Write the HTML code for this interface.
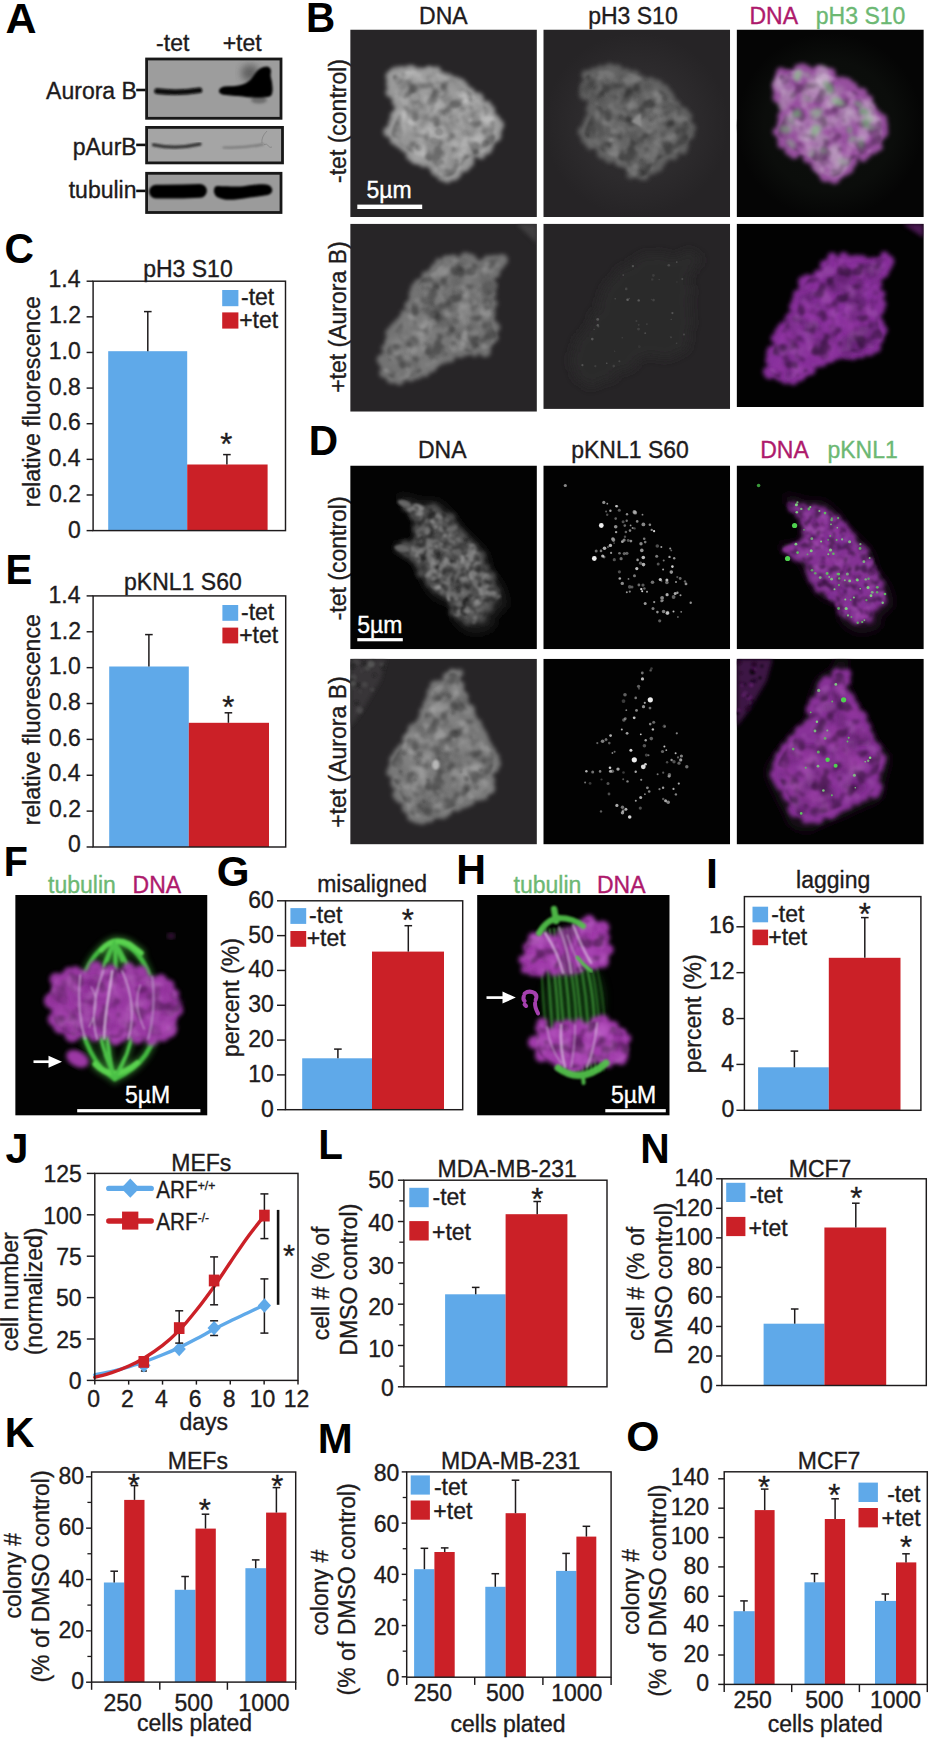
<!DOCTYPE html>
<html><head><meta charset="utf-8"><title>Figure</title>
<style>
html,body{margin:0;padding:0;background:#fff}
svg{display:block}
text{font-family:"Liberation Sans",Arial,Helvetica,sans-serif;stroke-width:0.35px}
</style></head><body>
<svg width="931" height="1739" viewBox="0 0 931 1739">
<defs>
<filter id="b1" x="-20%" y="-50%" width="140%" height="200%"><feGaussianBlur stdDeviation="0.9"/></filter>
<filter id="b2" x="-20%" y="-50%" width="140%" height="200%"><feGaussianBlur stdDeviation="1.8"/></filter>
<filter id="b3" x="-30%" y="-30%" width="160%" height="160%"><feGaussianBlur stdDeviation="3.5"/></filter>
<filter id="g1" x="-10%" y="-10%" width="120%" height="120%"><feGaussianBlur stdDeviation="1"/></filter>
<filter id="g2" x="-10%" y="-10%" width="120%" height="120%"><feGaussianBlur stdDeviation="2"/></filter>
<filter id="g3" x="-10%" y="-10%" width="120%" height="120%"><feGaussianBlur stdDeviation="3"/></filter>
<filter id="g5" x="-20%" y="-20%" width="140%" height="140%"><feGaussianBlur stdDeviation="5"/></filter>
<filter id="g12" x="-30%" y="-30%" width="160%" height="160%"><feGaussianBlur stdDeviation="12"/></filter>
<filter id="g06" x="-10%" y="-10%" width="120%" height="120%"><feGaussianBlur stdDeviation="0.6"/></filter>
<radialGradient id="glowA"><stop offset="0" stop-color="#2f2d2f"/><stop offset="0.6" stop-color="#2d2b2d"/><stop offset="1" stop-color="#262426"/></radialGradient>
<radialGradient id="glowB"><stop offset="0" stop-color="#0d100d"/><stop offset="0.7" stop-color="#0b0d0b"/><stop offset="1" stop-color="#050505"/></radialGradient>
<filter id="mW1" x="-5%" y="-5%" width="110%" height="110%" color-interpolation-filters="sRGB"><feTurbulence type="fractalNoise" baseFrequency="0.075" numOctaves="2" seed="3" result="t"/><feColorMatrix in="t" type="matrix" values="0 0 0 0 1  0 0 0 0 1  0 0 0 0 1  4.2 0 0 0 -2.0" result="w"/><feComposite in="w" in2="SourceGraphic" operator="in"/><feGaussianBlur stdDeviation="1.1"/></filter>
<filter id="mK1" x="-5%" y="-5%" width="110%" height="110%" color-interpolation-filters="sRGB"><feTurbulence type="fractalNoise" baseFrequency="0.075" numOctaves="2" seed="11" result="t"/><feColorMatrix in="t" type="matrix" values="0 0 0 0 0  0 0 0 0 0  0 0 0 0 0  4.2 0 0 0 -2.0" result="w"/><feComposite in="w" in2="SourceGraphic" operator="in"/><feGaussianBlur stdDeviation="1.1"/></filter>
<filter id="mW2" x="-5%" y="-5%" width="110%" height="110%" color-interpolation-filters="sRGB"><feTurbulence type="fractalNoise" baseFrequency="0.13" numOctaves="2" seed="5" result="t"/><feColorMatrix in="t" type="matrix" values="0 0 0 0 1  0 0 0 0 1  0 0 0 0 1  4.2 0 0 0 -2.0" result="w"/><feComposite in="w" in2="SourceGraphic" operator="in"/><feGaussianBlur stdDeviation="1.1"/></filter>
<filter id="mK2" x="-5%" y="-5%" width="110%" height="110%" color-interpolation-filters="sRGB"><feTurbulence type="fractalNoise" baseFrequency="0.13" numOctaves="2" seed="17" result="t"/><feColorMatrix in="t" type="matrix" values="0 0 0 0 0  0 0 0 0 0  0 0 0 0 0  4.2 0 0 0 -2.0" result="w"/><feComposite in="w" in2="SourceGraphic" operator="in"/><feGaussianBlur stdDeviation="1.1"/></filter>
<clipPath id="c1"><rect x="350.20" y="29.50" width="186.70" height="187.60"/></clipPath>
<clipPath id="c2"><rect x="543.30" y="29.50" width="186.80" height="187.60"/></clipPath>
<clipPath id="c3"><rect x="736.60" y="29.50" width="187.20" height="187.60"/></clipPath>
<clipPath id="c4"><rect x="350.20" y="223.70" width="186.70" height="188.00"/></clipPath>
<clipPath id="c5"><rect x="543.30" y="223.70" width="186.80" height="185.20"/></clipPath>
<clipPath id="c6"><rect x="736.60" y="223.70" width="187.20" height="183.40"/></clipPath>
<clipPath id="c7"><rect x="350.20" y="465.50" width="186.70" height="183.70"/></clipPath>
<clipPath id="c8"><rect x="543.30" y="465.50" width="186.80" height="183.70"/></clipPath>
<clipPath id="c9"><rect x="736.60" y="465.50" width="187.20" height="183.70"/></clipPath>
<clipPath id="c10"><rect x="350.20" y="658.80" width="186.70" height="185.60"/></clipPath>
<clipPath id="c11"><rect x="543.30" y="658.80" width="186.80" height="185.60"/></clipPath>
<clipPath id="c12"><rect x="736.60" y="658.80" width="187.20" height="185.60"/></clipPath>
<clipPath id="c13"><rect x="15.20" y="895.00" width="192.30" height="220.60"/></clipPath>
<clipPath id="c14"><rect x="477.10" y="895.00" width="192.60" height="220.60"/></clipPath>
</defs>
<rect width="931" height="1739" fill="#fff"/>
<g fill="#1e1b1c">
<text transform="translate(5.42 32.60) scale(1.0 1)" font-size="43" font-weight="bold" fill="#000">A</text>
<text x="156.08" y="51.40" font-size="23" stroke="#1e1b1c">-tet</text>
<text x="222.66" y="51.40" font-size="23" stroke="#1e1b1c">+tet</text>
<rect x="146.60" y="59.00" width="134.40" height="59.30" fill="#9d9d9d" stroke="#181818" stroke-width="2.8"/>
<rect x="146.60" y="127.40" width="135.90" height="35.50" fill="#a5a5a5" stroke="#181818" stroke-width="2.8"/>
<rect x="146.60" y="173.30" width="134.40" height="39.20" fill="#9b9b9b" stroke="#181818" stroke-width="2.8"/>
<text x="46.11" y="99.30" font-size="23" stroke="#1e1b1c">Aurora B</text>
<text x="72.72" y="154.50" font-size="23" stroke="#1e1b1c">pAurB</text>
<text x="68.74" y="197.70" font-size="23" stroke="#1e1b1c">tubulin</text>
<line x1="136.20" y1="90.00" x2="145.60" y2="90.00" stroke="#111" stroke-width="2.6"/>
<line x1="136.20" y1="144.90" x2="145.60" y2="144.90" stroke="#111" stroke-width="2.6"/>
<line x1="136.20" y1="190.90" x2="145.60" y2="190.90" stroke="#111" stroke-width="2.6"/>
<ellipse cx="250" cy="73" rx="9" ry="8.5" fill="#3a3a3a" opacity="0.6" filter="url(#b3)"/>
<ellipse cx="259" cy="100" rx="8" ry="3.5" fill="#3a3a3a" opacity="0.5" filter="url(#b2)"/>
<g filter="url(#b1)">
<path d="M157 91.1 Q178 93.6 199.500 90.3" fill="none" stroke="#080808" stroke-width="5.6" stroke-linecap="round"/>
<path d="M219.6 90.7C219.9 89.6 221.4 87.9 224.0 87.2C226.6 86.5 231.7 87.0 235.0 86.6C238.3 86.2 241.5 85.5 244.0 84.6C246.5 83.7 248.3 82.4 250.0 81.0C251.7 79.6 252.7 77.7 254.0 76.0C255.3 74.3 256.5 72.4 258.0 71.0C259.5 69.6 261.3 68.4 263.0 67.8C264.7 67.2 266.8 66.8 268.0 67.2C269.2 67.6 270.0 68.5 270.3 70.0C270.6 71.5 269.8 74.0 270.0 76.0C270.2 78.0 271.0 79.7 271.3 82.0C271.6 84.3 272.1 87.8 272.0 90.0C271.9 92.2 271.8 93.9 270.8 95.0C269.8 96.1 268.1 96.2 266.0 96.6C263.9 96.9 261.0 97.1 258.0 97.1C255.0 97.1 251.3 96.9 248.0 96.6C244.7 96.3 241.3 95.7 238.0 95.4C234.7 95.1 230.7 95.0 228.0 94.7C225.3 94.4 223.4 94.5 222.0 93.8C220.6 93.1 219.3 91.8 219.6 90.7Z" fill="#040404" stroke="#040404" stroke-width="1.2" stroke-linejoin="round"/>
</g>
<g filter="url(#b1)">
<path d="M153.500 144.8 Q176 149.6 200 144.2" fill="none" stroke="#333" stroke-width="3.3" stroke-linecap="round"/>
<path d="M223.500 147.5 Q245 148.2 263 144.4" fill="none" stroke="#7a7a7a" stroke-width="2.2" stroke-linecap="round"/>
</g>
<path d="M264 144.500 q3 -1 4 1 q2 3 4 1.500 M262 143 q-1 -6 5 -12" fill="none" stroke="#777" stroke-width="0.6"/>
<g filter="url(#b1)">
<path d="M156 191.600 Q180 191.800 200 190.800" fill="none" stroke="#040404" stroke-width="13.8" stroke-linecap="round"/>
<path d="M214.0 190.0C214.3 188.9 214.2 186.9 216.0 186.3C217.8 185.7 221.0 186.3 225.0 186.3C229.0 186.3 235.5 186.7 240.0 186.5C244.5 186.3 248.3 185.4 252.0 185.0C255.7 184.6 259.2 184.1 262.0 184.2C264.8 184.2 267.3 184.4 269.0 185.3C270.7 186.2 272.0 188.1 272.2 189.5C272.4 190.9 271.7 192.9 270.0 194.0C268.3 195.1 265.3 195.4 262.0 196.0C258.7 196.6 254.0 196.9 250.0 197.5C246.0 198.1 242.0 198.9 238.0 199.3C234.0 199.7 229.5 200.1 226.0 199.7C222.5 199.3 218.9 198.1 217.0 197.0C215.1 195.9 214.8 194.2 214.3 193.0C213.8 191.8 213.7 191.1 214.0 190.0Z" fill="#040404"/>
</g>
<text transform="translate(4.57 263.00) scale(0.947 1)" font-size="43" font-weight="bold" fill="#000">C</text>
<rect x="108.20" y="351.20" width="79.00" height="179.40" fill="#5fa9e9"/>
<rect x="187.20" y="464.50" width="80.40" height="66.10" fill="#cb2027"/>
<line x1="147.80" y1="311.60" x2="147.80" y2="351.20" stroke="#1e1b1c" stroke-width="1.5"/>
<line x1="144.00" y1="311.60" x2="151.60" y2="311.60" stroke="#1e1b1c" stroke-width="1.5"/>
<line x1="226.90" y1="454.60" x2="226.90" y2="464.50" stroke="#1e1b1c" stroke-width="1.5"/>
<line x1="223.10" y1="454.60" x2="230.70" y2="454.60" stroke="#1e1b1c" stroke-width="1.5"/>
<rect x="93.10" y="281.20" width="192.40" height="249.40" fill="none" stroke="#1e1b1c" stroke-width="1.45"/>
<line x1="86.60" y1="281.20" x2="93.10" y2="281.20" stroke="#1e1b1c" stroke-width="1.45"/>
<text x="48.51" y="286.90" font-size="23" stroke="#1e1b1c">1.4</text>
<line x1="86.60" y1="316.83" x2="93.10" y2="316.83" stroke="#1e1b1c" stroke-width="1.45"/>
<text x="48.97" y="322.79" font-size="23" stroke="#1e1b1c">1.2</text>
<line x1="86.60" y1="352.46" x2="93.10" y2="352.46" stroke="#1e1b1c" stroke-width="1.45"/>
<text x="48.74" y="358.67" font-size="23" stroke="#1e1b1c">1.0</text>
<line x1="86.60" y1="388.09" x2="93.10" y2="388.09" stroke="#1e1b1c" stroke-width="1.45"/>
<text x="48.85" y="394.56" font-size="23" stroke="#1e1b1c">0.8</text>
<line x1="86.60" y1="423.72" x2="93.10" y2="423.72" stroke="#1e1b1c" stroke-width="1.45"/>
<text x="48.85" y="430.45" font-size="23" stroke="#1e1b1c">0.6</text>
<line x1="86.60" y1="459.35" x2="93.10" y2="459.35" stroke="#1e1b1c" stroke-width="1.45"/>
<text x="48.51" y="466.34" font-size="23" stroke="#1e1b1c">0.4</text>
<line x1="86.60" y1="494.98" x2="93.10" y2="494.98" stroke="#1e1b1c" stroke-width="1.45"/>
<text x="48.97" y="502.22" font-size="23" stroke="#1e1b1c">0.2</text>
<line x1="86.60" y1="530.61" x2="93.10" y2="530.61" stroke="#1e1b1c" stroke-width="1.45"/>
<text x="67.94" y="538.11" font-size="23" stroke="#1e1b1c">0</text>
<text x="143.18" y="277.20" font-size="23" stroke="#1e1b1c">pH3 S10</text>
<rect x="222.20" y="290.00" width="16.20" height="16.20" fill="#5fa9e9"/>
<rect x="222.20" y="312.40" width="16.20" height="16.20" fill="#cb2027"/>
<text x="240.98" y="305.00" font-size="23" stroke="#1e1b1c">-tet</text>
<text x="239.16" y="327.90" font-size="23" stroke="#1e1b1c">+tet</text>
<text x="220.26" y="454.76" font-size="31" stroke="#1e1b1c">*</text>
<text x="40.30" y="507.24" font-size="23" stroke="#1e1b1c" transform="rotate(-90 40.30 507.24)">relative fluorescence</text>
<text transform="translate(5.39 583.60) scale(0.935 1)" font-size="43" font-weight="bold" fill="#000">E</text>
<rect x="109.20" y="666.50" width="79.60" height="180.50" fill="#5fa9e9"/>
<rect x="188.80" y="722.80" width="80.20" height="124.20" fill="#cb2027"/>
<line x1="148.90" y1="634.60" x2="148.90" y2="666.50" stroke="#1e1b1c" stroke-width="1.5"/>
<line x1="145.10" y1="634.60" x2="152.70" y2="634.60" stroke="#1e1b1c" stroke-width="1.5"/>
<line x1="228.40" y1="712.80" x2="228.40" y2="722.80" stroke="#1e1b1c" stroke-width="1.5"/>
<line x1="224.60" y1="712.80" x2="232.20" y2="712.80" stroke="#1e1b1c" stroke-width="1.5"/>
<rect x="93.10" y="595.90" width="192.60" height="251.10" fill="none" stroke="#1e1b1c" stroke-width="1.45"/>
<line x1="86.60" y1="595.90" x2="93.10" y2="595.90" stroke="#1e1b1c" stroke-width="1.45"/>
<text x="48.51" y="603.20" font-size="23" stroke="#1e1b1c">1.4</text>
<line x1="86.60" y1="631.77" x2="93.10" y2="631.77" stroke="#1e1b1c" stroke-width="1.45"/>
<text x="48.97" y="638.81" font-size="23" stroke="#1e1b1c">1.2</text>
<line x1="86.60" y1="667.64" x2="93.10" y2="667.64" stroke="#1e1b1c" stroke-width="1.45"/>
<text x="48.74" y="674.43" font-size="23" stroke="#1e1b1c">1.0</text>
<line x1="86.60" y1="703.51" x2="93.10" y2="703.51" stroke="#1e1b1c" stroke-width="1.45"/>
<text x="48.85" y="710.04" font-size="23" stroke="#1e1b1c">0.8</text>
<line x1="86.60" y1="739.38" x2="93.10" y2="739.38" stroke="#1e1b1c" stroke-width="1.45"/>
<text x="48.85" y="745.65" font-size="23" stroke="#1e1b1c">0.6</text>
<line x1="86.60" y1="775.25" x2="93.10" y2="775.25" stroke="#1e1b1c" stroke-width="1.45"/>
<text x="48.51" y="781.26" font-size="23" stroke="#1e1b1c">0.4</text>
<line x1="86.60" y1="811.12" x2="93.10" y2="811.12" stroke="#1e1b1c" stroke-width="1.45"/>
<text x="48.97" y="816.88" font-size="23" stroke="#1e1b1c">0.2</text>
<line x1="86.60" y1="846.99" x2="93.10" y2="846.99" stroke="#1e1b1c" stroke-width="1.45"/>
<text x="67.94" y="852.49" font-size="23" stroke="#1e1b1c">0</text>
<text x="124.09" y="590.00" font-size="23" stroke="#1e1b1c">pKNL1 S60</text>
<rect x="222.40" y="605.00" width="15.80" height="15.80" fill="#5fa9e9"/>
<rect x="222.40" y="627.60" width="15.80" height="15.80" fill="#cb2027"/>
<text x="240.98" y="620.00" font-size="23" stroke="#1e1b1c">-tet</text>
<text x="239.16" y="642.60" font-size="23" stroke="#1e1b1c">+tet</text>
<text x="222.36" y="717.76" font-size="31" stroke="#1e1b1c">*</text>
<text x="40.30" y="825.24" font-size="23" stroke="#1e1b1c" transform="rotate(-90 40.30 825.24)">relative fluorescence</text>
<text transform="translate(216.71 885.70) scale(0.98 1)" font-size="43" font-weight="bold" fill="#000">G</text>
<rect x="302.20" y="1058.30" width="69.80" height="51.40" fill="#5fa9e9"/>
<rect x="372.00" y="951.60" width="72.00" height="158.10" fill="#cb2027"/>
<line x1="337.90" y1="1049.10" x2="337.90" y2="1058.30" stroke="#1e1b1c" stroke-width="1.5"/>
<line x1="334.10" y1="1049.10" x2="341.70" y2="1049.10" stroke="#1e1b1c" stroke-width="1.5"/>
<line x1="408.30" y1="925.70" x2="408.30" y2="951.60" stroke="#1e1b1c" stroke-width="1.5"/>
<line x1="404.50" y1="925.70" x2="412.10" y2="925.70" stroke="#1e1b1c" stroke-width="1.5"/>
<rect x="285.50" y="900.80" width="177.20" height="208.90" fill="none" stroke="#1e1b1c" stroke-width="1.45"/>
<line x1="277.00" y1="900.80" x2="285.50" y2="900.80" stroke="#1e1b1c" stroke-width="1.45"/>
<text x="248.28" y="907.80" font-size="23" stroke="#1e1b1c">60</text>
<line x1="277.00" y1="935.62" x2="285.50" y2="935.62" stroke="#1e1b1c" stroke-width="1.45"/>
<text x="248.28" y="942.62" font-size="23" stroke="#1e1b1c">50</text>
<line x1="277.00" y1="970.44" x2="285.50" y2="970.44" stroke="#1e1b1c" stroke-width="1.45"/>
<text x="248.28" y="977.44" font-size="23" stroke="#1e1b1c">40</text>
<line x1="277.00" y1="1005.26" x2="285.50" y2="1005.26" stroke="#1e1b1c" stroke-width="1.45"/>
<text x="248.28" y="1012.26" font-size="23" stroke="#1e1b1c">30</text>
<line x1="277.00" y1="1040.08" x2="285.50" y2="1040.08" stroke="#1e1b1c" stroke-width="1.45"/>
<text x="248.28" y="1047.08" font-size="23" stroke="#1e1b1c">20</text>
<line x1="277.00" y1="1074.90" x2="285.50" y2="1074.90" stroke="#1e1b1c" stroke-width="1.45"/>
<text x="248.28" y="1081.90" font-size="23" stroke="#1e1b1c">10</text>
<line x1="277.00" y1="1109.72" x2="285.50" y2="1109.72" stroke="#1e1b1c" stroke-width="1.45"/>
<text x="261.04" y="1116.72" font-size="23" stroke="#1e1b1c">0</text>
<text x="317.17" y="892.40" font-size="23" stroke="#1e1b1c">misaligned</text>
<rect x="290.40" y="908.10" width="15.80" height="15.80" fill="#5fa9e9"/>
<rect x="290.40" y="931.00" width="15.80" height="15.80" fill="#cb2027"/>
<text x="309.08" y="923.20" font-size="23" stroke="#1e1b1c">-tet</text>
<text x="306.66" y="946.30" font-size="23" stroke="#1e1b1c">+tet</text>
<text x="401.85" y="930.76" font-size="31" stroke="#1e1b1c">*</text>
<text x="239.30" y="1057.06" font-size="23" stroke="#1e1b1c" transform="rotate(-90 239.30 1057.06)">percent (%)</text>
<text transform="translate(705.91 887.70) scale(1.0 1)" font-size="43" font-weight="bold" fill="#000">I</text>
<rect x="758.10" y="1067.30" width="70.70" height="43.00" fill="#5fa9e9"/>
<rect x="828.80" y="957.80" width="71.70" height="152.50" fill="#cb2027"/>
<line x1="794.40" y1="1051.10" x2="794.40" y2="1067.30" stroke="#1e1b1c" stroke-width="1.5"/>
<line x1="790.60" y1="1051.10" x2="798.20" y2="1051.10" stroke="#1e1b1c" stroke-width="1.5"/>
<line x1="864.80" y1="917.60" x2="864.80" y2="957.80" stroke="#1e1b1c" stroke-width="1.5"/>
<line x1="861.00" y1="917.60" x2="868.60" y2="917.60" stroke="#1e1b1c" stroke-width="1.5"/>
<rect x="744.40" y="896.60" width="176.50" height="213.70" fill="none" stroke="#1e1b1c" stroke-width="1.45"/>
<line x1="736.40" y1="926.80" x2="744.40" y2="926.80" stroke="#1e1b1c" stroke-width="1.45"/>
<text x="708.89" y="933.40" font-size="23" stroke="#1e1b1c">16</text>
<line x1="736.40" y1="972.67" x2="744.40" y2="972.67" stroke="#1e1b1c" stroke-width="1.45"/>
<text x="709.00" y="979.27" font-size="23" stroke="#1e1b1c">12</text>
<line x1="736.40" y1="1018.54" x2="744.40" y2="1018.54" stroke="#1e1b1c" stroke-width="1.45"/>
<text x="721.65" y="1025.14" font-size="23" stroke="#1e1b1c">8</text>
<line x1="736.40" y1="1064.41" x2="744.40" y2="1064.41" stroke="#1e1b1c" stroke-width="1.45"/>
<text x="721.31" y="1071.01" font-size="23" stroke="#1e1b1c">4</text>
<line x1="736.40" y1="1110.28" x2="744.40" y2="1110.28" stroke="#1e1b1c" stroke-width="1.45"/>
<text x="721.54" y="1116.88" font-size="23" stroke="#1e1b1c">0</text>
<text x="796.06" y="888.30" font-size="23" stroke="#1e1b1c">lagging</text>
<rect x="752.50" y="906.70" width="15.60" height="15.60" fill="#5fa9e9"/>
<rect x="752.50" y="929.60" width="15.60" height="15.60" fill="#cb2027"/>
<text x="771.18" y="921.80" font-size="23" stroke="#1e1b1c">-tet</text>
<text x="768.26" y="944.90" font-size="23" stroke="#1e1b1c">+tet</text>
<text x="858.75" y="925.17" font-size="31" stroke="#1e1b1c">*</text>
<text x="701.10" y="1073.25" font-size="23" stroke="#1e1b1c" transform="rotate(-90 701.10 1073.25)">percent (%)</text>
<text transform="translate(318.37 1158.70) scale(0.94 1)" font-size="43" font-weight="bold" fill="#000">L</text>
<rect x="445.10" y="1294.30" width="60.50" height="92.50" fill="#5fa9e9"/>
<rect x="505.60" y="1214.20" width="61.80" height="172.60" fill="#cb2027"/>
<line x1="475.70" y1="1287.40" x2="475.70" y2="1294.30" stroke="#1e1b1c" stroke-width="1.5"/>
<line x1="471.90" y1="1287.40" x2="479.50" y2="1287.40" stroke="#1e1b1c" stroke-width="1.5"/>
<line x1="537.20" y1="1201.50" x2="537.20" y2="1214.20" stroke="#1e1b1c" stroke-width="1.5"/>
<line x1="533.40" y1="1201.50" x2="541.00" y2="1201.50" stroke="#1e1b1c" stroke-width="1.5"/>
<rect x="403.90" y="1180.20" width="203.10" height="206.60" fill="none" stroke="#1e1b1c" stroke-width="1.45"/>
<line x1="397.90" y1="1180.20" x2="403.90" y2="1180.20" stroke="#1e1b1c" stroke-width="1.45"/>
<text x="368.27" y="1188.20" font-size="23" stroke="#1e1b1c">50</text>
<line x1="397.90" y1="1221.52" x2="403.90" y2="1221.52" stroke="#1e1b1c" stroke-width="1.45"/>
<text x="368.27" y="1230.60" font-size="23" stroke="#1e1b1c">40</text>
<line x1="397.90" y1="1262.84" x2="403.90" y2="1262.84" stroke="#1e1b1c" stroke-width="1.45"/>
<text x="368.27" y="1273.60" font-size="23" stroke="#1e1b1c">30</text>
<line x1="397.90" y1="1304.16" x2="403.90" y2="1304.16" stroke="#1e1b1c" stroke-width="1.45"/>
<text x="368.27" y="1315.00" font-size="23" stroke="#1e1b1c">20</text>
<line x1="397.90" y1="1345.48" x2="403.90" y2="1345.48" stroke="#1e1b1c" stroke-width="1.45"/>
<text x="368.27" y="1356.80" font-size="23" stroke="#1e1b1c">10</text>
<line x1="397.90" y1="1386.80" x2="403.90" y2="1386.80" stroke="#1e1b1c" stroke-width="1.45"/>
<text x="381.04" y="1396.20" font-size="23" stroke="#1e1b1c">0</text>
<line x1="399.30" y1="1200.86" x2="403.90" y2="1200.86" stroke="#1e1b1c" stroke-width="1.3"/>
<line x1="399.30" y1="1242.18" x2="403.90" y2="1242.18" stroke="#1e1b1c" stroke-width="1.3"/>
<line x1="399.30" y1="1283.50" x2="403.90" y2="1283.50" stroke="#1e1b1c" stroke-width="1.3"/>
<line x1="399.30" y1="1324.82" x2="403.90" y2="1324.82" stroke="#1e1b1c" stroke-width="1.3"/>
<line x1="399.30" y1="1366.14" x2="403.90" y2="1366.14" stroke="#1e1b1c" stroke-width="1.3"/>
<text x="437.57" y="1177.10" font-size="23" stroke="#1e1b1c">MDA-MB-231</text>
<rect x="409.30" y="1187.80" width="19.40" height="19.40" fill="#5fa9e9"/>
<rect x="409.30" y="1221.10" width="19.40" height="19.40" fill="#cb2027"/>
<text x="432.48" y="1204.60" font-size="23" stroke="#1e1b1c">-tet</text>
<text x="431.96" y="1240.00" font-size="23" stroke="#1e1b1c">+tet</text>
<text x="531.16" y="1209.56" font-size="31" stroke="#1e1b1c">*</text>
<text x="328.60" y="1340.29" font-size="23" stroke="#1e1b1c" transform="rotate(-90 328.60 1340.29)">cell # (% of</text>
<text x="356.80" y="1355.70" font-size="23" stroke="#1e1b1c" transform="rotate(-90 356.80 1355.70)">DMSO control)</text>
<text transform="translate(640.24 1163.40) scale(0.95 1)" font-size="43" font-weight="bold" fill="#000">N</text>
<rect x="763.60" y="1323.70" width="60.80" height="61.80" fill="#5fa9e9"/>
<rect x="824.40" y="1227.50" width="61.80" height="158.00" fill="#cb2027"/>
<line x1="794.70" y1="1309.00" x2="794.70" y2="1323.70" stroke="#1e1b1c" stroke-width="1.5"/>
<line x1="790.90" y1="1309.00" x2="798.50" y2="1309.00" stroke="#1e1b1c" stroke-width="1.5"/>
<line x1="855.80" y1="1203.20" x2="855.80" y2="1227.50" stroke="#1e1b1c" stroke-width="1.5"/>
<line x1="852.00" y1="1203.20" x2="859.60" y2="1203.20" stroke="#1e1b1c" stroke-width="1.5"/>
<rect x="721.90" y="1178.80" width="204.40" height="206.70" fill="none" stroke="#1e1b1c" stroke-width="1.45"/>
<line x1="716.10" y1="1178.80" x2="721.90" y2="1178.80" stroke="#1e1b1c" stroke-width="1.45"/>
<text x="674.41" y="1186.30" font-size="23" stroke="#1e1b1c">140</text>
<line x1="716.10" y1="1208.33" x2="721.90" y2="1208.33" stroke="#1e1b1c" stroke-width="1.45"/>
<text x="674.41" y="1215.83" font-size="23" stroke="#1e1b1c">120</text>
<line x1="716.10" y1="1237.86" x2="721.90" y2="1237.86" stroke="#1e1b1c" stroke-width="1.45"/>
<text x="674.41" y="1245.36" font-size="23" stroke="#1e1b1c">100</text>
<line x1="716.10" y1="1267.39" x2="721.90" y2="1267.39" stroke="#1e1b1c" stroke-width="1.45"/>
<text x="687.17" y="1274.89" font-size="23" stroke="#1e1b1c">80</text>
<line x1="716.10" y1="1296.92" x2="721.90" y2="1296.92" stroke="#1e1b1c" stroke-width="1.45"/>
<text x="687.17" y="1304.42" font-size="23" stroke="#1e1b1c">60</text>
<line x1="716.10" y1="1326.45" x2="721.90" y2="1326.45" stroke="#1e1b1c" stroke-width="1.45"/>
<text x="687.17" y="1333.95" font-size="23" stroke="#1e1b1c">40</text>
<line x1="716.10" y1="1355.98" x2="721.90" y2="1355.98" stroke="#1e1b1c" stroke-width="1.45"/>
<text x="687.17" y="1363.48" font-size="23" stroke="#1e1b1c">20</text>
<line x1="716.10" y1="1385.51" x2="721.90" y2="1385.51" stroke="#1e1b1c" stroke-width="1.45"/>
<text x="699.94" y="1393.01" font-size="23" stroke="#1e1b1c">0</text>
<text x="788.72" y="1176.80" font-size="23" stroke="#1e1b1c">MCF7</text>
<rect x="726.20" y="1182.80" width="19.20" height="19.20" fill="#5fa9e9"/>
<rect x="726.20" y="1216.90" width="19.20" height="19.20" fill="#cb2027"/>
<text x="749.38" y="1202.80" font-size="23" stroke="#1e1b1c">-tet</text>
<text x="748.57" y="1235.60" font-size="23" stroke="#1e1b1c">+tet</text>
<text x="850.25" y="1208.76" font-size="31" stroke="#1e1b1c">*</text>
<text x="644.10" y="1340.68" font-size="23" stroke="#1e1b1c" transform="rotate(-90 644.10 1340.68)">cell # (% of</text>
<text x="671.80" y="1354.60" font-size="23" stroke="#1e1b1c" transform="rotate(-90 671.80 1354.60)">DMSO control)</text>
<text transform="translate(4.83 1446.50) scale(0.955 1)" font-size="43" font-weight="bold" fill="#000">K</text>
<rect x="103.90" y="1582.50" width="20.30" height="99.60" fill="#5fa9e9"/>
<rect x="124.20" y="1499.90" width="20.30" height="182.20" fill="#cb2027"/>
<rect x="174.80" y="1589.80" width="20.70" height="92.30" fill="#5fa9e9"/>
<rect x="195.50" y="1528.60" width="20.30" height="153.50" fill="#cb2027"/>
<rect x="245.40" y="1568.20" width="20.70" height="113.90" fill="#5fa9e9"/>
<rect x="266.10" y="1512.60" width="20.30" height="169.50" fill="#cb2027"/>
<line x1="114.20" y1="1571.20" x2="114.20" y2="1582.50" stroke="#1e1b1c" stroke-width="1.5"/>
<line x1="110.40" y1="1571.20" x2="118.00" y2="1571.20" stroke="#1e1b1c" stroke-width="1.5"/>
<line x1="134.50" y1="1485.60" x2="134.50" y2="1499.90" stroke="#1e1b1c" stroke-width="1.5"/>
<line x1="130.70" y1="1485.60" x2="138.30" y2="1485.60" stroke="#1e1b1c" stroke-width="1.5"/>
<line x1="185.10" y1="1576.50" x2="185.10" y2="1589.80" stroke="#1e1b1c" stroke-width="1.5"/>
<line x1="181.30" y1="1576.50" x2="188.90" y2="1576.50" stroke="#1e1b1c" stroke-width="1.5"/>
<line x1="205.50" y1="1514.20" x2="205.50" y2="1528.60" stroke="#1e1b1c" stroke-width="1.5"/>
<line x1="201.70" y1="1514.20" x2="209.30" y2="1514.20" stroke="#1e1b1c" stroke-width="1.5"/>
<line x1="255.70" y1="1559.90" x2="255.70" y2="1568.20" stroke="#1e1b1c" stroke-width="1.5"/>
<line x1="251.90" y1="1559.90" x2="259.50" y2="1559.90" stroke="#1e1b1c" stroke-width="1.5"/>
<line x1="276.40" y1="1487.60" x2="276.40" y2="1512.60" stroke="#1e1b1c" stroke-width="1.5"/>
<line x1="272.60" y1="1487.60" x2="280.20" y2="1487.60" stroke="#1e1b1c" stroke-width="1.5"/>
<rect x="91.60" y="1472.00" width="204.10" height="210.10" fill="none" stroke="#1e1b1c" stroke-width="1.45"/>
<line x1="86.10" y1="1476.80" x2="91.60" y2="1476.80" stroke="#1e1b1c" stroke-width="1.45"/>
<text x="58.48" y="1483.80" font-size="23" stroke="#1e1b1c">80</text>
<line x1="86.10" y1="1528.15" x2="91.60" y2="1528.15" stroke="#1e1b1c" stroke-width="1.45"/>
<text x="58.48" y="1535.15" font-size="23" stroke="#1e1b1c">60</text>
<line x1="86.10" y1="1579.50" x2="91.60" y2="1579.50" stroke="#1e1b1c" stroke-width="1.45"/>
<text x="58.48" y="1586.50" font-size="23" stroke="#1e1b1c">40</text>
<line x1="86.10" y1="1630.85" x2="91.60" y2="1630.85" stroke="#1e1b1c" stroke-width="1.45"/>
<text x="58.48" y="1637.85" font-size="23" stroke="#1e1b1c">20</text>
<line x1="86.10" y1="1682.20" x2="91.60" y2="1682.20" stroke="#1e1b1c" stroke-width="1.45"/>
<text x="71.24" y="1689.20" font-size="23" stroke="#1e1b1c">0</text>
<line x1="87.40" y1="1502.40" x2="91.60" y2="1502.40" stroke="#1e1b1c" stroke-width="1.3"/>
<line x1="87.40" y1="1553.75" x2="91.60" y2="1553.75" stroke="#1e1b1c" stroke-width="1.3"/>
<line x1="87.40" y1="1605.10" x2="91.60" y2="1605.10" stroke="#1e1b1c" stroke-width="1.3"/>
<line x1="87.40" y1="1656.45" x2="91.60" y2="1656.45" stroke="#1e1b1c" stroke-width="1.3"/>
<line x1="91.60" y1="1682.10" x2="91.60" y2="1689.80" stroke="#1e1b1c" stroke-width="1.45"/>
<line x1="159.80" y1="1682.10" x2="159.80" y2="1689.80" stroke="#1e1b1c" stroke-width="1.45"/>
<line x1="227.40" y1="1682.10" x2="227.40" y2="1689.80" stroke="#1e1b1c" stroke-width="1.45"/>
<line x1="295.70" y1="1682.10" x2="295.70" y2="1689.80" stroke="#1e1b1c" stroke-width="1.45"/>
<text x="167.87" y="1469.30" font-size="23" stroke="#1e1b1c">MEFs</text>
<text x="127.86" y="1495.96" font-size="31" stroke="#1e1b1c">*</text>
<text x="198.76" y="1520.96" font-size="31" stroke="#1e1b1c">*</text>
<text x="271.35" y="1496.56" font-size="31" stroke="#1e1b1c">*</text>
<text x="103.38" y="1711.40" font-size="23" stroke="#1e1b1c">250</text>
<text x="174.59" y="1711.40" font-size="23" stroke="#1e1b1c">500</text>
<text x="238.35" y="1711.40" font-size="23" stroke="#1e1b1c">1000</text>
<text x="137.03" y="1731.40" font-size="23" stroke="#1e1b1c">cells plated</text>
<text x="21.30" y="1618.50" font-size="23" stroke="#1e1b1c" transform="rotate(-90 21.30 1618.50)">colony #</text>
<text x="49.30" y="1682.59" font-size="23" stroke="#1e1b1c" transform="rotate(-90 49.30 1682.59)">(% of DMSO control)</text>
<text transform="translate(317.87 1452.50) scale(0.977 1)" font-size="43" font-weight="bold" fill="#000">M</text>
<rect x="414.10" y="1569.20" width="20.30" height="108.00" fill="#5fa9e9"/>
<rect x="434.40" y="1552.00" width="20.30" height="125.20" fill="#cb2027"/>
<rect x="485.30" y="1586.80" width="20.30" height="90.40" fill="#5fa9e9"/>
<rect x="505.60" y="1513.20" width="20.30" height="164.00" fill="#cb2027"/>
<rect x="556.10" y="1570.90" width="20.30" height="106.30" fill="#5fa9e9"/>
<rect x="576.40" y="1536.60" width="19.90" height="140.60" fill="#cb2027"/>
<line x1="424.40" y1="1548.30" x2="424.40" y2="1569.20" stroke="#1e1b1c" stroke-width="1.5"/>
<line x1="420.60" y1="1548.30" x2="428.20" y2="1548.30" stroke="#1e1b1c" stroke-width="1.5"/>
<line x1="444.70" y1="1547.90" x2="444.70" y2="1552.00" stroke="#1e1b1c" stroke-width="1.5"/>
<line x1="440.90" y1="1547.90" x2="448.50" y2="1547.90" stroke="#1e1b1c" stroke-width="1.5"/>
<line x1="495.30" y1="1573.70" x2="495.30" y2="1586.80" stroke="#1e1b1c" stroke-width="1.5"/>
<line x1="491.50" y1="1573.70" x2="499.10" y2="1573.70" stroke="#1e1b1c" stroke-width="1.5"/>
<line x1="515.50" y1="1480.20" x2="515.50" y2="1513.20" stroke="#1e1b1c" stroke-width="1.5"/>
<line x1="511.70" y1="1480.20" x2="519.30" y2="1480.20" stroke="#1e1b1c" stroke-width="1.5"/>
<line x1="566.10" y1="1553.40" x2="566.10" y2="1570.90" stroke="#1e1b1c" stroke-width="1.5"/>
<line x1="562.30" y1="1553.40" x2="569.90" y2="1553.40" stroke="#1e1b1c" stroke-width="1.5"/>
<line x1="586.40" y1="1526.30" x2="586.40" y2="1536.60" stroke="#1e1b1c" stroke-width="1.5"/>
<line x1="582.60" y1="1526.30" x2="590.20" y2="1526.30" stroke="#1e1b1c" stroke-width="1.5"/>
<rect x="406.70" y="1471.90" width="204.40" height="205.30" fill="none" stroke="#1e1b1c" stroke-width="1.45"/>
<line x1="401.70" y1="1471.90" x2="406.70" y2="1471.90" stroke="#1e1b1c" stroke-width="1.45"/>
<text x="373.67" y="1480.90" font-size="23" stroke="#1e1b1c">80</text>
<line x1="401.70" y1="1523.12" x2="406.70" y2="1523.12" stroke="#1e1b1c" stroke-width="1.45"/>
<text x="373.67" y="1532.12" font-size="23" stroke="#1e1b1c">60</text>
<line x1="401.70" y1="1574.34" x2="406.70" y2="1574.34" stroke="#1e1b1c" stroke-width="1.45"/>
<text x="373.67" y="1583.34" font-size="23" stroke="#1e1b1c">40</text>
<line x1="401.70" y1="1625.56" x2="406.70" y2="1625.56" stroke="#1e1b1c" stroke-width="1.45"/>
<text x="373.67" y="1634.56" font-size="23" stroke="#1e1b1c">20</text>
<line x1="401.70" y1="1676.78" x2="406.70" y2="1676.78" stroke="#1e1b1c" stroke-width="1.45"/>
<text x="386.44" y="1685.78" font-size="23" stroke="#1e1b1c">0</text>
<line x1="402.70" y1="1497.50" x2="406.70" y2="1497.50" stroke="#1e1b1c" stroke-width="1.3"/>
<line x1="402.70" y1="1548.72" x2="406.70" y2="1548.72" stroke="#1e1b1c" stroke-width="1.3"/>
<line x1="402.70" y1="1599.94" x2="406.70" y2="1599.94" stroke="#1e1b1c" stroke-width="1.3"/>
<line x1="402.70" y1="1651.16" x2="406.70" y2="1651.16" stroke="#1e1b1c" stroke-width="1.3"/>
<line x1="406.70" y1="1677.20" x2="406.70" y2="1684.90" stroke="#1e1b1c" stroke-width="1.45"/>
<line x1="474.70" y1="1677.20" x2="474.70" y2="1684.90" stroke="#1e1b1c" stroke-width="1.45"/>
<line x1="542.90" y1="1677.20" x2="542.90" y2="1684.90" stroke="#1e1b1c" stroke-width="1.45"/>
<line x1="611.10" y1="1677.20" x2="611.10" y2="1684.90" stroke="#1e1b1c" stroke-width="1.45"/>
<text x="441.07" y="1468.80" font-size="23" stroke="#1e1b1c">MDA-MB-231</text>
<rect x="410.70" y="1475.40" width="19.20" height="19.20" fill="#5fa9e9"/>
<rect x="410.70" y="1500.50" width="19.20" height="19.20" fill="#cb2027"/>
<text x="433.88" y="1495.30" font-size="23" stroke="#1e1b1c">-tet</text>
<text x="433.36" y="1518.70" font-size="23" stroke="#1e1b1c">+tet</text>
<text x="413.68" y="1700.80" font-size="23" stroke="#1e1b1c">250</text>
<text x="485.90" y="1700.80" font-size="23" stroke="#1e1b1c">500</text>
<text x="551.15" y="1700.80" font-size="23" stroke="#1e1b1c">1000</text>
<text x="450.53" y="1731.50" font-size="23" stroke="#1e1b1c">cells plated</text>
<text x="327.90" y="1635.40" font-size="23" stroke="#1e1b1c" transform="rotate(-90 327.90 1635.40)">colony #</text>
<text x="355.50" y="1695.39" font-size="23" stroke="#1e1b1c" transform="rotate(-90 355.50 1695.39)">(% of DMSO control)</text>
<text transform="translate(626.19 1450.50) scale(0.993 1)" font-size="43" font-weight="bold" fill="#000">O</text>
<rect x="733.70" y="1611.20" width="21.00" height="73.20" fill="#5fa9e9"/>
<rect x="754.70" y="1510.10" width="19.90" height="174.30" fill="#cb2027"/>
<rect x="804.50" y="1582.30" width="20.30" height="102.10" fill="#5fa9e9"/>
<rect x="824.80" y="1519.00" width="20.30" height="165.40" fill="#cb2027"/>
<rect x="875.00" y="1600.90" width="21.00" height="83.50" fill="#5fa9e9"/>
<rect x="896.00" y="1562.40" width="20.30" height="122.00" fill="#cb2027"/>
<line x1="744.00" y1="1600.90" x2="744.00" y2="1611.20" stroke="#1e1b1c" stroke-width="1.5"/>
<line x1="740.20" y1="1600.90" x2="747.80" y2="1600.90" stroke="#1e1b1c" stroke-width="1.5"/>
<line x1="764.70" y1="1489.10" x2="764.70" y2="1510.10" stroke="#1e1b1c" stroke-width="1.5"/>
<line x1="760.90" y1="1489.10" x2="768.50" y2="1489.10" stroke="#1e1b1c" stroke-width="1.5"/>
<line x1="814.50" y1="1573.70" x2="814.50" y2="1582.30" stroke="#1e1b1c" stroke-width="1.5"/>
<line x1="810.70" y1="1573.70" x2="818.30" y2="1573.70" stroke="#1e1b1c" stroke-width="1.5"/>
<line x1="835.10" y1="1498.80" x2="835.10" y2="1519.00" stroke="#1e1b1c" stroke-width="1.5"/>
<line x1="831.30" y1="1498.80" x2="838.90" y2="1498.80" stroke="#1e1b1c" stroke-width="1.5"/>
<line x1="885.30" y1="1594.00" x2="885.30" y2="1600.90" stroke="#1e1b1c" stroke-width="1.5"/>
<line x1="881.50" y1="1594.00" x2="889.10" y2="1594.00" stroke="#1e1b1c" stroke-width="1.5"/>
<line x1="906.00" y1="1553.80" x2="906.00" y2="1562.40" stroke="#1e1b1c" stroke-width="1.5"/>
<line x1="902.20" y1="1553.80" x2="909.80" y2="1553.80" stroke="#1e1b1c" stroke-width="1.5"/>
<rect x="724.20" y="1471.80" width="203.10" height="212.60" fill="none" stroke="#1e1b1c" stroke-width="1.45"/>
<line x1="718.20" y1="1478.80" x2="724.20" y2="1478.80" stroke="#1e1b1c" stroke-width="1.45"/>
<text x="670.71" y="1485.40" font-size="23" stroke="#1e1b1c">140</text>
<line x1="718.20" y1="1508.17" x2="724.20" y2="1508.17" stroke="#1e1b1c" stroke-width="1.45"/>
<text x="670.71" y="1514.77" font-size="23" stroke="#1e1b1c">120</text>
<line x1="718.20" y1="1537.54" x2="724.20" y2="1537.54" stroke="#1e1b1c" stroke-width="1.45"/>
<text x="670.71" y="1544.14" font-size="23" stroke="#1e1b1c">100</text>
<line x1="718.20" y1="1566.91" x2="724.20" y2="1566.91" stroke="#1e1b1c" stroke-width="1.45"/>
<text x="683.48" y="1573.51" font-size="23" stroke="#1e1b1c">80</text>
<line x1="718.20" y1="1596.28" x2="724.20" y2="1596.28" stroke="#1e1b1c" stroke-width="1.45"/>
<text x="683.48" y="1602.88" font-size="23" stroke="#1e1b1c">60</text>
<line x1="718.20" y1="1625.65" x2="724.20" y2="1625.65" stroke="#1e1b1c" stroke-width="1.45"/>
<text x="683.48" y="1632.25" font-size="23" stroke="#1e1b1c">40</text>
<line x1="718.20" y1="1655.02" x2="724.20" y2="1655.02" stroke="#1e1b1c" stroke-width="1.45"/>
<text x="683.48" y="1661.62" font-size="23" stroke="#1e1b1c">20</text>
<line x1="718.20" y1="1684.39" x2="724.20" y2="1684.39" stroke="#1e1b1c" stroke-width="1.45"/>
<text x="696.24" y="1690.99" font-size="23" stroke="#1e1b1c">0</text>
<line x1="724.20" y1="1684.40" x2="724.20" y2="1692.10" stroke="#1e1b1c" stroke-width="1.45"/>
<line x1="791.70" y1="1684.40" x2="791.70" y2="1692.10" stroke="#1e1b1c" stroke-width="1.45"/>
<line x1="859.40" y1="1684.40" x2="859.40" y2="1692.10" stroke="#1e1b1c" stroke-width="1.45"/>
<line x1="927.30" y1="1684.40" x2="927.30" y2="1692.10" stroke="#1e1b1c" stroke-width="1.45"/>
<text x="797.72" y="1468.80" font-size="23" stroke="#1e1b1c">MCF7</text>
<rect x="858.50" y="1482.60" width="19.40" height="19.40" fill="#5fa9e9"/>
<rect x="858.50" y="1508.00" width="19.40" height="19.40" fill="#cb2027"/>
<text x="887.18" y="1502.20" font-size="23" stroke="#1e1b1c">-tet</text>
<text x="881.57" y="1526.30" font-size="23" stroke="#1e1b1c">+tet</text>
<text x="757.96" y="1497.56" font-size="31" stroke="#1e1b1c">*</text>
<text x="828.36" y="1506.16" font-size="31" stroke="#1e1b1c">*</text>
<text x="899.96" y="1558.37" font-size="31" stroke="#1e1b1c">*</text>
<text x="733.48" y="1707.80" font-size="23" stroke="#1e1b1c">250</text>
<text x="805.29" y="1707.80" font-size="23" stroke="#1e1b1c">500</text>
<text x="869.95" y="1707.80" font-size="23" stroke="#1e1b1c">1000</text>
<text x="767.73" y="1731.50" font-size="23" stroke="#1e1b1c">cells plated</text>
<text x="638.70" y="1634.70" font-size="23" stroke="#1e1b1c" transform="rotate(-90 638.70 1634.70)">colony #</text>
<text x="666.00" y="1696.69" font-size="23" stroke="#1e1b1c" transform="rotate(-90 666.00 1696.69)">(% of DMSO control)</text>
<text transform="translate(305.97 32.10) scale(0.94 1)" font-size="43" font-weight="bold" fill="#000">B</text>
<text x="419.12" y="23.90" font-size="23" stroke="#1e1b1c">DNA</text>
<text x="588.18" y="23.90" font-size="23" stroke="#1e1b1c">pH3 S10</text>
<text x="749.46" y="23.90" font-size="23" fill="#ae1a6c" stroke="#ae1a6c">DNA</text>
<text x="815.82" y="23.90" font-size="23" fill="#6cb873" stroke="#6cb873">pH3 S10</text>
<text x="345.80" y="182.96" font-size="23" stroke="#1e1b1c" transform="rotate(-90 345.80 182.96)">-tet (control)</text>
<text x="345.80" y="392.81" font-size="23" stroke="#1e1b1c" transform="rotate(-90 345.80 392.81)">+tet (Aurora B)</text>
<g clip-path="url(#c1)">
<rect x="350.20" y="29.50" width="186.70" height="187.60" fill="#272527"/>
<g transform="translate(350.20 29.50)">
<g filter="url(#g2)" fill="#969696" opacity="1.0"><path d="M43.8 44.3C47.2 42.6 55.2 40.0 62.2 39.7C69.3 39.4 79.4 40.7 86.2 42.4C92.9 44.1 97.2 46.7 102.7 49.8C108.2 52.8 114.2 56.8 119.3 60.8C124.3 64.8 128.9 69.4 133.1 73.7C137.2 78.0 141.8 82.3 144.1 86.6C146.4 90.9 146.9 94.9 146.9 99.5C146.9 104.1 146.4 110.0 144.1 114.2C141.8 118.3 137.5 121.7 133.1 124.3C128.6 126.9 121.3 127.1 117.4 129.8C113.6 132.6 113.1 137.8 110.1 140.9C107.0 143.9 103.0 147.6 99.0 148.2C95.1 148.8 89.8 147.3 86.2 144.5C82.5 141.8 80.9 135.0 77.0 131.7C73.0 128.3 66.8 126.9 62.2 124.3C57.6 121.7 53.0 119.2 49.4 116.0C45.7 112.8 40.8 109.6 40.2 105.0C39.5 100.4 44.1 93.3 45.7 88.4C47.2 83.5 50.0 79.8 49.4 75.5C48.7 71.2 43.2 67.0 42.0 62.7C40.8 58.4 41.7 52.8 42.0 49.8C42.3 46.7 40.5 45.9 43.8 44.3Z"/><circle cx="45.0" cy="44.8" r="6.4"/><circle cx="51.5" cy="41.9" r="5.2"/><circle cx="61.2" cy="42.1" r="6.3"/><circle cx="61.4" cy="41.5" r="5.2"/><circle cx="69.2" cy="42.2" r="4.2"/><circle cx="74.2" cy="43.1" r="4.1"/><circle cx="79.4" cy="40.2" r="3.5"/><circle cx="86.3" cy="41.6" r="4.6"/><circle cx="92.9" cy="46.7" r="4.2"/><circle cx="98.3" cy="49.0" r="4.9"/><circle cx="105.4" cy="51.5" r="4.5"/><circle cx="110.5" cy="53.1" r="4.1"/><circle cx="114.0" cy="56.7" r="4.3"/><circle cx="118.6" cy="64.0" r="6.5"/><circle cx="127.4" cy="68.8" r="6.0"/><circle cx="128.3" cy="70.2" r="5.4"/><circle cx="136.9" cy="75.2" r="4.0"/><circle cx="139.0" cy="81.0" r="5.9"/><circle cx="145.2" cy="90.6" r="4.9"/><circle cx="147.9" cy="95.5" r="5.9"/><circle cx="146.0" cy="102.0" r="5.2"/><circle cx="144.8" cy="106.2" r="6.4"/><circle cx="139.2" cy="115.9" r="4.3"/><circle cx="136.7" cy="119.6" r="5.3"/><circle cx="130.8" cy="125.4" r="4.1"/><circle cx="120.2" cy="130.3" r="3.8"/><circle cx="117.8" cy="132.7" r="5.9"/><circle cx="113.9" cy="136.4" r="6.1"/><circle cx="105.4" cy="143.3" r="6.1"/><circle cx="103.6" cy="145.6" r="5.6"/><circle cx="97.1" cy="149.4" r="4.2"/><circle cx="92.7" cy="146.6" r="5.1"/><circle cx="86.0" cy="141.1" r="5.3"/><circle cx="82.1" cy="136.1" r="4.5"/><circle cx="73.8" cy="131.3" r="6.4"/><circle cx="66.0" cy="128.2" r="6.4"/><circle cx="61.9" cy="125.4" r="6.3"/><circle cx="54.4" cy="118.5" r="4.2"/><circle cx="49.9" cy="113.5" r="5.2"/><circle cx="45.3" cy="109.9" r="5.7"/><circle cx="38.8" cy="102.2" r="5.6"/><circle cx="42.3" cy="93.5" r="4.3"/><circle cx="45.7" cy="86.7" r="5.9"/><circle cx="48.3" cy="79.4" r="3.9"/><circle cx="47.4" cy="72.4" r="5.6"/><circle cx="46.6" cy="67.5" r="5.7"/><circle cx="40.2" cy="63.0" r="4.8"/><circle cx="40.4" cy="54.7" r="4.6"/><circle cx="41.7" cy="47.0" r="6.3"/></g>
<g filter="url(#g2)"><ellipse cx="88.4" cy="100.0" rx="13.1" ry="7.7" fill="#b6b6b6" opacity="0.46" transform="rotate(153 88.4 100.0)"/><ellipse cx="90.7" cy="105.5" rx="8.1" ry="4.7" fill="#b6b6b6" opacity="0.41" transform="rotate(16 90.7 105.5)"/><ellipse cx="124.1" cy="113.5" rx="7.1" ry="4.2" fill="#b6b6b6" opacity="0.64" transform="rotate(117 124.1 113.5)"/><ellipse cx="104.7" cy="59.1" rx="6.9" ry="4.1" fill="#767676" opacity="0.32" transform="rotate(6 104.7 59.1)"/><ellipse cx="131.0" cy="104.0" rx="12.1" ry="7.1" fill="#6a6a6a" opacity="0.45" transform="rotate(151 131.0 104.0)"/><ellipse cx="95.1" cy="108.1" rx="10.2" ry="6.0" fill="#acacac" opacity="0.46" transform="rotate(50 95.1 108.1)"/><ellipse cx="127.1" cy="115.0" rx="8.9" ry="5.3" fill="#a2a2a2" opacity="0.48" transform="rotate(5 127.1 115.0)"/><ellipse cx="99.5" cy="54.1" rx="7.5" ry="4.4" fill="#6a6a6a" opacity="0.44" transform="rotate(172 99.5 54.1)"/><ellipse cx="82.9" cy="50.6" rx="11.1" ry="6.5" fill="#6a6a6a" opacity="0.42" transform="rotate(56 82.9 50.6)"/><ellipse cx="89.7" cy="92.6" rx="11.4" ry="6.7" fill="#a2a2a2" opacity="0.46" transform="rotate(34 89.7 92.6)"/><ellipse cx="85.3" cy="64.8" rx="8.6" ry="5.1" fill="#767676" opacity="0.41" transform="rotate(159 85.3 64.8)"/><ellipse cx="64.3" cy="83.2" rx="12.6" ry="7.4" fill="#767676" opacity="0.34" transform="rotate(178 64.3 83.2)"/><ellipse cx="64.6" cy="69.4" rx="12.1" ry="7.1" fill="#6a6a6a" opacity="0.59" transform="rotate(69 64.6 69.4)"/><ellipse cx="50.7" cy="64.3" rx="11.1" ry="6.5" fill="#acacac" opacity="0.51" transform="rotate(66 50.7 64.3)"/><ellipse cx="88.5" cy="140.5" rx="10.1" ry="5.9" fill="#767676" opacity="0.35" transform="rotate(69 88.5 140.5)"/><ellipse cx="105.9" cy="74.7" rx="8.4" ry="4.9" fill="#767676" opacity="0.39" transform="rotate(34 105.9 74.7)"/><ellipse cx="131.3" cy="104.4" rx="9.7" ry="5.7" fill="#acacac" opacity="0.34" transform="rotate(92 131.3 104.4)"/><ellipse cx="68.7" cy="118.2" rx="9.5" ry="5.6" fill="#b6b6b6" opacity="0.59" transform="rotate(107 68.7 118.2)"/><ellipse cx="72.6" cy="61.0" rx="11.7" ry="6.9" fill="#acacac" opacity="0.34" transform="rotate(86 72.6 61.0)"/><ellipse cx="108.5" cy="105.7" rx="7.3" ry="4.3" fill="#a2a2a2" opacity="0.62" transform="rotate(36 108.5 105.7)"/><ellipse cx="87.7" cy="49.3" rx="8.0" ry="4.7" fill="#6a6a6a" opacity="0.49" transform="rotate(175 87.7 49.3)"/><ellipse cx="52.5" cy="57.2" rx="9.9" ry="5.8" fill="#6a6a6a" opacity="0.53" transform="rotate(124 52.5 57.2)"/><ellipse cx="101.6" cy="57.4" rx="7.0" ry="4.1" fill="#acacac" opacity="0.47" transform="rotate(64 101.6 57.4)"/><ellipse cx="74.4" cy="46.6" rx="10.9" ry="6.4" fill="#acacac" opacity="0.47" transform="rotate(131 74.4 46.6)"/><ellipse cx="50.8" cy="98.6" rx="11.8" ry="6.9" fill="#a2a2a2" opacity="0.58" transform="rotate(164 50.8 98.6)"/><ellipse cx="78.4" cy="112.7" rx="12.9" ry="7.6" fill="#b6b6b6" opacity="0.63" transform="rotate(5 78.4 112.7)"/><ellipse cx="109.3" cy="81.6" rx="6.9" ry="4.0" fill="#acacac" opacity="0.33" transform="rotate(115 109.3 81.6)"/><ellipse cx="115.9" cy="82.6" rx="11.8" ry="6.9" fill="#767676" opacity="0.46" transform="rotate(83 115.9 82.6)"/><ellipse cx="97.3" cy="95.8" rx="10.3" ry="6.1" fill="#6a6a6a" opacity="0.51" transform="rotate(86 97.3 95.8)"/><ellipse cx="66.2" cy="114.0" rx="10.2" ry="6.0" fill="#767676" opacity="0.53" transform="rotate(87 66.2 114.0)"/><ellipse cx="132.7" cy="80.5" rx="7.8" ry="4.6" fill="#767676" opacity="0.37" transform="rotate(30 132.7 80.5)"/><ellipse cx="133.6" cy="110.1" rx="9.8" ry="5.8" fill="#a2a2a2" opacity="0.41" transform="rotate(119 133.6 110.1)"/><ellipse cx="63.1" cy="86.9" rx="12.3" ry="7.2" fill="#a2a2a2" opacity="0.61" transform="rotate(69 63.1 86.9)"/><ellipse cx="101.5" cy="75.3" rx="7.7" ry="4.5" fill="#b6b6b6" opacity="0.42" transform="rotate(161 101.5 75.3)"/><ellipse cx="47.3" cy="49.7" rx="13.5" ry="7.9" fill="#a2a2a2" opacity="0.34" transform="rotate(84 47.3 49.7)"/><ellipse cx="81.4" cy="95.9" rx="11.4" ry="6.7" fill="#767676" opacity="0.46" transform="rotate(13 81.4 95.9)"/><ellipse cx="100.2" cy="74.5" rx="12.2" ry="7.2" fill="#acacac" opacity="0.52" transform="rotate(72 100.2 74.5)"/><ellipse cx="69.9" cy="122.2" rx="12.2" ry="7.2" fill="#acacac" opacity="0.46" transform="rotate(113 69.9 122.2)"/><ellipse cx="108.6" cy="125.1" rx="13.3" ry="7.8" fill="#a2a2a2" opacity="0.37" transform="rotate(85 108.6 125.1)"/><ellipse cx="61.1" cy="44.3" rx="10.0" ry="5.9" fill="#acacac" opacity="0.36" transform="rotate(49 61.1 44.3)"/><ellipse cx="77.8" cy="113.9" rx="10.3" ry="6.1" fill="#767676" opacity="0.65" transform="rotate(28 77.8 113.9)"/><ellipse cx="128.0" cy="114.2" rx="8.3" ry="4.9" fill="#b6b6b6" opacity="0.63" transform="rotate(130 128.0 114.2)"/><ellipse cx="56.2" cy="89.2" rx="11.1" ry="6.5" fill="#acacac" opacity="0.43" transform="rotate(102 56.2 89.2)"/><ellipse cx="137.5" cy="90.2" rx="11.2" ry="6.6" fill="#a2a2a2" opacity="0.33" transform="rotate(155 137.5 90.2)"/><ellipse cx="55.6" cy="67.7" rx="9.5" ry="5.6" fill="#acacac" opacity="0.64" transform="rotate(96 55.6 67.7)"/><ellipse cx="122.2" cy="75.7" rx="13.0" ry="7.6" fill="#acacac" opacity="0.42" transform="rotate(14 122.2 75.7)"/><ellipse cx="87.3" cy="99.0" rx="12.0" ry="7.1" fill="#b6b6b6" opacity="0.62" transform="rotate(39 87.3 99.0)"/><ellipse cx="129.8" cy="86.7" rx="7.0" ry="4.1" fill="#767676" opacity="0.42" transform="rotate(141 129.8 86.7)"/><ellipse cx="57.3" cy="58.2" rx="10.3" ry="6.1" fill="#767676" opacity="0.59" transform="rotate(124 57.3 58.2)"/><ellipse cx="137.6" cy="93.1" rx="13.3" ry="7.8" fill="#acacac" opacity="0.57" transform="rotate(79 137.6 93.1)"/><ellipse cx="99.0" cy="127.5" rx="10.6" ry="6.2" fill="#a2a2a2" opacity="0.48" transform="rotate(151 99.0 127.5)"/><ellipse cx="99.1" cy="74.8" rx="9.4" ry="5.5" fill="#767676" opacity="0.37" transform="rotate(153 99.1 74.8)"/><ellipse cx="139.9" cy="96.4" rx="10.7" ry="6.3" fill="#a2a2a2" opacity="0.44" transform="rotate(20 139.9 96.4)"/><ellipse cx="134.8" cy="98.4" rx="13.5" ry="8.0" fill="#acacac" opacity="0.47" transform="rotate(124 134.8 98.4)"/><ellipse cx="49.9" cy="97.8" rx="9.6" ry="5.7" fill="#b6b6b6" opacity="0.39" transform="rotate(85 49.9 97.8)"/><ellipse cx="55.9" cy="87.2" rx="12.3" ry="7.3" fill="#b6b6b6" opacity="0.48" transform="rotate(19 55.9 87.2)"/><ellipse cx="85.1" cy="46.1" rx="8.6" ry="5.0" fill="#acacac" opacity="0.31" transform="rotate(27 85.1 46.1)"/><ellipse cx="115.5" cy="68.0" rx="10.2" ry="6.0" fill="#b6b6b6" opacity="0.56" transform="rotate(22 115.5 68.0)"/><ellipse cx="94.2" cy="68.6" rx="8.1" ry="4.8" fill="#767676" opacity="0.61" transform="rotate(4 94.2 68.6)"/><ellipse cx="106.4" cy="126.9" rx="11.0" ry="6.5" fill="#767676" opacity="0.37" transform="rotate(113 106.4 126.9)"/></g>
<g filter="url(#g1)"><circle cx="137.3" cy="93.3" r="2.8" fill="#a8a8a8" opacity="0.45"/><circle cx="106.1" cy="114.0" r="3.1" fill="#b4b4b4" opacity="0.42"/><circle cx="84.8" cy="82.1" r="2.6" fill="#b4b4b4" opacity="0.45"/><circle cx="115.6" cy="121.6" r="3.0" fill="#b4b4b4" opacity="0.33"/><circle cx="119.1" cy="67.4" r="3.1" fill="#5c5c5c" opacity="0.27"/><circle cx="85.7" cy="94.7" r="2.6" fill="#5c5c5c" opacity="0.37"/><circle cx="64.8" cy="67.3" r="3.9" fill="#b4b4b4" opacity="0.43"/><circle cx="85.2" cy="94.2" r="3.3" fill="#a8a8a8" opacity="0.33"/><circle cx="92.7" cy="130.5" r="3.9" fill="#a8a8a8" opacity="0.28"/><circle cx="111.4" cy="116.2" r="2.3" fill="#b4b4b4" opacity="0.29"/><circle cx="88.8" cy="102.4" r="3.9" fill="#5c5c5c" opacity="0.42"/><circle cx="87.5" cy="58.1" r="3.9" fill="#a8a8a8" opacity="0.44"/><circle cx="82.1" cy="112.9" r="3.0" fill="#a8a8a8" opacity="0.40"/><circle cx="112.2" cy="64.9" r="3.5" fill="#b4b4b4" opacity="0.38"/><circle cx="112.3" cy="80.5" r="2.9" fill="#5c5c5c" opacity="0.44"/><circle cx="106.4" cy="130.9" r="2.2" fill="#5c5c5c" opacity="0.34"/><circle cx="115.0" cy="103.4" r="3.5" fill="#5c5c5c" opacity="0.28"/><circle cx="95.2" cy="83.4" r="3.3" fill="#5c5c5c" opacity="0.31"/><circle cx="120.1" cy="90.8" r="2.1" fill="#b4b4b4" opacity="0.47"/><circle cx="66.4" cy="119.2" r="3.2" fill="#b4b4b4" opacity="0.26"/><circle cx="79.2" cy="78.7" r="2.4" fill="#a8a8a8" opacity="0.46"/><circle cx="120.3" cy="70.5" r="2.4" fill="#5c5c5c" opacity="0.32"/><circle cx="98.4" cy="82.6" r="3.3" fill="#a8a8a8" opacity="0.33"/><circle cx="126.0" cy="97.1" r="3.2" fill="#a8a8a8" opacity="0.33"/><circle cx="109.2" cy="125.3" r="3.4" fill="#a8a8a8" opacity="0.37"/><circle cx="135.4" cy="114.1" r="3.8" fill="#5c5c5c" opacity="0.32"/><circle cx="127.6" cy="119.3" r="3.8" fill="#b4b4b4" opacity="0.33"/><circle cx="110.5" cy="71.0" r="3.0" fill="#b4b4b4" opacity="0.39"/><circle cx="91.4" cy="133.3" r="2.7" fill="#5c5c5c" opacity="0.33"/><circle cx="98.7" cy="111.5" r="4.0" fill="#a8a8a8" opacity="0.41"/><circle cx="62.8" cy="91.5" r="2.6" fill="#a8a8a8" opacity="0.31"/><circle cx="88.3" cy="119.0" r="3.4" fill="#a8a8a8" opacity="0.25"/><circle cx="89.9" cy="62.6" r="3.8" fill="#b4b4b4" opacity="0.36"/><circle cx="95.7" cy="109.3" r="3.9" fill="#a8a8a8" opacity="0.47"/><circle cx="83.6" cy="111.6" r="3.8" fill="#5c5c5c" opacity="0.36"/><circle cx="125.9" cy="122.5" r="2.9" fill="#5c5c5c" opacity="0.45"/><circle cx="111.8" cy="62.5" r="3.5" fill="#5c5c5c" opacity="0.28"/><circle cx="68.7" cy="118.1" r="3.4" fill="#5c5c5c" opacity="0.46"/><circle cx="72.5" cy="69.4" r="3.4" fill="#a8a8a8" opacity="0.37"/><circle cx="86.2" cy="127.4" r="3.8" fill="#a8a8a8" opacity="0.30"/></g>
<path d="M44.8 45.3C48.1 43.7 55.9 41.1 62.8 40.8C69.7 40.5 79.6 41.9 86.2 43.5C92.8 45.2 97.0 47.7 102.4 50.7C107.8 53.7 113.6 57.6 118.6 61.5C123.5 65.4 128.0 69.9 132.1 74.1C136.2 78.3 140.7 82.5 142.9 86.7C145.2 90.9 145.6 94.8 145.6 99.3C145.6 103.8 145.2 109.7 142.9 113.7C140.7 117.8 136.4 121.1 132.1 123.6C127.8 126.2 120.5 126.3 116.8 129.0C113.0 131.7 112.6 136.8 109.6 139.8C106.6 142.8 102.7 146.4 98.8 147.0C94.9 147.6 89.8 146.1 86.2 143.4C82.6 140.7 81.1 134.1 77.2 130.8C73.3 127.5 67.3 126.2 62.8 123.6C58.3 121.1 53.8 118.7 50.2 115.5C46.6 112.4 41.8 109.2 41.2 104.7C40.6 100.2 45.1 93.3 46.6 88.5C48.1 83.7 50.8 80.1 50.2 75.9C49.6 71.7 44.2 67.5 43.0 63.3C41.8 59.1 42.7 53.7 43.0 50.7C43.3 47.7 41.5 47.0 44.8 45.3Z" fill="#fff" filter="url(#mW1)" opacity="0.22"/><path d="M44.8 45.3C48.1 43.7 55.9 41.1 62.8 40.8C69.7 40.5 79.6 41.9 86.2 43.5C92.8 45.2 97.0 47.7 102.4 50.7C107.8 53.7 113.6 57.6 118.6 61.5C123.5 65.4 128.0 69.9 132.1 74.1C136.2 78.3 140.7 82.5 142.9 86.7C145.2 90.9 145.6 94.8 145.6 99.3C145.6 103.8 145.2 109.7 142.9 113.7C140.7 117.8 136.4 121.1 132.1 123.6C127.8 126.2 120.5 126.3 116.8 129.0C113.0 131.7 112.6 136.8 109.6 139.8C106.6 142.8 102.7 146.4 98.8 147.0C94.9 147.6 89.8 146.1 86.2 143.4C82.6 140.7 81.1 134.1 77.2 130.8C73.3 127.5 67.3 126.2 62.8 123.6C58.3 121.1 53.8 118.7 50.2 115.5C46.6 112.4 41.8 109.2 41.2 104.7C40.6 100.2 45.1 93.3 46.6 88.5C48.1 83.7 50.8 80.1 50.2 75.9C49.6 71.7 44.2 67.5 43.0 63.3C41.8 59.1 42.7 53.7 43.0 50.7C43.3 47.7 41.5 47.0 44.8 45.3Z" fill="#fff" filter="url(#mK1)" opacity="0.3"/>
</g></g>
<rect x="357.30" y="204.60" width="64.90" height="4.40" fill="#fff"/>
<text x="366.48" y="198.20" font-size="23" fill="#fff" stroke="#fff">5µm</text>
<g clip-path="url(#c2)">
<rect x="543.30" y="29.50" width="186.80" height="187.60" fill="#262426"/>
<g transform="translate(543.30 29.50)">
<circle cx="93" cy="95" r="92" fill="url(#glowA)"/>
<g filter="url(#g2)" fill="#606060" opacity="1.0"><path d="M43.8 44.3C47.2 42.6 55.2 40.0 62.2 39.7C69.3 39.4 79.4 40.7 86.2 42.4C92.9 44.1 97.2 46.7 102.7 49.8C108.2 52.8 114.2 56.8 119.3 60.8C124.3 64.8 128.9 69.4 133.1 73.7C137.2 78.0 141.8 82.3 144.1 86.6C146.4 90.9 146.9 94.9 146.9 99.5C146.9 104.1 146.4 110.0 144.1 114.2C141.8 118.3 137.5 121.7 133.1 124.3C128.6 126.9 121.3 127.1 117.4 129.8C113.6 132.6 113.1 137.8 110.1 140.9C107.0 143.9 103.0 147.6 99.0 148.2C95.1 148.8 89.8 147.3 86.2 144.5C82.5 141.8 80.9 135.0 77.0 131.7C73.0 128.3 66.8 126.9 62.2 124.3C57.6 121.7 53.0 119.2 49.4 116.0C45.7 112.8 40.8 109.6 40.2 105.0C39.5 100.4 44.1 93.3 45.7 88.4C47.2 83.5 50.0 79.8 49.4 75.5C48.7 71.2 43.2 67.0 42.0 62.7C40.8 58.4 41.7 52.8 42.0 49.8C42.3 46.7 40.5 45.9 43.8 44.3Z"/><circle cx="43.1" cy="45.5" r="5.1"/><circle cx="50.3" cy="42.6" r="4.5"/><circle cx="57.2" cy="40.0" r="4.3"/><circle cx="66.3" cy="40.0" r="6.2"/><circle cx="69.2" cy="39.4" r="4.1"/><circle cx="74.5" cy="39.4" r="4.3"/><circle cx="82.9" cy="43.2" r="4.5"/><circle cx="90.2" cy="45.2" r="4.1"/><circle cx="91.6" cy="45.8" r="4.9"/><circle cx="98.3" cy="49.9" r="3.8"/><circle cx="107.3" cy="53.0" r="5.4"/><circle cx="111.3" cy="57.4" r="6.3"/><circle cx="114.1" cy="55.7" r="5.6"/><circle cx="121.2" cy="59.8" r="4.8"/><circle cx="124.1" cy="66.2" r="6.2"/><circle cx="128.0" cy="69.3" r="4.2"/><circle cx="133.2" cy="75.2" r="4.1"/><circle cx="140.0" cy="83.1" r="5.5"/><circle cx="144.5" cy="87.1" r="4.4"/><circle cx="144.8" cy="95.1" r="4.5"/><circle cx="147.9" cy="98.5" r="4.6"/><circle cx="145.9" cy="105.0" r="5.1"/><circle cx="139.3" cy="115.7" r="5.9"/><circle cx="139.5" cy="120.2" r="4.6"/><circle cx="130.3" cy="126.1" r="4.5"/><circle cx="123.3" cy="127.0" r="4.4"/><circle cx="117.7" cy="130.9" r="5.7"/><circle cx="114.6" cy="137.0" r="5.3"/><circle cx="109.4" cy="140.7" r="4.3"/><circle cx="101.0" cy="146.1" r="4.8"/><circle cx="97.8" cy="146.4" r="3.8"/><circle cx="89.0" cy="143.6" r="3.9"/><circle cx="87.2" cy="145.4" r="3.8"/><circle cx="81.4" cy="133.5" r="4.4"/><circle cx="76.6" cy="131.8" r="4.8"/><circle cx="66.5" cy="128.2" r="5.6"/><circle cx="59.3" cy="123.7" r="5.8"/><circle cx="55.7" cy="116.9" r="4.3"/><circle cx="47.0" cy="116.1" r="4.2"/><circle cx="43.2" cy="109.8" r="5.4"/><circle cx="40.3" cy="102.1" r="5.8"/><circle cx="43.7" cy="94.0" r="4.3"/><circle cx="45.6" cy="89.3" r="4.1"/><circle cx="49.0" cy="79.7" r="6.3"/><circle cx="49.8" cy="72.8" r="4.9"/><circle cx="42.2" cy="64.6" r="6.2"/><circle cx="41.6" cy="60.0" r="5.1"/><circle cx="43.1" cy="57.2" r="6.5"/><circle cx="44.6" cy="45.7" r="4.3"/></g>
<g filter="url(#g2)"><ellipse cx="90.6" cy="109.9" rx="8.5" ry="5.0" fill="#6a6a6a" opacity="0.41" transform="rotate(179 90.6 109.9)"/><ellipse cx="91.4" cy="108.5" rx="7.4" ry="4.4" fill="#6a6a6a" opacity="0.47" transform="rotate(119 91.4 108.5)"/><ellipse cx="57.8" cy="87.8" rx="5.9" ry="3.5" fill="#6a6a6a" opacity="0.32" transform="rotate(147 57.8 87.8)"/><ellipse cx="50.7" cy="112.9" rx="6.8" ry="4.0" fill="#7c7c7c" opacity="0.54" transform="rotate(15 50.7 112.9)"/><ellipse cx="109.3" cy="65.8" rx="10.1" ry="6.0" fill="#7c7c7c" opacity="0.58" transform="rotate(20 109.3 65.8)"/><ellipse cx="85.5" cy="56.9" rx="6.7" ry="3.9" fill="#6a6a6a" opacity="0.59" transform="rotate(159 85.5 56.9)"/><ellipse cx="98.7" cy="94.6" rx="5.5" ry="3.3" fill="#7c7c7c" opacity="0.50" transform="rotate(84 98.7 94.6)"/><ellipse cx="104.1" cy="98.1" rx="8.4" ry="4.9" fill="#747474" opacity="0.59" transform="rotate(175 104.1 98.1)"/><ellipse cx="109.5" cy="79.3" rx="7.0" ry="4.1" fill="#7c7c7c" opacity="0.50" transform="rotate(20 109.5 79.3)"/><ellipse cx="66.7" cy="80.0" rx="7.7" ry="4.5" fill="#6a6a6a" opacity="0.31" transform="rotate(148 66.7 80.0)"/><ellipse cx="86.2" cy="95.8" rx="6.2" ry="3.7" fill="#7c7c7c" opacity="0.31" transform="rotate(36 86.2 95.8)"/><ellipse cx="103.9" cy="119.6" rx="6.2" ry="3.7" fill="#747474" opacity="0.51" transform="rotate(6 103.9 119.6)"/><ellipse cx="70.9" cy="78.1" rx="8.3" ry="4.9" fill="#747474" opacity="0.45" transform="rotate(66 70.9 78.1)"/><ellipse cx="77.2" cy="89.4" rx="8.7" ry="5.1" fill="#7c7c7c" opacity="0.37" transform="rotate(177 77.2 89.4)"/><ellipse cx="89.6" cy="98.9" rx="6.0" ry="3.5" fill="#6a6a6a" opacity="0.57" transform="rotate(1 89.6 98.9)"/><ellipse cx="70.0" cy="121.4" rx="6.8" ry="4.0" fill="#6a6a6a" opacity="0.54" transform="rotate(90 70.0 121.4)"/><ellipse cx="68.0" cy="54.9" rx="6.9" ry="4.1" fill="#6a6a6a" opacity="0.31" transform="rotate(58 68.0 54.9)"/><ellipse cx="107.1" cy="66.4" rx="7.8" ry="4.6" fill="#7c7c7c" opacity="0.45" transform="rotate(63 107.1 66.4)"/><ellipse cx="111.6" cy="88.3" rx="8.9" ry="5.2" fill="#7c7c7c" opacity="0.39" transform="rotate(157 111.6 88.3)"/><ellipse cx="94.7" cy="113.8" rx="8.7" ry="5.1" fill="#6a6a6a" opacity="0.52" transform="rotate(93 94.7 113.8)"/><ellipse cx="46.0" cy="99.8" rx="6.5" ry="3.8" fill="#6a6a6a" opacity="0.37" transform="rotate(78 46.0 99.8)"/><ellipse cx="141.0" cy="100.0" rx="8.3" ry="4.9" fill="#444" opacity="0.53" transform="rotate(75 141.0 100.0)"/><ellipse cx="102.0" cy="134.6" rx="9.1" ry="5.4" fill="#444" opacity="0.59" transform="rotate(114 102.0 134.6)"/><ellipse cx="81.7" cy="59.5" rx="8.6" ry="5.1" fill="#6a6a6a" opacity="0.57" transform="rotate(143 81.7 59.5)"/><ellipse cx="96.6" cy="123.2" rx="7.0" ry="4.1" fill="#747474" opacity="0.51" transform="rotate(34 96.6 123.2)"/><ellipse cx="70.3" cy="123.6" rx="8.6" ry="5.1" fill="#7c7c7c" opacity="0.49" transform="rotate(22 70.3 123.6)"/><ellipse cx="96.6" cy="114.3" rx="7.1" ry="4.2" fill="#6a6a6a" opacity="0.32" transform="rotate(64 96.6 114.3)"/><ellipse cx="111.8" cy="116.3" rx="6.7" ry="3.9" fill="#6a6a6a" opacity="0.53" transform="rotate(118 111.8 116.3)"/><ellipse cx="87.5" cy="61.4" rx="8.5" ry="5.0" fill="#444" opacity="0.44" transform="rotate(159 87.5 61.4)"/><ellipse cx="52.9" cy="65.9" rx="10.0" ry="5.9" fill="#444" opacity="0.38" transform="rotate(36 52.9 65.9)"/><ellipse cx="86.4" cy="65.5" rx="9.8" ry="5.8" fill="#444" opacity="0.35" transform="rotate(83 86.4 65.5)"/><ellipse cx="103.8" cy="128.7" rx="6.4" ry="3.7" fill="#7c7c7c" opacity="0.54" transform="rotate(8 103.8 128.7)"/><ellipse cx="120.3" cy="84.5" rx="8.7" ry="5.1" fill="#7c7c7c" opacity="0.46" transform="rotate(79 120.3 84.5)"/><ellipse cx="48.5" cy="53.9" rx="8.0" ry="4.7" fill="#444" opacity="0.41" transform="rotate(131 48.5 53.9)"/><ellipse cx="75.4" cy="93.9" rx="6.9" ry="4.1" fill="#444" opacity="0.35" transform="rotate(85 75.4 93.9)"/><ellipse cx="92.6" cy="86.7" rx="7.0" ry="4.1" fill="#7c7c7c" opacity="0.58" transform="rotate(107 92.6 86.7)"/><ellipse cx="82.1" cy="131.8" rx="9.7" ry="5.7" fill="#444" opacity="0.34" transform="rotate(46 82.1 131.8)"/><ellipse cx="122.7" cy="81.6" rx="7.3" ry="4.3" fill="#444" opacity="0.40" transform="rotate(138 122.7 81.6)"/><ellipse cx="92.4" cy="138.5" rx="9.3" ry="5.4" fill="#6a6a6a" opacity="0.35" transform="rotate(36 92.4 138.5)"/><ellipse cx="125.2" cy="79.6" rx="8.8" ry="5.2" fill="#444" opacity="0.53" transform="rotate(154 125.2 79.6)"/><ellipse cx="120.4" cy="98.6" rx="5.2" ry="3.1" fill="#747474" opacity="0.41" transform="rotate(89 120.4 98.6)"/><ellipse cx="63.3" cy="53.1" rx="5.1" ry="3.0" fill="#6a6a6a" opacity="0.54" transform="rotate(90 63.3 53.1)"/><ellipse cx="106.7" cy="90.6" rx="8.3" ry="4.9" fill="#7c7c7c" opacity="0.56" transform="rotate(160 106.7 90.6)"/><ellipse cx="45.3" cy="58.9" rx="9.0" ry="5.3" fill="#444" opacity="0.51" transform="rotate(172 45.3 58.9)"/><ellipse cx="111.4" cy="86.5" rx="7.2" ry="4.2" fill="#444" opacity="0.53" transform="rotate(151 111.4 86.5)"/><ellipse cx="56.2" cy="49.5" rx="5.7" ry="3.3" fill="#747474" opacity="0.54" transform="rotate(150 56.2 49.5)"/><ellipse cx="111.8" cy="100.5" rx="9.8" ry="5.8" fill="#747474" opacity="0.48" transform="rotate(105 111.8 100.5)"/><ellipse cx="123.4" cy="107.0" rx="7.5" ry="4.4" fill="#444" opacity="0.43" transform="rotate(97 123.4 107.0)"/><ellipse cx="74.8" cy="67.7" rx="5.5" ry="3.3" fill="#444" opacity="0.59" transform="rotate(177 74.8 67.7)"/><ellipse cx="79.4" cy="73.4" rx="9.8" ry="5.8" fill="#6a6a6a" opacity="0.50" transform="rotate(2 79.4 73.4)"/><ellipse cx="66.1" cy="92.1" rx="8.8" ry="5.2" fill="#7c7c7c" opacity="0.53" transform="rotate(61 66.1 92.1)"/><ellipse cx="81.4" cy="130.7" rx="10.1" ry="6.0" fill="#7c7c7c" opacity="0.40" transform="rotate(160 81.4 130.7)"/><ellipse cx="106.7" cy="106.0" rx="5.4" ry="3.2" fill="#444" opacity="0.42" transform="rotate(110 106.7 106.0)"/><ellipse cx="55.9" cy="98.1" rx="10.0" ry="5.9" fill="#444" opacity="0.38" transform="rotate(75 55.9 98.1)"/><ellipse cx="106.3" cy="60.7" rx="7.9" ry="4.6" fill="#444" opacity="0.41" transform="rotate(55 106.3 60.7)"/><ellipse cx="76.2" cy="94.1" rx="7.4" ry="4.4" fill="#6a6a6a" opacity="0.49" transform="rotate(160 76.2 94.1)"/><ellipse cx="137.1" cy="106.1" rx="8.2" ry="4.8" fill="#6a6a6a" opacity="0.39" transform="rotate(59 137.1 106.1)"/><ellipse cx="108.9" cy="83.5" rx="7.7" ry="4.5" fill="#747474" opacity="0.55" transform="rotate(94 108.9 83.5)"/><ellipse cx="91.7" cy="52.4" rx="6.7" ry="3.9" fill="#7c7c7c" opacity="0.37" transform="rotate(12 91.7 52.4)"/><ellipse cx="111.9" cy="62.2" rx="6.5" ry="3.8" fill="#747474" opacity="0.49" transform="rotate(106 111.9 62.2)"/><ellipse cx="91.0" cy="140.5" rx="7.4" ry="4.4" fill="#7c7c7c" opacity="0.42" transform="rotate(83 91.0 140.5)"/><ellipse cx="79.1" cy="115.7" rx="8.9" ry="5.3" fill="#6a6a6a" opacity="0.48" transform="rotate(141 79.1 115.7)"/><ellipse cx="91.7" cy="110.1" rx="8.7" ry="5.1" fill="#444" opacity="0.41" transform="rotate(55 91.7 110.1)"/><ellipse cx="122.1" cy="82.8" rx="10.0" ry="5.9" fill="#7c7c7c" opacity="0.35" transform="rotate(150 122.1 82.8)"/><ellipse cx="85.3" cy="75.0" rx="6.4" ry="3.8" fill="#7c7c7c" opacity="0.55" transform="rotate(25 85.3 75.0)"/><ellipse cx="88.5" cy="97.1" rx="6.4" ry="3.7" fill="#6a6a6a" opacity="0.34" transform="rotate(149 88.5 97.1)"/><ellipse cx="81.2" cy="92.9" rx="8.2" ry="4.8" fill="#6a6a6a" opacity="0.34" transform="rotate(41 81.2 92.9)"/><ellipse cx="136.2" cy="96.8" rx="7.0" ry="4.1" fill="#6a6a6a" opacity="0.34" transform="rotate(37 136.2 96.8)"/><ellipse cx="67.1" cy="46.6" rx="7.9" ry="4.6" fill="#7c7c7c" opacity="0.33" transform="rotate(111 67.1 46.6)"/><ellipse cx="127.0" cy="108.5" rx="7.3" ry="4.3" fill="#747474" opacity="0.60" transform="rotate(69 127.0 108.5)"/></g>
<g filter="url(#g1)"><circle cx="91.3" cy="110.8" r="2.4" fill="#767676" opacity="0.37"/><circle cx="85.3" cy="110.5" r="2.0" fill="#767676" opacity="0.36"/><circle cx="116.0" cy="90.7" r="2.0" fill="#808080" opacity="0.43"/><circle cx="110.5" cy="112.9" r="2.6" fill="#767676" opacity="0.34"/><circle cx="104.1" cy="69.0" r="1.6" fill="#767676" opacity="0.31"/><circle cx="83.0" cy="122.6" r="1.6" fill="#808080" opacity="0.27"/><circle cx="67.8" cy="110.4" r="2.2" fill="#808080" opacity="0.47"/><circle cx="69.0" cy="124.4" r="2.7" fill="#808080" opacity="0.32"/><circle cx="86.8" cy="96.5" r="2.4" fill="#808080" opacity="0.30"/><circle cx="69.7" cy="101.6" r="2.8" fill="#808080" opacity="0.36"/><circle cx="66.5" cy="114.1" r="2.6" fill="#3e3e3e" opacity="0.44"/><circle cx="105.4" cy="102.0" r="2.3" fill="#808080" opacity="0.45"/><circle cx="93.7" cy="69.9" r="1.5" fill="#767676" opacity="0.42"/><circle cx="80.3" cy="82.8" r="2.0" fill="#767676" opacity="0.30"/><circle cx="74.3" cy="51.6" r="2.7" fill="#808080" opacity="0.44"/><circle cx="118.1" cy="86.9" r="1.6" fill="#3e3e3e" opacity="0.35"/><circle cx="98.4" cy="130.7" r="2.1" fill="#3e3e3e" opacity="0.34"/><circle cx="78.4" cy="87.9" r="3.0" fill="#3e3e3e" opacity="0.33"/><circle cx="127.1" cy="92.9" r="2.9" fill="#3e3e3e" opacity="0.42"/><circle cx="124.7" cy="113.4" r="2.8" fill="#3e3e3e" opacity="0.36"/><circle cx="84.7" cy="89.6" r="2.8" fill="#3e3e3e" opacity="0.46"/><circle cx="96.8" cy="89.4" r="2.3" fill="#3e3e3e" opacity="0.44"/><circle cx="125.0" cy="113.9" r="1.8" fill="#808080" opacity="0.37"/><circle cx="74.6" cy="51.5" r="2.2" fill="#3e3e3e" opacity="0.33"/><circle cx="121.8" cy="68.2" r="2.8" fill="#3e3e3e" opacity="0.48"/><circle cx="58.5" cy="64.2" r="2.6" fill="#3e3e3e" opacity="0.41"/><circle cx="111.1" cy="85.6" r="2.7" fill="#3e3e3e" opacity="0.30"/><circle cx="101.8" cy="109.7" r="2.3" fill="#767676" opacity="0.27"/><circle cx="53.4" cy="103.5" r="1.8" fill="#767676" opacity="0.50"/><circle cx="48.5" cy="56.3" r="2.3" fill="#3e3e3e" opacity="0.27"/><circle cx="74.7" cy="64.8" r="2.0" fill="#808080" opacity="0.31"/><circle cx="65.5" cy="50.5" r="1.8" fill="#808080" opacity="0.49"/><circle cx="100.0" cy="142.9" r="1.8" fill="#3e3e3e" opacity="0.39"/><circle cx="53.3" cy="74.1" r="1.9" fill="#767676" opacity="0.39"/><circle cx="122.0" cy="80.3" r="1.6" fill="#808080" opacity="0.33"/><circle cx="109.3" cy="99.9" r="2.9" fill="#767676" opacity="0.50"/><circle cx="61.0" cy="80.2" r="2.0" fill="#808080" opacity="0.40"/><circle cx="64.4" cy="51.2" r="2.5" fill="#3e3e3e" opacity="0.40"/><circle cx="73.3" cy="51.6" r="1.7" fill="#767676" opacity="0.31"/><circle cx="106.3" cy="71.1" r="2.2" fill="#3e3e3e" opacity="0.34"/><circle cx="66.8" cy="111.0" r="2.1" fill="#808080" opacity="0.49"/><circle cx="87.1" cy="99.0" r="2.7" fill="#767676" opacity="0.28"/><circle cx="44.6" cy="105.8" r="2.1" fill="#3e3e3e" opacity="0.36"/><circle cx="105.5" cy="133.0" r="2.1" fill="#767676" opacity="0.39"/><circle cx="98.3" cy="141.0" r="2.2" fill="#3e3e3e" opacity="0.29"/><circle cx="108.1" cy="80.8" r="2.7" fill="#3e3e3e" opacity="0.26"/><circle cx="112.2" cy="101.9" r="2.3" fill="#3e3e3e" opacity="0.27"/><circle cx="109.5" cy="76.6" r="3.0" fill="#3e3e3e" opacity="0.27"/><circle cx="108.7" cy="89.6" r="2.5" fill="#3e3e3e" opacity="0.27"/><circle cx="130.8" cy="106.3" r="2.6" fill="#808080" opacity="0.29"/></g>
<path d="M44.8 45.3C48.1 43.7 55.9 41.1 62.8 40.8C69.7 40.5 79.6 41.9 86.2 43.5C92.8 45.2 97.0 47.7 102.4 50.7C107.8 53.7 113.6 57.6 118.6 61.5C123.5 65.4 128.0 69.9 132.1 74.1C136.2 78.3 140.7 82.5 142.9 86.7C145.2 90.9 145.6 94.8 145.6 99.3C145.6 103.8 145.2 109.7 142.9 113.7C140.7 117.8 136.4 121.1 132.1 123.6C127.8 126.2 120.5 126.3 116.8 129.0C113.0 131.7 112.6 136.8 109.6 139.8C106.6 142.8 102.7 146.4 98.8 147.0C94.9 147.6 89.8 146.1 86.2 143.4C82.6 140.7 81.1 134.1 77.2 130.8C73.3 127.5 67.3 126.2 62.8 123.6C58.3 121.1 53.8 118.7 50.2 115.5C46.6 112.4 41.8 109.2 41.2 104.7C40.6 100.2 45.1 93.3 46.6 88.5C48.1 83.7 50.8 80.1 50.2 75.9C49.6 71.7 44.2 67.5 43.0 63.3C41.8 59.1 42.7 53.7 43.0 50.7C43.3 47.7 41.5 47.0 44.8 45.3Z" fill="#fff" filter="url(#mW1)" opacity="0.12"/><path d="M44.8 45.3C48.1 43.7 55.9 41.1 62.8 40.8C69.7 40.5 79.6 41.9 86.2 43.5C92.8 45.2 97.0 47.7 102.4 50.7C107.8 53.7 113.6 57.6 118.6 61.5C123.5 65.4 128.0 69.9 132.1 74.1C136.2 78.3 140.7 82.5 142.9 86.7C145.2 90.9 145.6 94.8 145.6 99.3C145.6 103.8 145.2 109.7 142.9 113.7C140.7 117.8 136.4 121.1 132.1 123.6C127.8 126.2 120.5 126.3 116.8 129.0C113.0 131.7 112.6 136.8 109.6 139.8C106.6 142.8 102.7 146.4 98.8 147.0C94.9 147.6 89.8 146.1 86.2 143.4C82.6 140.7 81.1 134.1 77.2 130.8C73.3 127.5 67.3 126.2 62.8 123.6C58.3 121.1 53.8 118.7 50.2 115.5C46.6 112.4 41.8 109.2 41.2 104.7C40.6 100.2 45.1 93.3 46.6 88.5C48.1 83.7 50.8 80.1 50.2 75.9C49.6 71.7 44.2 67.5 43.0 63.3C41.8 59.1 42.7 53.7 43.0 50.7C43.3 47.7 41.5 47.0 44.8 45.3Z" fill="#fff" filter="url(#mK1)" opacity="0.3"/>
<path d="M88 92 L97 84 L99 98 Z" fill="#8e8e8e" filter="url(#g1)"/>
</g></g>
<g clip-path="url(#c3)">
<rect x="736.60" y="29.50" width="187.20" height="187.60" fill="#050505"/>
<g transform="translate(736.60 29.50)">
<circle cx="93" cy="96" r="93" fill="url(#glowB)"/>
<g filter="url(#g2)" fill="#96509e" opacity="1.0"><path d="M43.8 44.3C47.2 42.6 55.2 40.0 62.2 39.7C69.3 39.4 79.4 40.7 86.2 42.4C92.9 44.1 97.2 46.7 102.7 49.8C108.2 52.8 114.2 56.8 119.3 60.8C124.3 64.8 128.9 69.4 133.1 73.7C137.2 78.0 141.8 82.3 144.1 86.6C146.4 90.9 146.9 94.9 146.9 99.5C146.9 104.1 146.4 110.0 144.1 114.2C141.8 118.3 137.5 121.7 133.1 124.3C128.6 126.9 121.3 127.1 117.4 129.8C113.6 132.6 113.1 137.8 110.1 140.9C107.0 143.9 103.0 147.6 99.0 148.2C95.1 148.8 89.8 147.3 86.2 144.5C82.5 141.8 80.9 135.0 77.0 131.7C73.0 128.3 66.8 126.9 62.2 124.3C57.6 121.7 53.0 119.2 49.4 116.0C45.7 112.8 40.8 109.6 40.2 105.0C39.5 100.4 44.1 93.3 45.7 88.4C47.2 83.5 50.0 79.8 49.4 75.5C48.7 71.2 43.2 67.0 42.0 62.7C40.8 58.4 41.7 52.8 42.0 49.8C42.3 46.7 40.5 45.9 43.8 44.3Z"/><circle cx="44.3" cy="42.9" r="4.8"/><circle cx="50.0" cy="44.5" r="4.8"/><circle cx="61.0" cy="38.5" r="3.5"/><circle cx="65.6" cy="39.7" r="5.9"/><circle cx="68.8" cy="40.5" r="5.4"/><circle cx="73.3" cy="41.8" r="4.4"/><circle cx="81.8" cy="40.3" r="4.6"/><circle cx="88.2" cy="43.8" r="5.8"/><circle cx="94.1" cy="43.4" r="4.9"/><circle cx="96.7" cy="49.3" r="4.0"/><circle cx="105.2" cy="53.3" r="6.2"/><circle cx="110.1" cy="53.7" r="5.7"/><circle cx="115.0" cy="58.3" r="6.4"/><circle cx="119.1" cy="63.0" r="5.5"/><circle cx="125.5" cy="63.6" r="5.3"/><circle cx="132.0" cy="69.7" r="4.2"/><circle cx="135.3" cy="78.0" r="4.0"/><circle cx="139.6" cy="84.4" r="4.6"/><circle cx="144.5" cy="89.9" r="6.0"/><circle cx="145.3" cy="95.9" r="6.1"/><circle cx="145.1" cy="102.7" r="6.5"/><circle cx="143.5" cy="107.4" r="4.1"/><circle cx="142.0" cy="117.5" r="4.1"/><circle cx="136.8" cy="119.7" r="5.0"/><circle cx="130.2" cy="124.2" r="4.6"/><circle cx="126.5" cy="128.4" r="3.9"/><circle cx="115.2" cy="132.1" r="5.7"/><circle cx="111.8" cy="139.1" r="5.3"/><circle cx="108.4" cy="141.7" r="4.8"/><circle cx="102.2" cy="144.0" r="5.5"/><circle cx="97.8" cy="148.6" r="5.8"/><circle cx="89.1" cy="146.2" r="6.3"/><circle cx="85.7" cy="141.7" r="5.1"/><circle cx="82.1" cy="136.9" r="6.4"/><circle cx="74.5" cy="129.8" r="4.4"/><circle cx="70.5" cy="128.9" r="4.3"/><circle cx="57.7" cy="124.0" r="5.2"/><circle cx="53.1" cy="120.9" r="5.2"/><circle cx="45.4" cy="114.6" r="4.6"/><circle cx="46.0" cy="108.9" r="5.5"/><circle cx="40.7" cy="102.3" r="4.6"/><circle cx="45.5" cy="94.8" r="5.3"/><circle cx="47.2" cy="87.0" r="6.3"/><circle cx="49.3" cy="83.2" r="5.8"/><circle cx="48.9" cy="75.3" r="5.8"/><circle cx="42.1" cy="67.8" r="6.2"/><circle cx="42.0" cy="59.8" r="5.9"/><circle cx="40.4" cy="55.9" r="4.9"/><circle cx="43.7" cy="48.8" r="5.8"/></g>
<g filter="url(#g2)"><ellipse cx="69.1" cy="112.7" rx="11.5" ry="6.7" fill="#a052aa" opacity="0.53" transform="rotate(119 69.1 112.7)"/><ellipse cx="130.0" cy="108.2" rx="8.1" ry="4.7" fill="#b79cba" opacity="0.49" transform="rotate(38 130.0 108.2)"/><ellipse cx="72.7" cy="87.0" rx="12.5" ry="7.4" fill="#98409f" opacity="0.65" transform="rotate(178 72.7 87.0)"/><ellipse cx="69.5" cy="88.9" rx="9.8" ry="5.7" fill="#a052aa" opacity="0.58" transform="rotate(46 69.5 88.9)"/><ellipse cx="128.1" cy="92.6" rx="11.9" ry="7.0" fill="#98409f" opacity="0.64" transform="rotate(120 128.1 92.6)"/><ellipse cx="131.9" cy="108.0" rx="11.3" ry="6.6" fill="#7c2c88" opacity="0.59" transform="rotate(143 131.9 108.0)"/><ellipse cx="98.6" cy="119.1" rx="7.7" ry="4.5" fill="#a98aae" opacity="0.56" transform="rotate(96 98.6 119.1)"/><ellipse cx="72.5" cy="61.4" rx="9.2" ry="5.4" fill="#7c2c88" opacity="0.46" transform="rotate(108 72.5 61.4)"/><ellipse cx="82.8" cy="56.4" rx="10.1" ry="6.0" fill="#a052aa" opacity="0.50" transform="rotate(159 82.8 56.4)"/><ellipse cx="86.2" cy="107.0" rx="10.0" ry="5.9" fill="#b79cba" opacity="0.55" transform="rotate(167 86.2 107.0)"/><ellipse cx="47.6" cy="57.5" rx="12.3" ry="7.2" fill="#c6b2ca" opacity="0.52" transform="rotate(28 47.6 57.5)"/><ellipse cx="84.5" cy="131.3" rx="12.8" ry="7.5" fill="#7c2c88" opacity="0.37" transform="rotate(153 84.5 131.3)"/><ellipse cx="80.7" cy="115.9" rx="7.7" ry="4.5" fill="#a98aae" opacity="0.51" transform="rotate(130 80.7 115.9)"/><ellipse cx="64.4" cy="105.8" rx="10.7" ry="6.3" fill="#98409f" opacity="0.31" transform="rotate(104 64.4 105.8)"/><ellipse cx="100.1" cy="61.6" rx="8.1" ry="4.8" fill="#a98aae" opacity="0.49" transform="rotate(162 100.1 61.6)"/><ellipse cx="60.0" cy="86.7" rx="10.8" ry="6.4" fill="#98409f" opacity="0.54" transform="rotate(174 60.0 86.7)"/><ellipse cx="125.6" cy="108.6" rx="10.4" ry="6.1" fill="#a052aa" opacity="0.65" transform="rotate(21 125.6 108.6)"/><ellipse cx="73.4" cy="70.5" rx="10.9" ry="6.4" fill="#b79cba" opacity="0.63" transform="rotate(93 73.4 70.5)"/><ellipse cx="75.2" cy="58.9" rx="10.6" ry="6.2" fill="#98409f" opacity="0.48" transform="rotate(85 75.2 58.9)"/><ellipse cx="110.1" cy="73.3" rx="7.0" ry="4.1" fill="#98409f" opacity="0.55" transform="rotate(28 110.1 73.3)"/><ellipse cx="57.9" cy="86.3" rx="12.4" ry="7.3" fill="#a052aa" opacity="0.39" transform="rotate(105 57.9 86.3)"/><ellipse cx="78.8" cy="67.9" rx="8.8" ry="5.1" fill="#a052aa" opacity="0.52" transform="rotate(76 78.8 67.9)"/><ellipse cx="74.9" cy="89.9" rx="7.3" ry="4.3" fill="#b79cba" opacity="0.51" transform="rotate(0 74.9 89.9)"/><ellipse cx="91.2" cy="99.4" rx="9.1" ry="5.3" fill="#7c2c88" opacity="0.48" transform="rotate(171 91.2 99.4)"/><ellipse cx="58.1" cy="48.5" rx="9.3" ry="5.5" fill="#a052aa" opacity="0.38" transform="rotate(54 58.1 48.5)"/><ellipse cx="82.0" cy="46.5" rx="7.7" ry="4.5" fill="#7c2c88" opacity="0.47" transform="rotate(105 82.0 46.5)"/><ellipse cx="101.5" cy="87.2" rx="9.2" ry="5.4" fill="#7c2c88" opacity="0.35" transform="rotate(144 101.5 87.2)"/><ellipse cx="97.7" cy="55.9" rx="6.8" ry="4.0" fill="#a052aa" opacity="0.62" transform="rotate(122 97.7 55.9)"/><ellipse cx="50.3" cy="70.0" rx="12.4" ry="7.3" fill="#b79cba" opacity="0.55" transform="rotate(119 50.3 70.0)"/><ellipse cx="136.6" cy="95.9" rx="13.1" ry="7.7" fill="#c6b2ca" opacity="0.37" transform="rotate(70 136.6 95.9)"/><ellipse cx="48.7" cy="98.7" rx="7.2" ry="4.2" fill="#98409f" opacity="0.35" transform="rotate(96 48.7 98.7)"/><ellipse cx="124.3" cy="97.3" rx="8.8" ry="5.2" fill="#98409f" opacity="0.40" transform="rotate(15 124.3 97.3)"/><ellipse cx="85.6" cy="106.3" rx="12.5" ry="7.3" fill="#a98aae" opacity="0.55" transform="rotate(165 85.6 106.3)"/><ellipse cx="47.3" cy="52.8" rx="9.6" ry="5.6" fill="#c6b2ca" opacity="0.46" transform="rotate(48 47.3 52.8)"/><ellipse cx="121.6" cy="88.8" rx="6.8" ry="4.0" fill="#b79cba" opacity="0.49" transform="rotate(49 121.6 88.8)"/><ellipse cx="80.7" cy="59.0" rx="12.5" ry="7.3" fill="#c6b2ca" opacity="0.44" transform="rotate(27 80.7 59.0)"/><ellipse cx="101.0" cy="140.4" rx="9.9" ry="5.9" fill="#c6b2ca" opacity="0.55" transform="rotate(149 101.0 140.4)"/><ellipse cx="91.4" cy="94.0" rx="7.7" ry="4.5" fill="#b79cba" opacity="0.51" transform="rotate(55 91.4 94.0)"/><ellipse cx="131.6" cy="93.6" rx="10.3" ry="6.1" fill="#b79cba" opacity="0.38" transform="rotate(134 131.6 93.6)"/><ellipse cx="108.0" cy="86.6" rx="13.3" ry="7.8" fill="#b79cba" opacity="0.57" transform="rotate(122 108.0 86.6)"/><ellipse cx="73.0" cy="106.0" rx="11.2" ry="6.6" fill="#a98aae" opacity="0.48" transform="rotate(166 73.0 106.0)"/><ellipse cx="69.0" cy="92.5" rx="10.9" ry="6.4" fill="#a052aa" opacity="0.41" transform="rotate(90 69.0 92.5)"/><ellipse cx="100.3" cy="133.7" rx="13.0" ry="7.6" fill="#a98aae" opacity="0.38" transform="rotate(9 100.3 133.7)"/><ellipse cx="113.2" cy="86.5" rx="13.0" ry="7.7" fill="#a98aae" opacity="0.30" transform="rotate(66 113.2 86.5)"/><ellipse cx="58.1" cy="90.5" rx="9.2" ry="5.4" fill="#a052aa" opacity="0.54" transform="rotate(129 58.1 90.5)"/><ellipse cx="109.8" cy="103.1" rx="8.5" ry="5.0" fill="#a052aa" opacity="0.34" transform="rotate(32 109.8 103.1)"/><ellipse cx="53.7" cy="98.6" rx="7.8" ry="4.6" fill="#a98aae" opacity="0.48" transform="rotate(139 53.7 98.6)"/><ellipse cx="130.7" cy="81.8" rx="12.3" ry="7.3" fill="#c6b2ca" opacity="0.58" transform="rotate(92 130.7 81.8)"/><ellipse cx="95.9" cy="71.6" rx="9.4" ry="5.5" fill="#b79cba" opacity="0.62" transform="rotate(123 95.9 71.6)"/><ellipse cx="80.7" cy="51.0" rx="10.1" ry="5.9" fill="#c6b2ca" opacity="0.41" transform="rotate(167 80.7 51.0)"/><ellipse cx="82.1" cy="92.0" rx="12.9" ry="7.6" fill="#b79cba" opacity="0.33" transform="rotate(38 82.1 92.0)"/><ellipse cx="57.8" cy="76.1" rx="8.8" ry="5.2" fill="#98409f" opacity="0.37" transform="rotate(168 57.8 76.1)"/><ellipse cx="72.7" cy="63.8" rx="13.4" ry="7.9" fill="#b79cba" opacity="0.56" transform="rotate(118 72.7 63.8)"/><ellipse cx="138.6" cy="99.4" rx="11.1" ry="6.5" fill="#7c2c88" opacity="0.36" transform="rotate(2 138.6 99.4)"/><ellipse cx="66.4" cy="100.5" rx="12.8" ry="7.5" fill="#a98aae" opacity="0.57" transform="rotate(73 66.4 100.5)"/><ellipse cx="51.3" cy="92.6" rx="10.3" ry="6.1" fill="#b79cba" opacity="0.32" transform="rotate(111 51.3 92.6)"/><ellipse cx="95.0" cy="96.0" rx="12.1" ry="7.1" fill="#a052aa" opacity="0.33" transform="rotate(139 95.0 96.0)"/><ellipse cx="73.7" cy="73.3" rx="8.6" ry="5.0" fill="#98409f" opacity="0.55" transform="rotate(75 73.7 73.3)"/><ellipse cx="71.5" cy="118.6" rx="8.2" ry="4.8" fill="#a98aae" opacity="0.33" transform="rotate(8 71.5 118.6)"/><ellipse cx="92.5" cy="103.9" rx="7.1" ry="4.2" fill="#98409f" opacity="0.49" transform="rotate(24 92.5 103.9)"/><ellipse cx="90.9" cy="91.7" rx="12.5" ry="7.4" fill="#b79cba" opacity="0.30" transform="rotate(159 90.9 91.7)"/><ellipse cx="52.1" cy="53.4" rx="12.2" ry="7.2" fill="#7c2c88" opacity="0.46" transform="rotate(75 52.1 53.4)"/><ellipse cx="95.2" cy="67.9" rx="7.8" ry="4.6" fill="#c6b2ca" opacity="0.31" transform="rotate(65 95.2 67.9)"/><ellipse cx="118.3" cy="118.9" rx="7.5" ry="4.4" fill="#a98aae" opacity="0.36" transform="rotate(30 118.3 118.9)"/><ellipse cx="85.9" cy="48.9" rx="13.3" ry="7.8" fill="#c6b2ca" opacity="0.57" transform="rotate(88 85.9 48.9)"/><ellipse cx="98.3" cy="126.1" rx="11.0" ry="6.5" fill="#c6b2ca" opacity="0.58" transform="rotate(71 98.3 126.1)"/><ellipse cx="82.6" cy="135.7" rx="9.5" ry="5.6" fill="#b79cba" opacity="0.49" transform="rotate(72 82.6 135.7)"/><ellipse cx="126.5" cy="103.4" rx="10.6" ry="6.2" fill="#c6b2ca" opacity="0.45" transform="rotate(96 126.5 103.4)"/><ellipse cx="118.1" cy="116.5" rx="11.9" ry="7.0" fill="#98409f" opacity="0.32" transform="rotate(130 118.1 116.5)"/><ellipse cx="85.6" cy="121.8" rx="8.1" ry="4.8" fill="#c6b2ca" opacity="0.44" transform="rotate(110 85.6 121.8)"/></g>
<path d="M44.8 45.3C48.1 43.7 55.9 41.1 62.8 40.8C69.7 40.5 79.6 41.9 86.2 43.5C92.8 45.2 97.0 47.7 102.4 50.7C107.8 53.7 113.6 57.6 118.6 61.5C123.5 65.4 128.0 69.9 132.1 74.1C136.2 78.3 140.7 82.5 142.9 86.7C145.2 90.9 145.6 94.8 145.6 99.3C145.6 103.8 145.2 109.7 142.9 113.7C140.7 117.8 136.4 121.1 132.1 123.6C127.8 126.2 120.5 126.3 116.8 129.0C113.0 131.7 112.6 136.8 109.6 139.8C106.6 142.8 102.7 146.4 98.8 147.0C94.9 147.6 89.8 146.1 86.2 143.4C82.6 140.7 81.1 134.1 77.2 130.8C73.3 127.5 67.3 126.2 62.8 123.6C58.3 121.1 53.8 118.7 50.2 115.5C46.6 112.4 41.8 109.2 41.2 104.7C40.6 100.2 45.1 93.3 46.6 88.5C48.1 83.7 50.8 80.1 50.2 75.9C49.6 71.7 44.2 67.5 43.0 63.3C41.8 59.1 42.7 53.7 43.0 50.7C43.3 47.7 41.5 47.0 44.8 45.3Z" fill="#fff" filter="url(#mW1)" opacity="0.2"/><path d="M44.8 45.3C48.1 43.7 55.9 41.1 62.8 40.8C69.7 40.5 79.6 41.9 86.2 43.5C92.8 45.2 97.0 47.7 102.4 50.7C107.8 53.7 113.6 57.6 118.6 61.5C123.5 65.4 128.0 69.9 132.1 74.1C136.2 78.3 140.7 82.5 142.9 86.7C145.2 90.9 145.6 94.8 145.6 99.3C145.6 103.8 145.2 109.7 142.9 113.7C140.7 117.8 136.4 121.1 132.1 123.6C127.8 126.2 120.5 126.3 116.8 129.0C113.0 131.7 112.6 136.8 109.6 139.8C106.6 142.8 102.7 146.4 98.8 147.0C94.9 147.6 89.8 146.1 86.2 143.4C82.6 140.7 81.1 134.1 77.2 130.8C73.3 127.5 67.3 126.2 62.8 123.6C58.3 121.1 53.8 118.7 50.2 115.5C46.6 112.4 41.8 109.2 41.2 104.7C40.6 100.2 45.1 93.3 46.6 88.5C48.1 83.7 50.8 80.1 50.2 75.9C49.6 71.7 44.2 67.5 43.0 63.3C41.8 59.1 42.7 53.7 43.0 50.7C43.3 47.7 41.5 47.0 44.8 45.3Z" fill="#fff" filter="url(#mK1)" opacity="0.28"/>
<g filter="url(#g2)"><ellipse cx="54.7" cy="114.0" rx="6.0" ry="3.5" fill="#86b888" opacity="0.49" transform="rotate(46 54.7 114.0)"/><ellipse cx="115.8" cy="109.6" rx="4.8" ry="2.8" fill="#6aa86e" opacity="0.54" transform="rotate(163 115.8 109.6)"/><ellipse cx="75.1" cy="124.4" rx="5.0" ry="2.9" fill="#86b888" opacity="0.46" transform="rotate(119 75.1 124.4)"/><ellipse cx="71.1" cy="45.4" rx="4.0" ry="2.3" fill="#8fc08f" opacity="0.41" transform="rotate(49 71.1 45.4)"/><ellipse cx="127.5" cy="82.2" rx="5.7" ry="3.4" fill="#6aa86e" opacity="0.71" transform="rotate(16 127.5 82.2)"/><ellipse cx="106.8" cy="132.2" rx="5.7" ry="3.4" fill="#8fc08f" opacity="0.46" transform="rotate(17 106.8 132.2)"/><ellipse cx="129.6" cy="95.2" rx="4.4" ry="2.6" fill="#6aa86e" opacity="0.62" transform="rotate(87 129.6 95.2)"/><ellipse cx="71.7" cy="69.6" rx="4.2" ry="2.4" fill="#78ac7a" opacity="0.50" transform="rotate(21 71.7 69.6)"/><ellipse cx="60.1" cy="85.1" rx="6.1" ry="3.6" fill="#78ac7a" opacity="0.55" transform="rotate(175 60.1 85.1)"/><ellipse cx="60.7" cy="82.7" rx="4.8" ry="2.8" fill="#6aa86e" opacity="0.55" transform="rotate(107 60.7 82.7)"/><ellipse cx="53.6" cy="91.4" rx="4.5" ry="2.7" fill="#6aa86e" opacity="0.42" transform="rotate(25 53.6 91.4)"/><ellipse cx="112.9" cy="101.0" rx="3.8" ry="2.2" fill="#6aa86e" opacity="0.73" transform="rotate(76 112.9 101.0)"/><ellipse cx="78.2" cy="100.8" rx="6.9" ry="4.1" fill="#8fc08f" opacity="0.52" transform="rotate(95 78.2 100.8)"/><ellipse cx="48.5" cy="99.8" rx="6.5" ry="3.8" fill="#78ac7a" opacity="0.54" transform="rotate(6 48.5 99.8)"/><ellipse cx="101.4" cy="72.3" rx="6.9" ry="4.1" fill="#8fc08f" opacity="0.75" transform="rotate(20 101.4 72.3)"/><ellipse cx="93.1" cy="62.4" rx="4.4" ry="2.6" fill="#8fc08f" opacity="0.50" transform="rotate(137 93.1 62.4)"/><ellipse cx="80.2" cy="99.9" rx="5.8" ry="3.4" fill="#86b888" opacity="0.58" transform="rotate(151 80.2 99.9)"/><ellipse cx="80.0" cy="82.4" rx="7.0" ry="4.1" fill="#8fc08f" opacity="0.57" transform="rotate(171 80.0 82.4)"/><ellipse cx="86.2" cy="121.0" rx="4.0" ry="2.4" fill="#78ac7a" opacity="0.45" transform="rotate(9 86.2 121.0)"/><ellipse cx="91.8" cy="56.8" rx="6.8" ry="4.0" fill="#78ac7a" opacity="0.67" transform="rotate(46 91.8 56.8)"/><ellipse cx="80.2" cy="86.5" rx="4.2" ry="2.5" fill="#86b888" opacity="0.43" transform="rotate(145 80.2 86.5)"/><ellipse cx="61.1" cy="46.0" rx="6.8" ry="4.0" fill="#8fc08f" opacity="0.75" transform="rotate(107 61.1 46.0)"/><ellipse cx="124.5" cy="114.0" rx="5.7" ry="3.4" fill="#6aa86e" opacity="0.49" transform="rotate(84 124.5 114.0)"/><ellipse cx="135.3" cy="98.1" rx="4.1" ry="2.4" fill="#78ac7a" opacity="0.55" transform="rotate(176 135.3 98.1)"/><ellipse cx="121.7" cy="74.6" rx="4.2" ry="2.5" fill="#6aa86e" opacity="0.71" transform="rotate(26 121.7 74.6)"/><ellipse cx="130.4" cy="90.8" rx="6.7" ry="3.9" fill="#78ac7a" opacity="0.50" transform="rotate(174 130.4 90.8)"/></g>
</g></g>
<g clip-path="url(#c4)">
<rect x="350.20" y="223.70" width="186.70" height="188.00" fill="#272527"/>
<g transform="translate(350.20 223.70)">
<g filter="url(#g2)" fill="#737373" opacity="1.0"><path d="M31.9 146.3C31.6 141.7 33.5 132.6 35.6 126.0C37.8 119.4 40.8 113.3 44.8 106.7C48.8 100.1 56.8 92.3 59.5 86.5C62.3 80.7 59.5 77.0 61.4 71.8C63.2 66.5 66.6 59.5 70.6 55.2C74.6 50.9 81.3 49.4 85.3 46.0C89.3 42.6 90.2 36.8 94.5 35.0C98.8 33.1 105.1 34.3 111.0 35.0C117.0 35.6 124.7 38.9 130.4 38.6C136.0 38.3 141.4 33.7 145.1 33.1C148.8 32.5 151.5 33.4 152.4 35.0C153.4 36.5 152.4 39.6 150.6 42.3C148.8 45.1 142.6 47.2 141.4 51.5C140.2 55.8 143.2 62.6 143.2 68.1C143.2 73.6 141.4 78.8 141.4 84.6C141.4 90.5 142.3 98.4 143.2 103.0C144.2 107.6 147.2 109.0 146.9 112.2C146.6 115.5 144.8 119.4 141.4 122.4C138.0 125.3 131.7 128.8 126.7 129.7C121.6 130.6 116.1 127.3 111.0 127.9C106.0 128.5 101.2 131.3 96.3 133.4C91.4 135.5 86.2 138.0 81.6 140.8C77.0 143.5 73.9 147.2 68.7 150.0C63.5 152.7 55.5 156.7 50.3 157.3C45.1 157.9 40.5 155.5 37.4 153.6C34.4 151.8 32.2 150.9 31.9 146.3Z"/><circle cx="34.1" cy="141.7" r="4.4"/><circle cx="32.2" cy="136.0" r="5.7"/><circle cx="35.6" cy="133.2" r="4.8"/><circle cx="35.2" cy="124.4" r="3.9"/><circle cx="40.2" cy="118.2" r="5.5"/><circle cx="41.1" cy="109.5" r="5.9"/><circle cx="44.9" cy="104.1" r="5.4"/><circle cx="49.7" cy="100.4" r="6.1"/><circle cx="53.7" cy="97.1" r="6.4"/><circle cx="54.4" cy="90.2" r="4.1"/><circle cx="59.0" cy="82.1" r="4.3"/><circle cx="62.8" cy="75.6" r="4.4"/><circle cx="62.9" cy="69.8" r="4.3"/><circle cx="64.2" cy="64.1" r="3.7"/><circle cx="69.3" cy="61.0" r="6.0"/><circle cx="75.4" cy="51.8" r="4.0"/><circle cx="80.4" cy="51.1" r="5.2"/><circle cx="85.8" cy="46.4" r="5.3"/><circle cx="88.5" cy="38.1" r="3.6"/><circle cx="95.6" cy="35.6" r="3.6"/><circle cx="103.2" cy="36.6" r="5.9"/><circle cx="115.3" cy="34.6" r="6.0"/><circle cx="120.3" cy="36.3" r="6.2"/><circle cx="124.9" cy="39.0" r="4.3"/><circle cx="132.8" cy="39.6" r="4.1"/><circle cx="137.9" cy="37.1" r="5.5"/><circle cx="144.2" cy="34.7" r="3.6"/><circle cx="151.7" cy="36.3" r="6.1"/><circle cx="148.6" cy="41.5" r="5.4"/><circle cx="144.4" cy="49.2" r="5.6"/><circle cx="140.5" cy="54.0" r="3.7"/><circle cx="141.9" cy="62.0" r="4.9"/><circle cx="142.4" cy="70.5" r="3.7"/><circle cx="143.5" cy="79.7" r="3.8"/><circle cx="141.3" cy="86.7" r="3.8"/><circle cx="141.0" cy="91.7" r="4.1"/><circle cx="143.3" cy="100.5" r="3.9"/><circle cx="144.9" cy="103.7" r="5.1"/><circle cx="143.9" cy="114.1" r="4.3"/><circle cx="136.3" cy="123.2" r="4.1"/><circle cx="134.9" cy="127.7" r="5.7"/><circle cx="124.5" cy="129.2" r="3.6"/><circle cx="116.5" cy="127.7" r="4.4"/><circle cx="109.9" cy="128.4" r="6.0"/><circle cx="99.6" cy="133.3" r="5.5"/><circle cx="92.3" cy="134.1" r="6.3"/><circle cx="86.3" cy="137.7" r="5.5"/><circle cx="81.4" cy="142.6" r="5.3"/><circle cx="74.8" cy="148.9" r="4.4"/><circle cx="67.6" cy="151.7" r="3.8"/><circle cx="60.9" cy="153.5" r="4.4"/><circle cx="57.2" cy="153.2" r="3.7"/><circle cx="49.1" cy="156.4" r="5.1"/><circle cx="41.3" cy="154.6" r="5.4"/><circle cx="33.9" cy="149.5" r="4.8"/></g>
<g filter="url(#g2)"><ellipse cx="55.0" cy="117.0" rx="9.7" ry="5.7" fill="#8a8a8a" opacity="0.55" transform="rotate(178 55.0 117.0)"/><ellipse cx="57.1" cy="98.2" rx="10.6" ry="6.3" fill="#868686" opacity="0.41" transform="rotate(105 57.1 98.2)"/><ellipse cx="44.2" cy="129.1" rx="7.3" ry="4.3" fill="#7c7c7c" opacity="0.51" transform="rotate(78 44.2 129.1)"/><ellipse cx="82.2" cy="88.3" rx="11.6" ry="6.8" fill="#585858" opacity="0.45" transform="rotate(20 82.2 88.3)"/><ellipse cx="53.8" cy="131.9" rx="6.7" ry="3.9" fill="#868686" opacity="0.44" transform="rotate(99 53.8 131.9)"/><ellipse cx="75.0" cy="93.2" rx="7.1" ry="4.2" fill="#868686" opacity="0.44" transform="rotate(147 75.0 93.2)"/><ellipse cx="99.3" cy="82.0" rx="8.0" ry="4.7" fill="#7c7c7c" opacity="0.57" transform="rotate(73 99.3 82.0)"/><ellipse cx="77.5" cy="89.4" rx="8.2" ry="4.9" fill="#8a8a8a" opacity="0.42" transform="rotate(4 77.5 89.4)"/><ellipse cx="46.9" cy="120.3" rx="11.9" ry="7.0" fill="#8a8a8a" opacity="0.30" transform="rotate(12 46.9 120.3)"/><ellipse cx="103.9" cy="97.6" rx="9.4" ry="5.5" fill="#505050" opacity="0.47" transform="rotate(112 103.9 97.6)"/><ellipse cx="75.4" cy="106.3" rx="7.8" ry="4.6" fill="#868686" opacity="0.35" transform="rotate(166 75.4 106.3)"/><ellipse cx="94.9" cy="113.4" rx="7.4" ry="4.3" fill="#7c7c7c" opacity="0.59" transform="rotate(106 94.9 113.4)"/><ellipse cx="135.9" cy="94.0" rx="8.2" ry="4.8" fill="#7c7c7c" opacity="0.58" transform="rotate(44 135.9 94.0)"/><ellipse cx="99.7" cy="88.0" rx="8.4" ry="4.9" fill="#8a8a8a" opacity="0.32" transform="rotate(51 99.7 88.0)"/><ellipse cx="132.5" cy="113.4" rx="6.2" ry="3.6" fill="#7c7c7c" opacity="0.35" transform="rotate(12 132.5 113.4)"/><ellipse cx="74.5" cy="141.4" rx="11.8" ry="6.9" fill="#8a8a8a" opacity="0.31" transform="rotate(25 74.5 141.4)"/><ellipse cx="137.7" cy="79.4" rx="6.9" ry="4.0" fill="#505050" opacity="0.48" transform="rotate(76 137.7 79.4)"/><ellipse cx="71.1" cy="99.0" rx="7.6" ry="4.5" fill="#868686" opacity="0.41" transform="rotate(22 71.1 99.0)"/><ellipse cx="117.0" cy="67.7" rx="7.9" ry="4.6" fill="#7c7c7c" opacity="0.56" transform="rotate(105 117.0 67.7)"/><ellipse cx="65.4" cy="84.1" rx="11.7" ry="6.9" fill="#7c7c7c" opacity="0.34" transform="rotate(17 65.4 84.1)"/><ellipse cx="86.7" cy="53.3" rx="11.1" ry="6.5" fill="#505050" opacity="0.34" transform="rotate(96 86.7 53.3)"/><ellipse cx="72.9" cy="94.3" rx="7.3" ry="4.3" fill="#7c7c7c" opacity="0.35" transform="rotate(154 72.9 94.3)"/><ellipse cx="59.1" cy="123.4" rx="10.5" ry="6.1" fill="#585858" opacity="0.51" transform="rotate(157 59.1 123.4)"/><ellipse cx="43.5" cy="125.7" rx="7.0" ry="4.1" fill="#7c7c7c" opacity="0.38" transform="rotate(125 43.5 125.7)"/><ellipse cx="80.2" cy="72.9" rx="11.3" ry="6.7" fill="#505050" opacity="0.55" transform="rotate(144 80.2 72.9)"/><ellipse cx="91.6" cy="103.5" rx="9.2" ry="5.4" fill="#868686" opacity="0.45" transform="rotate(132 91.6 103.5)"/><ellipse cx="115.2" cy="98.0" rx="9.3" ry="5.5" fill="#868686" opacity="0.48" transform="rotate(58 115.2 98.0)"/><ellipse cx="110.5" cy="85.8" rx="11.1" ry="6.5" fill="#868686" opacity="0.49" transform="rotate(145 110.5 85.8)"/><ellipse cx="115.9" cy="91.6" rx="9.0" ry="5.3" fill="#8a8a8a" opacity="0.32" transform="rotate(4 115.9 91.6)"/><ellipse cx="110.9" cy="41.8" rx="7.6" ry="4.5" fill="#585858" opacity="0.55" transform="rotate(130 110.9 41.8)"/><ellipse cx="87.7" cy="64.4" rx="8.2" ry="4.8" fill="#8a8a8a" opacity="0.37" transform="rotate(164 87.7 64.4)"/><ellipse cx="110.1" cy="41.3" rx="7.0" ry="4.1" fill="#505050" opacity="0.52" transform="rotate(160 110.1 41.3)"/><ellipse cx="124.2" cy="109.7" rx="10.5" ry="6.2" fill="#585858" opacity="0.51" transform="rotate(122 124.2 109.7)"/><ellipse cx="64.0" cy="143.4" rx="8.2" ry="4.9" fill="#585858" opacity="0.41" transform="rotate(94 64.0 143.4)"/><ellipse cx="135.0" cy="120.1" rx="6.5" ry="3.8" fill="#7c7c7c" opacity="0.32" transform="rotate(54 135.0 120.1)"/><ellipse cx="88.5" cy="49.5" rx="11.6" ry="6.8" fill="#8a8a8a" opacity="0.36" transform="rotate(60 88.5 49.5)"/><ellipse cx="108.7" cy="116.1" rx="7.5" ry="4.4" fill="#868686" opacity="0.40" transform="rotate(45 108.7 116.1)"/><ellipse cx="131.6" cy="54.8" rx="10.0" ry="5.9" fill="#7c7c7c" opacity="0.37" transform="rotate(123 131.6 54.8)"/><ellipse cx="117.1" cy="55.2" rx="8.3" ry="4.9" fill="#8a8a8a" opacity="0.43" transform="rotate(111 117.1 55.2)"/><ellipse cx="79.7" cy="68.6" rx="7.1" ry="4.2" fill="#7c7c7c" opacity="0.31" transform="rotate(145 79.7 68.6)"/><ellipse cx="115.3" cy="64.9" rx="6.0" ry="3.5" fill="#585858" opacity="0.34" transform="rotate(175 115.3 64.9)"/><ellipse cx="85.1" cy="134.6" rx="7.8" ry="4.6" fill="#8a8a8a" opacity="0.42" transform="rotate(99 85.1 134.6)"/><ellipse cx="61.7" cy="130.1" rx="11.0" ry="6.5" fill="#8a8a8a" opacity="0.57" transform="rotate(3 61.7 130.1)"/><ellipse cx="102.0" cy="46.3" rx="11.3" ry="6.6" fill="#7c7c7c" opacity="0.35" transform="rotate(89 102.0 46.3)"/><ellipse cx="95.7" cy="99.1" rx="8.9" ry="5.2" fill="#505050" opacity="0.35" transform="rotate(27 95.7 99.1)"/><ellipse cx="68.8" cy="111.3" rx="6.0" ry="3.5" fill="#868686" opacity="0.50" transform="rotate(33 68.8 111.3)"/><ellipse cx="47.4" cy="133.1" rx="8.1" ry="4.8" fill="#505050" opacity="0.32" transform="rotate(6 47.4 133.1)"/><ellipse cx="92.1" cy="116.0" rx="9.8" ry="5.8" fill="#7c7c7c" opacity="0.31" transform="rotate(41 92.1 116.0)"/><ellipse cx="76.8" cy="66.0" rx="7.1" ry="4.2" fill="#7c7c7c" opacity="0.52" transform="rotate(94 76.8 66.0)"/><ellipse cx="45.2" cy="133.0" rx="7.2" ry="4.2" fill="#868686" opacity="0.52" transform="rotate(109 45.2 133.0)"/><ellipse cx="107.7" cy="111.6" rx="6.1" ry="3.6" fill="#505050" opacity="0.45" transform="rotate(29 107.7 111.6)"/><ellipse cx="138.5" cy="115.8" rx="7.2" ry="4.3" fill="#585858" opacity="0.46" transform="rotate(163 138.5 115.8)"/><ellipse cx="76.0" cy="108.2" rx="9.6" ry="5.6" fill="#8a8a8a" opacity="0.49" transform="rotate(29 76.0 108.2)"/><ellipse cx="135.7" cy="61.0" rx="11.9" ry="7.0" fill="#585858" opacity="0.39" transform="rotate(80 135.7 61.0)"/><ellipse cx="138.9" cy="64.8" rx="9.5" ry="5.6" fill="#505050" opacity="0.46" transform="rotate(146 138.9 64.8)"/><ellipse cx="101.8" cy="40.0" rx="9.9" ry="5.8" fill="#7c7c7c" opacity="0.52" transform="rotate(38 101.8 40.0)"/><ellipse cx="96.4" cy="80.0" rx="11.8" ry="7.0" fill="#505050" opacity="0.34" transform="rotate(43 96.4 80.0)"/><ellipse cx="84.2" cy="111.4" rx="10.5" ry="6.2" fill="#7c7c7c" opacity="0.50" transform="rotate(45 84.2 111.4)"/><ellipse cx="84.8" cy="80.9" rx="8.9" ry="5.2" fill="#505050" opacity="0.31" transform="rotate(154 84.8 80.9)"/><ellipse cx="59.6" cy="128.6" rx="7.9" ry="4.7" fill="#8a8a8a" opacity="0.54" transform="rotate(132 59.6 128.6)"/><ellipse cx="78.8" cy="82.7" rx="6.0" ry="3.5" fill="#585858" opacity="0.39" transform="rotate(149 78.8 82.7)"/><ellipse cx="88.0" cy="93.4" rx="11.1" ry="6.5" fill="#585858" opacity="0.54" transform="rotate(86 88.0 93.4)"/><ellipse cx="129.5" cy="95.0" rx="8.7" ry="5.1" fill="#8a8a8a" opacity="0.47" transform="rotate(80 129.5 95.0)"/><ellipse cx="117.3" cy="45.2" rx="7.5" ry="4.4" fill="#868686" opacity="0.41" transform="rotate(45 117.3 45.2)"/><ellipse cx="107.8" cy="53.9" rx="10.9" ry="6.4" fill="#505050" opacity="0.33" transform="rotate(111 107.8 53.9)"/><ellipse cx="109.2" cy="96.6" rx="6.7" ry="4.0" fill="#8a8a8a" opacity="0.37" transform="rotate(123 109.2 96.6)"/><ellipse cx="74.1" cy="112.3" rx="8.1" ry="4.8" fill="#7c7c7c" opacity="0.55" transform="rotate(51 74.1 112.3)"/><ellipse cx="65.9" cy="132.7" rx="6.3" ry="3.7" fill="#585858" opacity="0.50" transform="rotate(3 65.9 132.7)"/><ellipse cx="118.0" cy="106.0" rx="8.6" ry="5.1" fill="#585858" opacity="0.46" transform="rotate(98 118.0 106.0)"/><ellipse cx="81.6" cy="88.5" rx="9.8" ry="5.8" fill="#585858" opacity="0.48" transform="rotate(79 81.6 88.5)"/></g>
<g filter="url(#g1)"><circle cx="105.6" cy="97.6" r="3.4" fill="#4a4a4a" opacity="0.30"/><circle cx="108.2" cy="43.7" r="3.0" fill="#4a4a4a" opacity="0.45"/><circle cx="87.2" cy="63.6" r="2.2" fill="#4a4a4a" opacity="0.45"/><circle cx="72.5" cy="64.4" r="2.4" fill="#4a4a4a" opacity="0.30"/><circle cx="72.7" cy="84.9" r="1.8" fill="#4a4a4a" opacity="0.37"/><circle cx="78.3" cy="107.0" r="2.7" fill="#8e8e8e" opacity="0.47"/><circle cx="128.1" cy="117.7" r="2.4" fill="#8e8e8e" opacity="0.38"/><circle cx="60.8" cy="124.4" r="2.9" fill="#8e8e8e" opacity="0.30"/><circle cx="141.0" cy="107.7" r="1.7" fill="#8e8e8e" opacity="0.30"/><circle cx="56.9" cy="128.6" r="3.2" fill="#4a4a4a" opacity="0.34"/><circle cx="75.1" cy="119.9" r="2.4" fill="#4a4a4a" opacity="0.33"/><circle cx="103.3" cy="68.4" r="2.3" fill="#4a4a4a" opacity="0.35"/><circle cx="123.7" cy="79.1" r="3.0" fill="#8e8e8e" opacity="0.43"/><circle cx="121.5" cy="46.7" r="3.2" fill="#8e8e8e" opacity="0.27"/><circle cx="95.1" cy="130.3" r="2.5" fill="#4a4a4a" opacity="0.33"/><circle cx="72.1" cy="104.2" r="2.1" fill="#8e8e8e" opacity="0.47"/><circle cx="109.5" cy="45.2" r="3.0" fill="#4a4a4a" opacity="0.44"/><circle cx="125.2" cy="97.3" r="1.6" fill="#8e8e8e" opacity="0.50"/><circle cx="137.2" cy="80.0" r="2.8" fill="#8e8e8e" opacity="0.43"/><circle cx="126.6" cy="121.0" r="1.5" fill="#4a4a4a" opacity="0.46"/><circle cx="54.7" cy="126.6" r="2.7" fill="#4a4a4a" opacity="0.30"/><circle cx="101.6" cy="75.6" r="2.0" fill="#8e8e8e" opacity="0.36"/><circle cx="114.6" cy="108.5" r="2.4" fill="#8e8e8e" opacity="0.48"/><circle cx="78.0" cy="66.0" r="3.2" fill="#4a4a4a" opacity="0.39"/><circle cx="39.7" cy="136.0" r="1.5" fill="#4a4a4a" opacity="0.40"/><circle cx="112.0" cy="66.8" r="3.0" fill="#4a4a4a" opacity="0.28"/><circle cx="102.0" cy="123.4" r="3.4" fill="#8e8e8e" opacity="0.47"/><circle cx="83.3" cy="98.2" r="3.4" fill="#8e8e8e" opacity="0.47"/><circle cx="101.6" cy="104.3" r="2.3" fill="#4a4a4a" opacity="0.29"/><circle cx="85.4" cy="91.9" r="2.7" fill="#4a4a4a" opacity="0.31"/><circle cx="114.1" cy="112.4" r="3.4" fill="#8e8e8e" opacity="0.38"/><circle cx="56.5" cy="125.1" r="2.6" fill="#8e8e8e" opacity="0.30"/><circle cx="81.2" cy="133.2" r="2.8" fill="#4a4a4a" opacity="0.47"/><circle cx="108.6" cy="113.4" r="3.1" fill="#4a4a4a" opacity="0.30"/><circle cx="129.1" cy="80.8" r="1.5" fill="#8e8e8e" opacity="0.36"/><circle cx="116.0" cy="98.3" r="3.4" fill="#8e8e8e" opacity="0.38"/><circle cx="113.1" cy="120.1" r="1.8" fill="#8e8e8e" opacity="0.35"/><circle cx="81.4" cy="80.6" r="1.7" fill="#4a4a4a" opacity="0.28"/><circle cx="83.9" cy="91.1" r="2.0" fill="#8e8e8e" opacity="0.42"/><circle cx="42.3" cy="132.3" r="2.8" fill="#8e8e8e" opacity="0.41"/></g>
<path d="M33.4 145.1C33.1 140.6 34.9 131.8 37.0 125.3C39.1 118.9 42.1 112.9 46.0 106.4C49.9 100.0 57.7 92.3 60.4 86.6C63.1 80.9 60.4 77.3 62.2 72.2C64.0 67.1 67.3 60.2 71.2 56.0C75.1 51.8 81.7 50.3 85.6 47.0C89.5 43.7 90.4 38.0 94.6 36.2C98.8 34.4 105.0 35.6 110.8 36.2C116.7 36.8 124.2 40.1 129.7 39.8C135.3 39.5 140.5 35.0 144.1 34.4C147.7 33.8 150.4 34.7 151.3 36.2C152.2 37.7 151.3 40.7 149.5 43.4C147.7 46.1 141.7 48.2 140.5 52.4C139.3 56.6 142.3 63.2 142.3 68.6C142.3 74.0 140.5 79.1 140.5 84.8C140.5 90.5 141.4 98.3 142.3 102.8C143.2 107.3 146.2 108.6 145.9 111.8C145.6 115.0 143.8 118.8 140.5 121.7C137.2 124.6 131.1 128.0 126.1 128.9C121.2 129.8 115.8 126.5 110.8 127.1C105.9 127.7 101.2 130.4 96.4 132.5C91.6 134.6 86.5 137.0 82.0 139.7C77.5 142.4 74.5 146.0 69.4 148.7C64.3 151.4 56.5 155.3 51.4 155.9C46.3 156.5 41.8 154.1 38.8 152.3C35.8 150.5 33.7 149.6 33.4 145.1Z" fill="#fff" filter="url(#mW1)" opacity="0.16"/><path d="M33.4 145.1C33.1 140.6 34.9 131.8 37.0 125.3C39.1 118.9 42.1 112.9 46.0 106.4C49.9 100.0 57.7 92.3 60.4 86.6C63.1 80.9 60.4 77.3 62.2 72.2C64.0 67.1 67.3 60.2 71.2 56.0C75.1 51.8 81.7 50.3 85.6 47.0C89.5 43.7 90.4 38.0 94.6 36.2C98.8 34.4 105.0 35.6 110.8 36.2C116.7 36.8 124.2 40.1 129.7 39.8C135.3 39.5 140.5 35.0 144.1 34.4C147.7 33.8 150.4 34.7 151.3 36.2C152.2 37.7 151.3 40.7 149.5 43.4C147.7 46.1 141.7 48.2 140.5 52.4C139.3 56.6 142.3 63.2 142.3 68.6C142.3 74.0 140.5 79.1 140.5 84.8C140.5 90.5 141.4 98.3 142.3 102.8C143.2 107.3 146.2 108.6 145.9 111.8C145.6 115.0 143.8 118.8 140.5 121.7C137.2 124.6 131.1 128.0 126.1 128.9C121.2 129.8 115.8 126.5 110.8 127.1C105.9 127.7 101.2 130.4 96.4 132.5C91.6 134.6 86.5 137.0 82.0 139.7C77.5 142.4 74.5 146.0 69.4 148.7C64.3 151.4 56.5 155.3 51.4 155.9C46.3 156.5 41.8 154.1 38.8 152.3C35.8 150.5 33.7 149.6 33.4 145.1Z" fill="#fff" filter="url(#mK1)" opacity="0.3"/>
<path d="M166 0 L187 0 L187 20 Z" fill="#4c4a4c" opacity="0.7" filter="url(#g2)"/>
</g></g>
<g clip-path="url(#c5)">
<rect x="543.30" y="223.70" width="186.80" height="185.20" fill="#262426"/>
<g transform="translate(543.30 223.70)">
<g filter="url(#g5)" fill="#2b292b" opacity="1.0"><path d="M31.9 146.3C31.6 141.7 33.5 132.6 35.6 126.0C37.8 119.4 40.8 113.3 44.8 106.7C48.8 100.1 56.8 92.3 59.5 86.5C62.3 80.7 59.5 77.0 61.4 71.8C63.2 66.5 66.6 59.5 70.6 55.2C74.6 50.9 81.3 49.4 85.3 46.0C89.3 42.6 90.2 36.8 94.5 35.0C98.8 33.1 105.1 34.3 111.0 35.0C117.0 35.6 124.7 38.9 130.4 38.6C136.0 38.3 141.4 33.7 145.1 33.1C148.8 32.5 151.5 33.4 152.4 35.0C153.4 36.5 152.4 39.6 150.6 42.3C148.8 45.1 142.6 47.2 141.4 51.5C140.2 55.8 143.2 62.6 143.2 68.1C143.2 73.6 141.4 78.8 141.4 84.6C141.4 90.5 142.3 98.4 143.2 103.0C144.2 107.6 147.2 109.0 146.9 112.2C146.6 115.5 144.8 119.4 141.4 122.4C138.0 125.3 131.7 128.8 126.7 129.7C121.6 130.6 116.1 127.3 111.0 127.9C106.0 128.5 101.2 131.3 96.3 133.4C91.4 135.5 86.2 138.0 81.6 140.8C77.0 143.5 73.9 147.2 68.7 150.0C63.5 152.7 55.5 156.7 50.3 157.3C45.1 157.9 40.5 155.5 37.4 153.6C34.4 151.8 32.2 150.9 31.9 146.3Z"/><circle cx="31.3" cy="141.9" r="4.5"/><circle cx="34.6" cy="137.0" r="4.2"/><circle cx="32.9" cy="133.1" r="6.1"/><circle cx="35.9" cy="123.7" r="5.6"/><circle cx="38.8" cy="117.9" r="6.1"/><circle cx="43.8" cy="110.0" r="4.5"/><circle cx="47.2" cy="104.3" r="4.2"/><circle cx="51.9" cy="100.5" r="6.1"/><circle cx="54.4" cy="95.8" r="5.0"/><circle cx="54.5" cy="92.3" r="6.4"/><circle cx="61.0" cy="84.0" r="3.9"/><circle cx="60.3" cy="78.1" r="5.6"/><circle cx="62.4" cy="68.8" r="4.3"/><circle cx="64.8" cy="63.8" r="3.6"/><circle cx="69.8" cy="60.7" r="5.5"/><circle cx="74.4" cy="54.2" r="4.1"/><circle cx="79.1" cy="49.0" r="5.7"/><circle cx="84.6" cy="47.1" r="5.0"/><circle cx="91.0" cy="39.0" r="3.7"/><circle cx="100.3" cy="36.2" r="5.3"/><circle cx="103.0" cy="35.2" r="5.7"/><circle cx="112.5" cy="36.3" r="6.3"/><circle cx="119.0" cy="35.4" r="6.3"/><circle cx="125.5" cy="37.1" r="4.7"/><circle cx="132.7" cy="38.5" r="6.2"/><circle cx="140.0" cy="34.6" r="5.4"/><circle cx="145.8" cy="32.3" r="5.7"/><circle cx="153.3" cy="36.3" r="5.0"/><circle cx="147.1" cy="46.6" r="3.9"/><circle cx="143.5" cy="49.0" r="4.4"/><circle cx="142.3" cy="57.1" r="4.1"/><circle cx="143.0" cy="65.6" r="6.1"/><circle cx="143.6" cy="69.6" r="5.9"/><circle cx="143.5" cy="80.7" r="4.5"/><circle cx="142.3" cy="87.0" r="6.5"/><circle cx="141.4" cy="90.6" r="4.4"/><circle cx="143.7" cy="99.1" r="6.3"/><circle cx="144.2" cy="102.9" r="4.1"/><circle cx="142.7" cy="116.1" r="3.8"/><circle cx="138.6" cy="122.5" r="6.4"/><circle cx="130.0" cy="127.5" r="5.7"/><circle cx="123.3" cy="129.0" r="6.3"/><circle cx="116.5" cy="128.9" r="5.8"/><circle cx="108.7" cy="128.1" r="4.8"/><circle cx="100.2" cy="130.1" r="4.4"/><circle cx="92.5" cy="132.8" r="4.8"/><circle cx="86.1" cy="139.5" r="6.3"/><circle cx="80.5" cy="142.5" r="5.3"/><circle cx="76.0" cy="145.0" r="3.8"/><circle cx="67.3" cy="152.5" r="5.1"/><circle cx="61.6" cy="151.9" r="4.8"/><circle cx="53.6" cy="156.1" r="5.6"/><circle cx="46.7" cy="157.9" r="6.0"/><circle cx="39.8" cy="153.5" r="4.5"/><circle cx="35.3" cy="151.9" r="4.4"/></g>
<g filter="url(#g06)"><circle cx="110.2" cy="76.4" r="1.3" fill="#5a5a5a" opacity="0.53"/><circle cx="54.5" cy="101.5" r="1.2" fill="#6a6a6a" opacity="0.75"/><circle cx="39.1" cy="141.5" r="1.1" fill="#6a6a6a" opacity="0.61"/><circle cx="96.0" cy="123.0" r="1.4" fill="#444" opacity="0.43"/><circle cx="71.9" cy="75.1" r="0.7" fill="#6a6a6a" opacity="0.56"/><circle cx="110.1" cy="51.7" r="1.3" fill="#444" opacity="0.75"/><circle cx="84.3" cy="76.0" r="1.3" fill="#6a6a6a" opacity="0.86"/><circle cx="93.1" cy="97.3" r="0.9" fill="#444" opacity="0.86"/><circle cx="55.2" cy="102.8" r="0.9" fill="#5a5a5a" opacity="0.55"/><circle cx="103.6" cy="100.4" r="0.9" fill="#444" opacity="0.85"/><circle cx="125.5" cy="41.5" r="1.3" fill="#5a5a5a" opacity="0.66"/><circle cx="139.0" cy="55.2" r="1.0" fill="#6a6a6a" opacity="0.49"/><circle cx="140.7" cy="110.9" r="1.0" fill="#5a5a5a" opacity="0.67"/><circle cx="127.2" cy="113.0" r="0.8" fill="#444" opacity="0.45"/><circle cx="50.8" cy="105.7" r="0.6" fill="#5a5a5a" opacity="0.65"/><circle cx="95.2" cy="105.4" r="1.4" fill="#444" opacity="0.83"/><circle cx="89.6" cy="42.4" r="1.2" fill="#5a5a5a" opacity="0.81"/><circle cx="108.2" cy="75.8" r="0.7" fill="#444" opacity="0.70"/><circle cx="115.9" cy="55.9" r="0.7" fill="#5a5a5a" opacity="0.58"/><circle cx="63.5" cy="139.6" r="0.7" fill="#6a6a6a" opacity="0.78"/><circle cx="101.9" cy="109.5" r="0.9" fill="#5a5a5a" opacity="0.77"/><circle cx="133.5" cy="38.4" r="0.8" fill="#6a6a6a" opacity="0.72"/><circle cx="82.9" cy="65.2" r="1.3" fill="#5a5a5a" opacity="0.53"/><circle cx="52.0" cy="142.5" r="1.1" fill="#5a5a5a" opacity="0.41"/><circle cx="133.3" cy="119.5" r="0.8" fill="#5a5a5a" opacity="0.51"/><circle cx="129.1" cy="89.4" r="1.1" fill="#6a6a6a" opacity="0.67"/><circle cx="108.9" cy="55.7" r="1.2" fill="#444" opacity="0.68"/><circle cx="76.1" cy="137.5" r="1.0" fill="#5a5a5a" opacity="0.53"/><circle cx="95.4" cy="76.7" r="1.2" fill="#6a6a6a" opacity="0.75"/><circle cx="79.0" cy="114.1" r="0.8" fill="#5a5a5a" opacity="0.44"/><circle cx="133.6" cy="58.3" r="0.9" fill="#444" opacity="0.40"/><circle cx="71.3" cy="127.5" r="0.7" fill="#444" opacity="0.74"/><circle cx="54.4" cy="95.7" r="1.4" fill="#6a6a6a" opacity="0.69"/><circle cx="95.4" cy="101.1" r="0.9" fill="#444" opacity="0.87"/><circle cx="127.8" cy="113.6" r="0.9" fill="#6a6a6a" opacity="0.40"/><circle cx="70.5" cy="142.4" r="1.3" fill="#5a5a5a" opacity="0.45"/><circle cx="85.9" cy="74.8" r="0.7" fill="#6a6a6a" opacity="0.54"/><circle cx="79.9" cy="51.4" r="0.9" fill="#5a5a5a" opacity="0.67"/><circle cx="127.9" cy="95.7" r="0.7" fill="#6a6a6a" opacity="0.50"/><circle cx="49.0" cy="115.4" r="1.3" fill="#6a6a6a" opacity="0.72"/></g>
</g></g>
<g clip-path="url(#c6)">
<rect x="736.60" y="223.70" width="187.20" height="183.40" fill="#020202"/>
<g transform="translate(736.60 223.70)">
<g filter="url(#g2)" fill="#862f99" opacity="1.0"><path d="M31.9 146.3C31.6 141.7 33.5 132.6 35.6 126.0C37.8 119.4 40.8 113.3 44.8 106.7C48.8 100.1 56.8 92.3 59.5 86.5C62.3 80.7 59.5 77.0 61.4 71.8C63.2 66.5 66.6 59.5 70.6 55.2C74.6 50.9 81.3 49.4 85.3 46.0C89.3 42.6 90.2 36.8 94.5 35.0C98.8 33.1 105.1 34.3 111.0 35.0C117.0 35.6 124.7 38.9 130.4 38.6C136.0 38.3 141.4 33.7 145.1 33.1C148.8 32.5 151.5 33.4 152.4 35.0C153.4 36.5 152.4 39.6 150.6 42.3C148.8 45.1 142.6 47.2 141.4 51.5C140.2 55.8 143.2 62.6 143.2 68.1C143.2 73.6 141.4 78.8 141.4 84.6C141.4 90.5 142.3 98.4 143.2 103.0C144.2 107.6 147.2 109.0 146.9 112.2C146.6 115.5 144.8 119.4 141.4 122.4C138.0 125.3 131.7 128.8 126.7 129.7C121.6 130.6 116.1 127.3 111.0 127.9C106.0 128.5 101.2 131.3 96.3 133.4C91.4 135.5 86.2 138.0 81.6 140.8C77.0 143.5 73.9 147.2 68.7 150.0C63.5 152.7 55.5 156.7 50.3 157.3C45.1 157.9 40.5 155.5 37.4 153.6C34.4 151.8 32.2 150.9 31.9 146.3Z"/><circle cx="31.2" cy="147.7" r="4.9"/><circle cx="32.1" cy="136.7" r="3.5"/><circle cx="33.8" cy="130.7" r="4.4"/><circle cx="35.6" cy="127.4" r="5.6"/><circle cx="38.7" cy="114.7" r="4.6"/><circle cx="42.3" cy="108.3" r="4.5"/><circle cx="47.0" cy="105.0" r="6.5"/><circle cx="48.0" cy="101.9" r="4.3"/><circle cx="54.2" cy="94.2" r="5.5"/><circle cx="54.6" cy="92.3" r="3.9"/><circle cx="58.0" cy="83.3" r="5.6"/><circle cx="60.2" cy="77.2" r="5.3"/><circle cx="61.1" cy="70.7" r="4.7"/><circle cx="66.2" cy="62.8" r="4.3"/><circle cx="66.9" cy="57.8" r="5.5"/><circle cx="70.7" cy="55.6" r="5.1"/><circle cx="81.6" cy="50.3" r="4.5"/><circle cx="88.5" cy="41.4" r="5.4"/><circle cx="93.7" cy="38.7" r="4.1"/><circle cx="95.6" cy="33.6" r="4.9"/><circle cx="107.0" cy="33.2" r="4.9"/><circle cx="114.3" cy="36.6" r="4.7"/><circle cx="119.8" cy="37.2" r="6.2"/><circle cx="125.4" cy="36.6" r="5.3"/><circle cx="132.0" cy="38.1" r="3.9"/><circle cx="136.9" cy="37.5" r="4.0"/><circle cx="147.8" cy="31.9" r="4.0"/><circle cx="151.5" cy="37.6" r="6.2"/><circle cx="150.6" cy="43.1" r="4.7"/><circle cx="146.3" cy="48.4" r="6.2"/><circle cx="142.2" cy="52.1" r="5.3"/><circle cx="142.2" cy="61.0" r="3.5"/><circle cx="144.6" cy="70.5" r="4.2"/><circle cx="143.3" cy="80.5" r="6.3"/><circle cx="142.6" cy="86.2" r="5.3"/><circle cx="140.3" cy="91.7" r="4.2"/><circle cx="142.5" cy="99.3" r="4.9"/><circle cx="144.5" cy="106.2" r="5.1"/><circle cx="143.0" cy="115.7" r="4.0"/><circle cx="139.1" cy="123.7" r="5.3"/><circle cx="132.9" cy="126.6" r="5.8"/><circle cx="124.7" cy="130.5" r="4.1"/><circle cx="116.2" cy="130.3" r="6.0"/><circle cx="109.0" cy="129.6" r="5.7"/><circle cx="100.6" cy="129.6" r="6.4"/><circle cx="93.5" cy="132.9" r="6.3"/><circle cx="85.2" cy="137.4" r="5.9"/><circle cx="80.2" cy="139.2" r="4.9"/><circle cx="74.2" cy="146.6" r="4.8"/><circle cx="63.2" cy="152.1" r="5.6"/><circle cx="58.8" cy="154.2" r="3.8"/><circle cx="56.6" cy="156.6" r="5.0"/><circle cx="48.7" cy="155.8" r="4.7"/><circle cx="42.5" cy="153.5" r="3.7"/><circle cx="33.0" cy="149.8" r="5.7"/></g>
<g filter="url(#g2)"><ellipse cx="136.9" cy="46.7" rx="9.5" ry="5.6" fill="#60246e" opacity="0.43" transform="rotate(64 136.9 46.7)"/><ellipse cx="118.2" cy="68.0" rx="6.0" ry="3.5" fill="#9638a8" opacity="0.46" transform="rotate(4 118.2 68.0)"/><ellipse cx="46.0" cy="119.4" rx="8.5" ry="5.0" fill="#9638a8" opacity="0.52" transform="rotate(77 46.0 119.4)"/><ellipse cx="123.2" cy="60.8" rx="6.2" ry="3.6" fill="#561f64" opacity="0.53" transform="rotate(111 123.2 60.8)"/><ellipse cx="122.0" cy="79.8" rx="9.4" ry="5.5" fill="#561f64" opacity="0.50" transform="rotate(146 122.0 79.8)"/><ellipse cx="125.5" cy="115.4" rx="6.9" ry="4.1" fill="#8a32a0" opacity="0.49" transform="rotate(121 125.5 115.4)"/><ellipse cx="95.0" cy="104.6" rx="6.4" ry="3.8" fill="#60246e" opacity="0.31" transform="rotate(49 95.0 104.6)"/><ellipse cx="73.6" cy="79.9" rx="7.7" ry="4.5" fill="#561f64" opacity="0.61" transform="rotate(81 73.6 79.9)"/><ellipse cx="106.2" cy="50.8" rx="10.7" ry="6.3" fill="#60246e" opacity="0.38" transform="rotate(98 106.2 50.8)"/><ellipse cx="139.9" cy="105.8" rx="11.6" ry="6.8" fill="#8a32a0" opacity="0.46" transform="rotate(6 139.9 105.8)"/><ellipse cx="107.4" cy="82.6" rx="6.9" ry="4.1" fill="#8a32a0" opacity="0.54" transform="rotate(175 107.4 82.6)"/><ellipse cx="120.8" cy="77.1" rx="11.7" ry="6.9" fill="#60246e" opacity="0.47" transform="rotate(6 120.8 77.1)"/><ellipse cx="66.2" cy="100.6" rx="10.4" ry="6.1" fill="#60246e" opacity="0.63" transform="rotate(38 66.2 100.6)"/><ellipse cx="55.5" cy="100.1" rx="10.8" ry="6.3" fill="#561f64" opacity="0.34" transform="rotate(29 55.5 100.1)"/><ellipse cx="110.3" cy="85.1" rx="6.9" ry="4.1" fill="#9638a8" opacity="0.54" transform="rotate(74 110.3 85.1)"/><ellipse cx="108.4" cy="64.6" rx="7.7" ry="4.5" fill="#60246e" opacity="0.40" transform="rotate(154 108.4 64.6)"/><ellipse cx="105.1" cy="42.9" rx="7.6" ry="4.5" fill="#9236a2" opacity="0.52" transform="rotate(59 105.1 42.9)"/><ellipse cx="64.4" cy="147.4" rx="6.4" ry="3.8" fill="#9638a8" opacity="0.54" transform="rotate(20 64.4 147.4)"/><ellipse cx="67.0" cy="76.2" rx="6.1" ry="3.6" fill="#8a32a0" opacity="0.56" transform="rotate(72 67.0 76.2)"/><ellipse cx="110.1" cy="123.6" rx="11.6" ry="6.8" fill="#60246e" opacity="0.54" transform="rotate(86 110.1 123.6)"/><ellipse cx="114.0" cy="99.6" rx="9.3" ry="5.4" fill="#9638a8" opacity="0.49" transform="rotate(47 114.0 99.6)"/><ellipse cx="43.4" cy="140.3" rx="8.2" ry="4.8" fill="#9236a2" opacity="0.54" transform="rotate(108 43.4 140.3)"/><ellipse cx="69.2" cy="74.1" rx="8.0" ry="4.7" fill="#561f64" opacity="0.40" transform="rotate(167 69.2 74.1)"/><ellipse cx="136.3" cy="114.5" rx="10.4" ry="6.1" fill="#561f64" opacity="0.49" transform="rotate(124 136.3 114.5)"/><ellipse cx="78.2" cy="109.0" rx="11.8" ry="7.0" fill="#561f64" opacity="0.50" transform="rotate(79 78.2 109.0)"/><ellipse cx="133.1" cy="67.1" rx="11.0" ry="6.5" fill="#8a32a0" opacity="0.57" transform="rotate(101 133.1 67.1)"/><ellipse cx="89.3" cy="84.2" rx="6.4" ry="3.8" fill="#8a32a0" opacity="0.43" transform="rotate(26 89.3 84.2)"/><ellipse cx="130.7" cy="47.5" rx="10.3" ry="6.1" fill="#60246e" opacity="0.51" transform="rotate(65 130.7 47.5)"/><ellipse cx="114.8" cy="107.2" rx="6.2" ry="3.6" fill="#9236a2" opacity="0.62" transform="rotate(32 114.8 107.2)"/><ellipse cx="52.1" cy="121.9" rx="8.7" ry="5.1" fill="#561f64" opacity="0.50" transform="rotate(138 52.1 121.9)"/><ellipse cx="128.9" cy="107.0" rx="9.5" ry="5.6" fill="#561f64" opacity="0.31" transform="rotate(63 128.9 107.0)"/><ellipse cx="121.7" cy="62.8" rx="9.4" ry="5.6" fill="#60246e" opacity="0.53" transform="rotate(95 121.7 62.8)"/><ellipse cx="61.1" cy="102.1" rx="10.4" ry="6.1" fill="#60246e" opacity="0.61" transform="rotate(176 61.1 102.1)"/><ellipse cx="79.2" cy="126.8" rx="10.9" ry="6.4" fill="#9236a2" opacity="0.47" transform="rotate(63 79.2 126.8)"/><ellipse cx="60.1" cy="112.5" rx="6.9" ry="4.1" fill="#561f64" opacity="0.44" transform="rotate(10 60.1 112.5)"/><ellipse cx="71.9" cy="86.6" rx="10.8" ry="6.4" fill="#9638a8" opacity="0.63" transform="rotate(65 71.9 86.6)"/><ellipse cx="144.0" cy="41.0" rx="7.7" ry="4.5" fill="#8a32a0" opacity="0.44" transform="rotate(66 144.0 41.0)"/><ellipse cx="137.6" cy="110.3" rx="10.8" ry="6.3" fill="#8a32a0" opacity="0.62" transform="rotate(176 137.6 110.3)"/><ellipse cx="110.8" cy="86.9" rx="6.3" ry="3.7" fill="#9236a2" opacity="0.44" transform="rotate(68 110.8 86.9)"/><ellipse cx="119.8" cy="119.3" rx="9.9" ry="5.8" fill="#561f64" opacity="0.55" transform="rotate(25 119.8 119.3)"/><ellipse cx="127.8" cy="90.9" rx="10.4" ry="6.1" fill="#9236a2" opacity="0.45" transform="rotate(123 127.8 90.9)"/><ellipse cx="95.0" cy="61.2" rx="9.8" ry="5.8" fill="#561f64" opacity="0.57" transform="rotate(56 95.0 61.2)"/><ellipse cx="115.7" cy="86.9" rx="11.4" ry="6.7" fill="#9638a8" opacity="0.40" transform="rotate(173 115.7 86.9)"/><ellipse cx="53.6" cy="117.0" rx="11.6" ry="6.8" fill="#9236a2" opacity="0.54" transform="rotate(55 53.6 117.0)"/><ellipse cx="64.6" cy="147.9" rx="9.4" ry="5.5" fill="#9236a2" opacity="0.64" transform="rotate(6 64.6 147.9)"/><ellipse cx="97.7" cy="85.9" rx="9.7" ry="5.7" fill="#9236a2" opacity="0.61" transform="rotate(35 97.7 85.9)"/><ellipse cx="119.2" cy="121.9" rx="6.4" ry="3.7" fill="#8a32a0" opacity="0.36" transform="rotate(39 119.2 121.9)"/><ellipse cx="52.4" cy="150.2" rx="6.0" ry="3.5" fill="#60246e" opacity="0.57" transform="rotate(102 52.4 150.2)"/><ellipse cx="108.1" cy="53.1" rx="10.7" ry="6.3" fill="#561f64" opacity="0.53" transform="rotate(169 108.1 53.1)"/><ellipse cx="87.8" cy="70.2" rx="10.2" ry="6.0" fill="#9236a2" opacity="0.59" transform="rotate(37 87.8 70.2)"/><ellipse cx="105.5" cy="86.6" rx="9.0" ry="5.3" fill="#8a32a0" opacity="0.48" transform="rotate(96 105.5 86.6)"/><ellipse cx="66.4" cy="106.6" rx="10.8" ry="6.4" fill="#8a32a0" opacity="0.34" transform="rotate(77 66.4 106.6)"/><ellipse cx="79.0" cy="75.8" rx="10.8" ry="6.3" fill="#8a32a0" opacity="0.35" transform="rotate(113 79.0 75.8)"/><ellipse cx="84.3" cy="62.2" rx="9.3" ry="5.5" fill="#8a32a0" opacity="0.42" transform="rotate(101 84.3 62.2)"/><ellipse cx="51.1" cy="137.3" rx="6.4" ry="3.7" fill="#561f64" opacity="0.52" transform="rotate(136 51.1 137.3)"/><ellipse cx="119.6" cy="90.9" rx="10.6" ry="6.2" fill="#561f64" opacity="0.41" transform="rotate(144 119.6 90.9)"/><ellipse cx="78.9" cy="111.4" rx="6.0" ry="3.6" fill="#9638a8" opacity="0.61" transform="rotate(169 78.9 111.4)"/><ellipse cx="39.0" cy="136.6" rx="10.6" ry="6.2" fill="#8a32a0" opacity="0.34" transform="rotate(131 39.0 136.6)"/><ellipse cx="123.3" cy="109.7" rx="11.7" ry="6.9" fill="#60246e" opacity="0.52" transform="rotate(166 123.3 109.7)"/><ellipse cx="96.1" cy="97.6" rx="11.6" ry="6.8" fill="#9638a8" opacity="0.50" transform="rotate(113 96.1 97.6)"/><ellipse cx="94.1" cy="115.3" rx="7.0" ry="4.1" fill="#561f64" opacity="0.44" transform="rotate(61 94.1 115.3)"/><ellipse cx="74.2" cy="71.8" rx="6.4" ry="3.8" fill="#60246e" opacity="0.47" transform="rotate(128 74.2 71.8)"/><ellipse cx="121.6" cy="46.1" rx="7.0" ry="4.1" fill="#9236a2" opacity="0.51" transform="rotate(40 121.6 46.1)"/><ellipse cx="136.2" cy="65.5" rx="6.5" ry="3.8" fill="#9638a8" opacity="0.54" transform="rotate(46 136.2 65.5)"/><ellipse cx="118.7" cy="123.6" rx="10.3" ry="6.1" fill="#561f64" opacity="0.43" transform="rotate(39 118.7 123.6)"/><ellipse cx="84.4" cy="123.4" rx="10.4" ry="6.1" fill="#561f64" opacity="0.51" transform="rotate(132 84.4 123.4)"/><ellipse cx="57.1" cy="137.7" rx="7.6" ry="4.5" fill="#8a32a0" opacity="0.42" transform="rotate(18 57.1 137.7)"/><ellipse cx="111.9" cy="75.6" rx="9.3" ry="5.5" fill="#60246e" opacity="0.62" transform="rotate(179 111.9 75.6)"/><ellipse cx="59.5" cy="102.6" rx="8.3" ry="4.9" fill="#9638a8" opacity="0.56" transform="rotate(50 59.5 102.6)"/><ellipse cx="93.2" cy="126.6" rx="10.6" ry="6.2" fill="#9236a2" opacity="0.59" transform="rotate(97 93.2 126.6)"/></g>
<path d="M33.4 145.1C33.1 140.6 34.9 131.8 37.0 125.3C39.1 118.9 42.1 112.9 46.0 106.4C49.9 100.0 57.7 92.3 60.4 86.6C63.1 80.9 60.4 77.3 62.2 72.2C64.0 67.1 67.3 60.2 71.2 56.0C75.1 51.8 81.7 50.3 85.6 47.0C89.5 43.7 90.4 38.0 94.6 36.2C98.8 34.4 105.0 35.6 110.8 36.2C116.7 36.8 124.2 40.1 129.7 39.8C135.3 39.5 140.5 35.0 144.1 34.4C147.7 33.8 150.4 34.7 151.3 36.2C152.2 37.7 151.3 40.7 149.5 43.4C147.7 46.1 141.7 48.2 140.5 52.4C139.3 56.6 142.3 63.2 142.3 68.6C142.3 74.0 140.5 79.1 140.5 84.8C140.5 90.5 141.4 98.3 142.3 102.8C143.2 107.3 146.2 108.6 145.9 111.8C145.6 115.0 143.8 118.8 140.5 121.7C137.2 124.6 131.1 128.0 126.1 128.9C121.2 129.8 115.8 126.5 110.8 127.1C105.9 127.7 101.2 130.4 96.4 132.5C91.6 134.6 86.5 137.0 82.0 139.7C77.5 142.4 74.5 146.0 69.4 148.7C64.3 151.4 56.5 155.3 51.4 155.9C46.3 156.5 41.8 154.1 38.8 152.3C35.8 150.5 33.7 149.6 33.4 145.1Z" fill="#fff" filter="url(#mW1)" opacity="0.08"/><path d="M33.4 145.1C33.1 140.6 34.9 131.8 37.0 125.3C39.1 118.9 42.1 112.9 46.0 106.4C49.9 100.0 57.7 92.3 60.4 86.6C63.1 80.9 60.4 77.3 62.2 72.2C64.0 67.1 67.3 60.2 71.2 56.0C75.1 51.8 81.7 50.3 85.6 47.0C89.5 43.7 90.4 38.0 94.6 36.2C98.8 34.4 105.0 35.6 110.8 36.2C116.7 36.8 124.2 40.1 129.7 39.8C135.3 39.5 140.5 35.0 144.1 34.4C147.7 33.8 150.4 34.7 151.3 36.2C152.2 37.7 151.3 40.7 149.5 43.4C147.7 46.1 141.7 48.2 140.5 52.4C139.3 56.6 142.3 63.2 142.3 68.6C142.3 74.0 140.5 79.1 140.5 84.8C140.5 90.5 141.4 98.3 142.3 102.8C143.2 107.3 146.2 108.6 145.9 111.8C145.6 115.0 143.8 118.8 140.5 121.7C137.2 124.6 131.1 128.0 126.1 128.9C121.2 129.8 115.8 126.5 110.8 127.1C105.9 127.7 101.2 130.4 96.4 132.5C91.6 134.6 86.5 137.0 82.0 139.7C77.5 142.4 74.5 146.0 69.4 148.7C64.3 151.4 56.5 155.3 51.4 155.9C46.3 156.5 41.8 154.1 38.8 152.3C35.8 150.5 33.7 149.6 33.4 145.1Z" fill="#fff" filter="url(#mK1)" opacity="0.38"/>
<path d="M166 0 L187 0 L187 14 Z" fill="#6a2476" opacity="0.7" filter="url(#g2)"/>
</g></g>
<text transform="translate(308.86 454.50) scale(0.945 1)" font-size="43" font-weight="bold" fill="#000">D</text>
<text x="418.01" y="457.50" font-size="23" stroke="#1e1b1c">DNA</text>
<text x="571.19" y="457.50" font-size="23" stroke="#1e1b1c">pKNL1 S60</text>
<text x="760.26" y="457.50" font-size="23" fill="#ae1a6c" stroke="#ae1a6c">DNA</text>
<text x="827.42" y="457.50" font-size="23" fill="#6cb873" stroke="#6cb873">pKNL1</text>
<text x="345.80" y="620.36" font-size="23" stroke="#1e1b1c" transform="rotate(-90 345.80 620.36)">-tet (control)</text>
<text x="345.80" y="827.81" font-size="23" stroke="#1e1b1c" transform="rotate(-90 345.80 827.81)">+tet (Aurora B)</text>
<g clip-path="url(#c7)">
<rect x="350.20" y="465.50" width="186.70" height="183.70" fill="#030303"/>
<g transform="translate(350.20 465.50)">
<g filter="url(#g5)" fill="#1a1a1a" opacity="1.0"><path d="M46.3 30.6C48.1 29.9 53.9 29.9 58.0 30.6C62.1 31.3 66.1 34.2 70.7 34.9C75.3 35.6 80.6 33.1 85.6 34.9C90.5 36.6 96.2 41.2 100.4 45.5C104.6 49.7 107.5 56.1 111.0 60.3C114.5 64.6 117.5 66.7 121.6 70.9C125.7 75.2 132.0 80.1 135.4 85.8C138.7 91.4 138.9 99.2 141.7 104.8C144.6 110.5 149.9 113.9 152.3 119.7C154.8 125.5 157.6 134.7 156.6 139.8C155.5 144.9 148.5 146.5 146.0 150.4C143.5 154.3 145.8 160.3 141.7 163.1C137.7 166.0 127.8 168.4 121.6 167.4C115.4 166.3 108.2 161.4 104.6 156.8C101.1 152.2 103.9 144.1 100.4 139.8C96.9 135.6 88.4 135.8 83.4 131.3C78.5 126.9 74.3 119.1 70.7 113.3C67.2 107.5 66.8 101.3 62.2 96.4C57.7 91.4 46.0 86.6 43.2 83.6C40.3 80.6 42.1 79.8 45.3 78.3C48.5 76.9 59.1 78.5 62.2 75.2C65.4 71.8 65.1 63.5 64.4 58.2C63.7 52.9 60.8 47.2 58.0 43.4C55.2 39.5 49.3 37.0 47.4 34.9C45.5 32.8 44.6 31.3 46.3 30.6Z"/></g>
<g filter="url(#g2)" fill="#505050" opacity="1.0"><path d="M53.4 39.6C54.9 39.0 59.9 39.0 63.3 39.6C66.8 40.2 70.2 42.6 74.1 43.2C78.0 43.8 82.5 41.7 86.7 43.2C90.9 44.7 95.7 48.6 99.3 52.2C102.9 55.8 105.3 61.2 108.3 64.8C111.3 68.4 113.9 70.2 117.3 73.8C120.8 77.4 126.2 81.6 129.0 86.4C131.9 91.2 132.0 97.8 134.4 102.6C136.8 107.4 141.3 110.2 143.4 115.2C145.5 120.2 147.9 128.0 147.0 132.3C146.1 136.7 140.1 138.0 138.0 141.3C135.9 144.6 137.9 149.7 134.4 152.1C131.0 154.5 122.6 156.6 117.3 155.7C112.1 154.8 105.9 150.6 102.9 146.7C99.9 142.8 102.3 135.9 99.3 132.3C96.3 128.7 89.1 128.8 84.9 125.1C80.7 121.3 77.1 114.8 74.1 109.8C71.1 104.8 70.8 99.6 66.9 95.4C63.0 91.2 53.1 87.1 50.7 84.6C48.3 82.0 49.8 81.3 52.5 80.1C55.2 78.9 64.2 80.2 66.9 77.4C69.6 74.6 69.3 67.5 68.7 63.0C68.1 58.5 65.7 53.7 63.3 50.4C60.9 47.1 56.0 45.0 54.3 43.2C52.7 41.4 51.9 40.2 53.4 39.6Z"/><circle cx="56.8" cy="38.6" r="3.1"/><circle cx="65.9" cy="41.3" r="3.0"/><circle cx="77.1" cy="42.7" r="2.9"/><circle cx="83.3" cy="42.0" r="3.9"/><circle cx="87.9" cy="43.9" r="2.7"/><circle cx="97.9" cy="50.6" r="3.0"/><circle cx="101.2" cy="51.8" r="3.7"/><circle cx="105.7" cy="59.7" r="2.7"/><circle cx="109.9" cy="66.1" r="3.3"/><circle cx="114.3" cy="70.3" r="3.1"/><circle cx="119.1" cy="77.2" r="3.7"/><circle cx="124.2" cy="81.5" r="3.5"/><circle cx="130.8" cy="89.8" r="4.4"/><circle cx="131.6" cy="95.7" r="2.7"/><circle cx="136.2" cy="101.9" r="3.1"/><circle cx="141.3" cy="110.5" r="4.3"/><circle cx="141.6" cy="115.4" r="3.0"/><circle cx="145.9" cy="125.8" r="3.7"/><circle cx="143.6" cy="133.8" r="3.2"/><circle cx="138.6" cy="138.7" r="4.4"/><circle cx="139.2" cy="143.1" r="3.5"/><circle cx="131.2" cy="152.9" r="4.3"/><circle cx="123.5" cy="153.4" r="4.0"/><circle cx="117.1" cy="155.0" r="4.4"/><circle cx="109.1" cy="150.5" r="3.5"/><circle cx="103.3" cy="146.6" r="4.2"/><circle cx="101.1" cy="137.6" r="3.0"/><circle cx="96.1" cy="128.8" r="3.9"/><circle cx="91.3" cy="127.2" r="2.5"/><circle cx="84.9" cy="124.1" r="2.9"/><circle cx="80.1" cy="117.4" r="4.4"/><circle cx="78.9" cy="113.0" r="4.4"/><circle cx="70.5" cy="107.8" r="3.9"/><circle cx="68.1" cy="99.2" r="3.2"/><circle cx="66.0" cy="93.6" r="3.8"/><circle cx="62.3" cy="93.0" r="3.0"/><circle cx="56.4" cy="87.8" r="3.9"/><circle cx="51.0" cy="83.4" r="4.5"/><circle cx="54.9" cy="79.5" r="4.5"/><circle cx="62.7" cy="79.4" r="3.6"/><circle cx="66.5" cy="75.7" r="3.9"/><circle cx="67.2" cy="68.1" r="3.0"/><circle cx="66.5" cy="63.2" r="4.4"/><circle cx="64.7" cy="52.8" r="2.9"/><circle cx="63.1" cy="49.2" r="4.3"/><circle cx="55.9" cy="41.8" r="3.8"/></g>
<g filter="url(#g1)"><ellipse cx="88.6" cy="119.0" rx="4.3" ry="2.2" fill="#858585" opacity="0.64" transform="rotate(128 88.6 119.0)"/><ellipse cx="101.4" cy="63.4" rx="5.4" ry="2.7" fill="#858585" opacity="0.41" transform="rotate(169 101.4 63.4)"/><ellipse cx="89.5" cy="62.6" rx="4.8" ry="2.4" fill="#8e8e8e" opacity="0.67" transform="rotate(44 89.5 62.6)"/><ellipse cx="120.4" cy="87.9" rx="5.6" ry="2.8" fill="#858585" opacity="0.83" transform="rotate(150 120.4 87.9)"/><ellipse cx="85.0" cy="63.3" rx="6.0" ry="3.0" fill="#222" opacity="0.41" transform="rotate(132 85.0 63.3)"/><ellipse cx="134.3" cy="115.2" rx="4.5" ry="2.3" fill="#222" opacity="0.73" transform="rotate(34 134.3 115.2)"/><ellipse cx="82.9" cy="85.6" rx="5.6" ry="2.8" fill="#8e8e8e" opacity="0.83" transform="rotate(175 82.9 85.6)"/><ellipse cx="146.4" cy="131.3" rx="4.7" ry="2.4" fill="#787878" opacity="0.65" transform="rotate(168 146.4 131.3)"/><ellipse cx="67.4" cy="42.9" rx="5.9" ry="3.0" fill="#8e8e8e" opacity="0.71" transform="rotate(17 67.4 42.9)"/><ellipse cx="69.7" cy="92.4" rx="5.9" ry="3.0" fill="#222" opacity="0.58" transform="rotate(8 69.7 92.4)"/><ellipse cx="134.8" cy="113.6" rx="6.3" ry="3.2" fill="#787878" opacity="0.55" transform="rotate(128 134.8 113.6)"/><ellipse cx="98.7" cy="131.1" rx="4.7" ry="2.3" fill="#8e8e8e" opacity="0.84" transform="rotate(88 98.7 131.1)"/><ellipse cx="107.6" cy="138.8" rx="5.2" ry="2.6" fill="#6c6c6c" opacity="0.71" transform="rotate(175 107.6 138.8)"/><ellipse cx="124.4" cy="154.0" rx="4.8" ry="2.4" fill="#858585" opacity="0.44" transform="rotate(104 124.4 154.0)"/><ellipse cx="109.8" cy="146.8" rx="6.1" ry="3.1" fill="#787878" opacity="0.83" transform="rotate(155 109.8 146.8)"/><ellipse cx="117.1" cy="104.0" rx="5.3" ry="2.7" fill="#6c6c6c" opacity="0.64" transform="rotate(154 117.1 104.0)"/><ellipse cx="89.4" cy="100.4" rx="5.7" ry="2.9" fill="#222" opacity="0.54" transform="rotate(147 89.4 100.4)"/><ellipse cx="82.1" cy="82.7" rx="5.3" ry="2.6" fill="#8e8e8e" opacity="0.74" transform="rotate(169 82.1 82.7)"/><ellipse cx="117.2" cy="106.9" rx="4.4" ry="2.2" fill="#858585" opacity="0.73" transform="rotate(37 117.2 106.9)"/><ellipse cx="80.3" cy="107.8" rx="6.2" ry="3.1" fill="#8e8e8e" opacity="0.73" transform="rotate(148 80.3 107.8)"/><ellipse cx="85.8" cy="86.2" rx="6.0" ry="3.0" fill="#222" opacity="0.72" transform="rotate(43 85.8 86.2)"/><ellipse cx="81.7" cy="74.1" rx="6.3" ry="3.2" fill="#858585" opacity="0.75" transform="rotate(11 81.7 74.1)"/><ellipse cx="96.9" cy="97.6" rx="6.2" ry="3.1" fill="#8e8e8e" opacity="0.70" transform="rotate(75 96.9 97.6)"/><ellipse cx="128.6" cy="136.2" rx="6.4" ry="3.2" fill="#8e8e8e" opacity="0.57" transform="rotate(136 128.6 136.2)"/><ellipse cx="106.5" cy="86.4" rx="5.9" ry="2.9" fill="#787878" opacity="0.51" transform="rotate(25 106.5 86.4)"/><ellipse cx="111.7" cy="128.8" rx="6.0" ry="3.0" fill="#6c6c6c" opacity="0.72" transform="rotate(3 111.7 128.8)"/><ellipse cx="80.2" cy="94.0" rx="6.3" ry="3.1" fill="#8e8e8e" opacity="0.54" transform="rotate(69 80.2 94.0)"/><ellipse cx="115.9" cy="103.9" rx="4.5" ry="2.3" fill="#222" opacity="0.42" transform="rotate(102 115.9 103.9)"/><ellipse cx="123.9" cy="89.2" rx="5.8" ry="2.9" fill="#8e8e8e" opacity="0.54" transform="rotate(8 123.9 89.2)"/><ellipse cx="90.1" cy="102.1" rx="5.1" ry="2.5" fill="#787878" opacity="0.43" transform="rotate(88 90.1 102.1)"/><ellipse cx="96.3" cy="71.2" rx="5.8" ry="2.9" fill="#858585" opacity="0.81" transform="rotate(148 96.3 71.2)"/><ellipse cx="120.8" cy="78.9" rx="4.4" ry="2.2" fill="#858585" opacity="0.61" transform="rotate(64 120.8 78.9)"/><ellipse cx="134.5" cy="111.5" rx="4.5" ry="2.2" fill="#787878" opacity="0.83" transform="rotate(123 134.5 111.5)"/><ellipse cx="121.1" cy="92.0" rx="5.0" ry="2.5" fill="#6c6c6c" opacity="0.81" transform="rotate(77 121.1 92.0)"/><ellipse cx="104.3" cy="130.7" rx="5.1" ry="2.5" fill="#787878" opacity="0.79" transform="rotate(55 104.3 130.7)"/><ellipse cx="112.8" cy="94.0" rx="4.7" ry="2.3" fill="#8e8e8e" opacity="0.83" transform="rotate(75 112.8 94.0)"/><ellipse cx="80.9" cy="71.2" rx="5.1" ry="2.5" fill="#222" opacity="0.55" transform="rotate(33 80.9 71.2)"/><ellipse cx="72.5" cy="69.8" rx="6.2" ry="3.1" fill="#787878" opacity="0.45" transform="rotate(153 72.5 69.8)"/><ellipse cx="118.9" cy="75.6" rx="5.6" ry="2.8" fill="#222" opacity="0.59" transform="rotate(14 118.9 75.6)"/><ellipse cx="102.9" cy="96.0" rx="4.8" ry="2.4" fill="#222" opacity="0.62" transform="rotate(11 102.9 96.0)"/><ellipse cx="108.6" cy="76.0" rx="6.0" ry="3.0" fill="#6c6c6c" opacity="0.43" transform="rotate(58 108.6 76.0)"/><ellipse cx="117.2" cy="137.6" rx="6.0" ry="3.0" fill="#787878" opacity="0.65" transform="rotate(106 117.2 137.6)"/><ellipse cx="103.2" cy="131.0" rx="5.4" ry="2.7" fill="#6c6c6c" opacity="0.54" transform="rotate(109 103.2 131.0)"/><ellipse cx="115.7" cy="126.5" rx="5.6" ry="2.8" fill="#787878" opacity="0.47" transform="rotate(174 115.7 126.5)"/><ellipse cx="96.4" cy="101.6" rx="6.0" ry="3.0" fill="#787878" opacity="0.59" transform="rotate(173 96.4 101.6)"/><ellipse cx="116.4" cy="107.5" rx="5.9" ry="3.0" fill="#222" opacity="0.80" transform="rotate(148 116.4 107.5)"/><ellipse cx="83.1" cy="97.6" rx="5.6" ry="2.8" fill="#787878" opacity="0.72" transform="rotate(86 83.1 97.6)"/><ellipse cx="80.4" cy="63.6" rx="4.2" ry="2.1" fill="#222" opacity="0.67" transform="rotate(62 80.4 63.6)"/><ellipse cx="133.3" cy="130.9" rx="4.2" ry="2.1" fill="#6c6c6c" opacity="0.53" transform="rotate(30 133.3 130.9)"/><ellipse cx="68.1" cy="48.1" rx="5.0" ry="2.5" fill="#8e8e8e" opacity="0.63" transform="rotate(173 68.1 48.1)"/><ellipse cx="89.2" cy="51.0" rx="4.2" ry="2.1" fill="#787878" opacity="0.63" transform="rotate(29 89.2 51.0)"/><ellipse cx="133.7" cy="121.5" rx="6.2" ry="3.1" fill="#8e8e8e" opacity="0.51" transform="rotate(153 133.7 121.5)"/><ellipse cx="125.4" cy="100.2" rx="5.0" ry="2.5" fill="#787878" opacity="0.84" transform="rotate(128 125.4 100.2)"/><ellipse cx="121.0" cy="109.4" rx="5.6" ry="2.8" fill="#8e8e8e" opacity="0.70" transform="rotate(88 121.0 109.4)"/><ellipse cx="83.9" cy="58.2" rx="5.1" ry="2.6" fill="#8e8e8e" opacity="0.82" transform="rotate(49 83.9 58.2)"/><ellipse cx="83.8" cy="114.7" rx="4.5" ry="2.2" fill="#222" opacity="0.66" transform="rotate(176 83.8 114.7)"/><ellipse cx="107.3" cy="118.6" rx="5.9" ry="2.9" fill="#222" opacity="0.62" transform="rotate(94 107.3 118.6)"/><ellipse cx="123.3" cy="85.7" rx="4.2" ry="2.1" fill="#787878" opacity="0.47" transform="rotate(108 123.3 85.7)"/><ellipse cx="88.4" cy="119.1" rx="6.3" ry="3.1" fill="#787878" opacity="0.67" transform="rotate(133 88.4 119.1)"/><ellipse cx="102.3" cy="79.3" rx="4.6" ry="2.3" fill="#8e8e8e" opacity="0.71" transform="rotate(112 102.3 79.3)"/><ellipse cx="89.2" cy="93.6" rx="5.3" ry="2.7" fill="#222" opacity="0.45" transform="rotate(91 89.2 93.6)"/><ellipse cx="112.3" cy="84.2" rx="4.7" ry="2.4" fill="#787878" opacity="0.43" transform="rotate(66 112.3 84.2)"/><ellipse cx="76.9" cy="54.3" rx="4.4" ry="2.2" fill="#6c6c6c" opacity="0.43" transform="rotate(120 76.9 54.3)"/><ellipse cx="97.6" cy="74.9" rx="5.1" ry="2.5" fill="#8e8e8e" opacity="0.45" transform="rotate(9 97.6 74.9)"/><ellipse cx="105.5" cy="100.3" rx="4.1" ry="2.1" fill="#858585" opacity="0.65" transform="rotate(27 105.5 100.3)"/><ellipse cx="63.6" cy="83.3" rx="6.0" ry="3.0" fill="#8e8e8e" opacity="0.55" transform="rotate(147 63.6 83.3)"/><ellipse cx="86.3" cy="111.4" rx="6.2" ry="3.1" fill="#787878" opacity="0.79" transform="rotate(151 86.3 111.4)"/><ellipse cx="98.6" cy="115.4" rx="5.9" ry="2.9" fill="#787878" opacity="0.65" transform="rotate(116 98.6 115.4)"/><ellipse cx="105.1" cy="80.3" rx="6.2" ry="3.1" fill="#6c6c6c" opacity="0.51" transform="rotate(39 105.1 80.3)"/><ellipse cx="105.7" cy="109.6" rx="6.1" ry="3.0" fill="#6c6c6c" opacity="0.58" transform="rotate(105 105.7 109.6)"/><ellipse cx="114.4" cy="109.7" rx="4.9" ry="2.5" fill="#8e8e8e" opacity="0.44" transform="rotate(100 114.4 109.7)"/><ellipse cx="125.6" cy="118.3" rx="6.0" ry="3.0" fill="#787878" opacity="0.72" transform="rotate(61 125.6 118.3)"/><ellipse cx="77.5" cy="83.7" rx="5.9" ry="3.0" fill="#6c6c6c" opacity="0.72" transform="rotate(37 77.5 83.7)"/><ellipse cx="81.3" cy="50.4" rx="5.5" ry="2.8" fill="#222" opacity="0.66" transform="rotate(155 81.3 50.4)"/><ellipse cx="112.6" cy="102.7" rx="6.3" ry="3.1" fill="#787878" opacity="0.65" transform="rotate(129 112.6 102.7)"/><ellipse cx="79.5" cy="80.9" rx="5.8" ry="2.9" fill="#8e8e8e" opacity="0.67" transform="rotate(45 79.5 80.9)"/><ellipse cx="84.8" cy="98.2" rx="5.4" ry="2.7" fill="#858585" opacity="0.68" transform="rotate(147 84.8 98.2)"/><ellipse cx="105.0" cy="64.2" rx="5.1" ry="2.5" fill="#6c6c6c" opacity="0.54" transform="rotate(93 105.0 64.2)"/><ellipse cx="113.4" cy="142.1" rx="4.8" ry="2.4" fill="#222" opacity="0.83" transform="rotate(129 113.4 142.1)"/><ellipse cx="88.6" cy="121.0" rx="4.0" ry="2.0" fill="#858585" opacity="0.67" transform="rotate(134 88.6 121.0)"/><ellipse cx="71.8" cy="89.0" rx="6.2" ry="3.1" fill="#222" opacity="0.68" transform="rotate(133 71.8 89.0)"/><ellipse cx="130.5" cy="125.9" rx="4.5" ry="2.3" fill="#858585" opacity="0.80" transform="rotate(69 130.5 125.9)"/><ellipse cx="92.5" cy="99.5" rx="5.7" ry="2.8" fill="#8e8e8e" opacity="0.64" transform="rotate(122 92.5 99.5)"/><ellipse cx="92.0" cy="81.2" rx="5.6" ry="2.8" fill="#858585" opacity="0.63" transform="rotate(45 92.0 81.2)"/><ellipse cx="68.7" cy="41.5" rx="6.0" ry="3.0" fill="#8e8e8e" opacity="0.66" transform="rotate(17 68.7 41.5)"/><ellipse cx="83.4" cy="104.2" rx="6.0" ry="3.0" fill="#787878" opacity="0.69" transform="rotate(65 83.4 104.2)"/><ellipse cx="69.8" cy="72.7" rx="4.1" ry="2.0" fill="#222" opacity="0.69" transform="rotate(139 69.8 72.7)"/><ellipse cx="93.1" cy="124.5" rx="5.3" ry="2.7" fill="#6c6c6c" opacity="0.65" transform="rotate(121 93.1 124.5)"/><ellipse cx="117.4" cy="98.9" rx="6.2" ry="3.1" fill="#787878" opacity="0.78" transform="rotate(45 117.4 98.9)"/><ellipse cx="116.1" cy="146.0" rx="4.0" ry="2.0" fill="#8e8e8e" opacity="0.62" transform="rotate(175 116.1 146.0)"/><ellipse cx="97.3" cy="82.2" rx="4.6" ry="2.3" fill="#787878" opacity="0.41" transform="rotate(85 97.3 82.2)"/><ellipse cx="140.1" cy="127.4" rx="5.6" ry="2.8" fill="#8e8e8e" opacity="0.52" transform="rotate(170 140.1 127.4)"/><ellipse cx="123.8" cy="109.4" rx="4.7" ry="2.3" fill="#8e8e8e" opacity="0.63" transform="rotate(117 123.8 109.4)"/><ellipse cx="77.2" cy="66.0" rx="5.4" ry="2.7" fill="#787878" opacity="0.56" transform="rotate(103 77.2 66.0)"/><ellipse cx="67.8" cy="92.8" rx="4.6" ry="2.3" fill="#8e8e8e" opacity="0.67" transform="rotate(64 67.8 92.8)"/><ellipse cx="125.3" cy="135.8" rx="5.7" ry="2.8" fill="#8e8e8e" opacity="0.67" transform="rotate(24 125.3 135.8)"/><ellipse cx="90.0" cy="119.3" rx="5.7" ry="2.8" fill="#6c6c6c" opacity="0.53" transform="rotate(145 90.0 119.3)"/><ellipse cx="68.5" cy="67.9" rx="4.5" ry="2.3" fill="#787878" opacity="0.42" transform="rotate(74 68.5 67.9)"/><ellipse cx="102.0" cy="67.1" rx="5.8" ry="2.9" fill="#6c6c6c" opacity="0.57" transform="rotate(85 102.0 67.1)"/><ellipse cx="97.1" cy="120.3" rx="5.4" ry="2.7" fill="#8e8e8e" opacity="0.41" transform="rotate(49 97.1 120.3)"/><ellipse cx="70.4" cy="84.9" rx="5.7" ry="2.9" fill="#858585" opacity="0.63" transform="rotate(154 70.4 84.9)"/><ellipse cx="109.4" cy="97.1" rx="6.3" ry="3.1" fill="#8e8e8e" opacity="0.62" transform="rotate(112 109.4 97.1)"/><ellipse cx="102.0" cy="102.2" rx="4.4" ry="2.2" fill="#858585" opacity="0.57" transform="rotate(13 102.0 102.2)"/><ellipse cx="130.3" cy="108.4" rx="5.8" ry="2.9" fill="#787878" opacity="0.48" transform="rotate(18 130.3 108.4)"/><ellipse cx="100.3" cy="127.8" rx="4.9" ry="2.5" fill="#6c6c6c" opacity="0.82" transform="rotate(24 100.3 127.8)"/><ellipse cx="120.8" cy="91.7" rx="5.4" ry="2.7" fill="#8e8e8e" opacity="0.58" transform="rotate(109 120.8 91.7)"/><ellipse cx="126.1" cy="145.7" rx="5.0" ry="2.5" fill="#6c6c6c" opacity="0.77" transform="rotate(178 126.1 145.7)"/><ellipse cx="107.7" cy="138.1" rx="4.6" ry="2.3" fill="#6c6c6c" opacity="0.60" transform="rotate(168 107.7 138.1)"/><ellipse cx="86.8" cy="77.8" rx="4.8" ry="2.4" fill="#6c6c6c" opacity="0.40" transform="rotate(112 86.8 77.8)"/><ellipse cx="115.0" cy="135.4" rx="4.7" ry="2.4" fill="#222" opacity="0.85" transform="rotate(128 115.0 135.4)"/><ellipse cx="121.0" cy="83.7" rx="5.7" ry="2.8" fill="#787878" opacity="0.67" transform="rotate(127 121.0 83.7)"/><ellipse cx="113.2" cy="147.9" rx="4.2" ry="2.1" fill="#222" opacity="0.61" transform="rotate(26 113.2 147.9)"/><ellipse cx="127.5" cy="93.2" rx="6.3" ry="3.1" fill="#6c6c6c" opacity="0.52" transform="rotate(66 127.5 93.2)"/><ellipse cx="93.5" cy="55.9" rx="6.3" ry="3.2" fill="#6c6c6c" opacity="0.51" transform="rotate(170 93.5 55.9)"/><ellipse cx="118.1" cy="101.3" rx="4.1" ry="2.0" fill="#8e8e8e" opacity="0.62" transform="rotate(88 118.1 101.3)"/><ellipse cx="62.1" cy="43.0" rx="5.7" ry="2.8" fill="#858585" opacity="0.58" transform="rotate(156 62.1 43.0)"/><ellipse cx="83.0" cy="77.9" rx="6.2" ry="3.1" fill="#6c6c6c" opacity="0.72" transform="rotate(32 83.0 77.9)"/><ellipse cx="133.9" cy="127.1" rx="5.2" ry="2.6" fill="#858585" opacity="0.66" transform="rotate(163 133.9 127.1)"/><ellipse cx="86.0" cy="120.6" rx="5.2" ry="2.6" fill="#8e8e8e" opacity="0.82" transform="rotate(8 86.0 120.6)"/><ellipse cx="113.8" cy="113.8" rx="5.0" ry="2.5" fill="#8e8e8e" opacity="0.55" transform="rotate(1 113.8 113.8)"/></g>
<path d="M53.4 39.6C54.9 39.0 59.9 39.0 63.3 39.6C66.8 40.2 70.2 42.6 74.1 43.2C78.0 43.8 82.5 41.7 86.7 43.2C90.9 44.7 95.7 48.6 99.3 52.2C102.9 55.8 105.3 61.2 108.3 64.8C111.3 68.4 113.9 70.2 117.3 73.8C120.8 77.4 126.2 81.6 129.0 86.4C131.9 91.2 132.0 97.8 134.4 102.6C136.8 107.4 141.3 110.2 143.4 115.2C145.5 120.2 147.9 128.0 147.0 132.3C146.1 136.7 140.1 138.0 138.0 141.3C135.9 144.6 137.9 149.7 134.4 152.1C131.0 154.5 122.6 156.6 117.3 155.7C112.1 154.8 105.9 150.6 102.9 146.7C99.9 142.8 102.3 135.9 99.3 132.3C96.3 128.7 89.1 128.8 84.9 125.1C80.7 121.3 77.1 114.8 74.1 109.8C71.1 104.8 70.8 99.6 66.9 95.4C63.0 91.2 53.1 87.1 50.7 84.6C48.3 82.0 49.8 81.3 52.5 80.1C55.2 78.9 64.2 80.2 66.9 77.4C69.6 74.6 69.3 67.5 68.7 63.0C68.1 58.5 65.7 53.7 63.3 50.4C60.9 47.1 56.0 45.0 54.3 43.2C52.7 41.4 51.9 40.2 53.4 39.6Z" fill="#fff" filter="url(#mW2)" opacity="0.1"/><path d="M53.4 39.6C54.9 39.0 59.9 39.0 63.3 39.6C66.8 40.2 70.2 42.6 74.1 43.2C78.0 43.8 82.5 41.7 86.7 43.2C90.9 44.7 95.7 48.6 99.3 52.2C102.9 55.8 105.3 61.2 108.3 64.8C111.3 68.4 113.9 70.2 117.3 73.8C120.8 77.4 126.2 81.6 129.0 86.4C131.9 91.2 132.0 97.8 134.4 102.6C136.8 107.4 141.3 110.2 143.4 115.2C145.5 120.2 147.9 128.0 147.0 132.3C146.1 136.7 140.1 138.0 138.0 141.3C135.9 144.6 137.9 149.7 134.4 152.1C131.0 154.5 122.6 156.6 117.3 155.7C112.1 154.8 105.9 150.6 102.9 146.7C99.9 142.8 102.3 135.9 99.3 132.3C96.3 128.7 89.1 128.8 84.9 125.1C80.7 121.3 77.1 114.8 74.1 109.8C71.1 104.8 70.8 99.6 66.9 95.4C63.0 91.2 53.1 87.1 50.7 84.6C48.3 82.0 49.8 81.3 52.5 80.1C55.2 78.9 64.2 80.2 66.9 77.4C69.6 74.6 69.3 67.5 68.7 63.0C68.1 58.5 65.7 53.7 63.3 50.4C60.9 47.1 56.0 45.0 54.3 43.2C52.7 41.4 51.9 40.2 53.4 39.6Z" fill="#fff" filter="url(#mK2)" opacity="0.4"/>
<ellipse cx="54" cy="38" rx="7" ry="3.2" fill="#666" transform="rotate(20 54 38)" filter="url(#g1)"/>
<ellipse cx="52" cy="83" rx="8" ry="3.2" fill="#666" transform="rotate(10 52 83)" filter="url(#g1)"/>
</g></g>
<rect x="357.30" y="638.10" width="45.50" height="3.20" fill="#fff"/>
<text x="357.18" y="633.40" font-size="23" fill="#fff" stroke="#fff">5µm</text>
<g clip-path="url(#c8)">
<rect x="543.30" y="465.50" width="186.80" height="183.70" fill="#020202"/>
<g transform="translate(543.30 465.50)">
<g filter="url(#g06)"><circle cx="98.9" cy="125.8" r="1.0" fill="#e0e0e0" opacity="0.94"/><circle cx="60.5" cy="36.9" r="1.6" fill="#9a9a9a" opacity="0.93"/><circle cx="64.0" cy="38.2" r="0.9" fill="#bdbdbd" opacity="0.82"/><circle cx="71.0" cy="94.2" r="1.6" fill="#7a7a7a" opacity="0.67"/><circle cx="131.9" cy="128.1" r="1.5" fill="#bdbdbd" opacity="0.91"/><circle cx="108.4" cy="64.4" r="1.2" fill="#9a9a9a" opacity="0.87"/><circle cx="119.7" cy="134.9" r="0.9" fill="#9a9a9a" opacity="0.78"/><circle cx="87.3" cy="59.9" r="0.9" fill="#bdbdbd" opacity="0.80"/><circle cx="101.9" cy="76.6" r="1.3" fill="#7a7a7a" opacity="0.98"/><circle cx="136.9" cy="113.0" r="1.4" fill="#9a9a9a" opacity="0.69"/><circle cx="86.5" cy="126.1" r="1.1" fill="#9a9a9a" opacity="0.84"/><circle cx="132.7" cy="116.5" r="1.0" fill="#9a9a9a" opacity="0.99"/><circle cx="99.2" cy="49.2" r="0.9" fill="#9a9a9a" opacity="0.91"/><circle cx="64.7" cy="81.4" r="1.0" fill="#9a9a9a" opacity="0.65"/><circle cx="118.0" cy="81.5" r="1.0" fill="#bdbdbd" opacity="0.84"/><circle cx="137.9" cy="146.3" r="0.9" fill="#9a9a9a" opacity="0.87"/><circle cx="126.9" cy="82.9" r="1.0" fill="#e0e0e0" opacity="0.68"/><circle cx="83.5" cy="126.7" r="1.0" fill="#9a9a9a" opacity="0.99"/><circle cx="137.2" cy="129.8" r="1.0" fill="#9a9a9a" opacity="1.00"/><circle cx="100.1" cy="58.9" r="1.9" fill="#e0e0e0" opacity="0.60"/><circle cx="118.2" cy="115.6" r="1.1" fill="#7a7a7a" opacity="0.62"/><circle cx="114.1" cy="146.6" r="1.3" fill="#9a9a9a" opacity="0.95"/><circle cx="79.0" cy="117.9" r="1.7" fill="#bdbdbd" opacity="0.73"/><circle cx="147.4" cy="137.2" r="1.2" fill="#9a9a9a" opacity="0.94"/><circle cx="69.6" cy="73.5" r="1.8" fill="#bdbdbd" opacity="0.81"/><circle cx="126.2" cy="91.4" r="1.2" fill="#e0e0e0" opacity="0.72"/><circle cx="91.1" cy="46.4" r="1.9" fill="#bdbdbd" opacity="0.71"/><circle cx="61.2" cy="82.7" r="1.8" fill="#e0e0e0" opacity="0.79"/><circle cx="98.5" cy="84.9" r="1.8" fill="#9a9a9a" opacity="0.96"/><circle cx="83.7" cy="48.8" r="1.2" fill="#9a9a9a" opacity="0.91"/><circle cx="123.6" cy="114.5" r="1.5" fill="#e0e0e0" opacity="0.83"/><circle cx="76.0" cy="44.7" r="1.5" fill="#7a7a7a" opacity="0.71"/><circle cx="117.0" cy="114.0" r="1.6" fill="#e0e0e0" opacity="0.88"/><circle cx="83.6" cy="87.8" r="1.6" fill="#9a9a9a" opacity="0.65"/><circle cx="124.3" cy="146.9" r="1.7" fill="#9a9a9a" opacity="0.76"/><circle cx="60.8" cy="91.6" r="1.4" fill="#9a9a9a" opacity="0.67"/><circle cx="113.4" cy="90.8" r="1.5" fill="#bdbdbd" opacity="0.65"/><circle cx="134.1" cy="127.2" r="1.2" fill="#bdbdbd" opacity="0.81"/><circle cx="91.9" cy="47.2" r="1.9" fill="#bdbdbd" opacity="0.69"/><circle cx="95.6" cy="119.5" r="1.4" fill="#9a9a9a" opacity="0.71"/><circle cx="73.5" cy="40.8" r="1.3" fill="#e0e0e0" opacity="0.63"/><circle cx="101.1" cy="123.0" r="1.3" fill="#9a9a9a" opacity="0.64"/><circle cx="130.3" cy="131.5" r="1.9" fill="#9a9a9a" opacity="0.63"/><circle cx="116.4" cy="155.3" r="1.6" fill="#7a7a7a" opacity="0.77"/><circle cx="79.8" cy="56.2" r="1.5" fill="#7a7a7a" opacity="0.65"/><circle cx="98.0" cy="123.6" r="1.2" fill="#e0e0e0" opacity="0.94"/><circle cx="142.7" cy="118.4" r="1.4" fill="#bdbdbd" opacity="0.76"/><circle cx="67.1" cy="45.3" r="1.2" fill="#bdbdbd" opacity="0.84"/><circle cx="100.0" cy="92.0" r="1.8" fill="#bdbdbd" opacity="1.00"/><circle cx="130.9" cy="92.7" r="1.2" fill="#bdbdbd" opacity="0.77"/><circle cx="81.5" cy="60.1" r="1.3" fill="#7a7a7a" opacity="0.87"/><circle cx="93.5" cy="103.1" r="1.6" fill="#e0e0e0" opacity="0.86"/><circle cx="128.0" cy="84.9" r="0.9" fill="#7a7a7a" opacity="0.81"/><circle cx="91.2" cy="110.3" r="1.5" fill="#7a7a7a" opacity="0.98"/><circle cx="70.8" cy="77.6" r="0.9" fill="#7a7a7a" opacity="0.61"/><circle cx="91.2" cy="62.9" r="1.2" fill="#7a7a7a" opacity="0.61"/><circle cx="97.3" cy="97.7" r="1.6" fill="#7a7a7a" opacity="0.79"/><circle cx="59.4" cy="90.5" r="1.6" fill="#e0e0e0" opacity="0.80"/><circle cx="123.6" cy="117.0" r="1.8" fill="#9a9a9a" opacity="0.71"/><circle cx="120.3" cy="146.0" r="1.8" fill="#9a9a9a" opacity="0.83"/><circle cx="118.8" cy="132.3" r="1.9" fill="#9a9a9a" opacity="0.87"/><circle cx="106.6" cy="59.3" r="1.3" fill="#9a9a9a" opacity="0.88"/><circle cx="100.9" cy="73.3" r="1.3" fill="#7a7a7a" opacity="0.99"/><circle cx="77.8" cy="93.2" r="1.6" fill="#7a7a7a" opacity="0.90"/><circle cx="114.9" cy="98.4" r="1.5" fill="#7a7a7a" opacity="0.70"/><circle cx="88.7" cy="121.4" r="1.5" fill="#7a7a7a" opacity="0.70"/><circle cx="114.0" cy="80.5" r="1.8" fill="#7a7a7a" opacity="0.66"/><circle cx="72.8" cy="66.6" r="1.2" fill="#bdbdbd" opacity="0.85"/><circle cx="81.0" cy="88.1" r="1.6" fill="#9a9a9a" opacity="0.64"/><circle cx="67.8" cy="87.4" r="1.1" fill="#9a9a9a" opacity="0.97"/><circle cx="120.4" cy="95.0" r="1.0" fill="#7a7a7a" opacity="0.97"/><circle cx="76.5" cy="113.0" r="1.3" fill="#bdbdbd" opacity="0.90"/><circle cx="123.8" cy="129.2" r="1.6" fill="#e0e0e0" opacity="0.76"/><circle cx="129.1" cy="101.1" r="1.3" fill="#e0e0e0" opacity="0.94"/><circle cx="57.7" cy="85.4" r="1.3" fill="#bdbdbd" opacity="0.63"/><circle cx="101.9" cy="138.0" r="1.5" fill="#e0e0e0" opacity="0.68"/><circle cx="73.0" cy="40.6" r="1.2" fill="#e0e0e0" opacity="0.68"/><circle cx="110.9" cy="136.6" r="1.1" fill="#9a9a9a" opacity="0.98"/><circle cx="76.2" cy="87.7" r="1.3" fill="#7a7a7a" opacity="0.93"/><circle cx="89.3" cy="62.6" r="1.0" fill="#9a9a9a" opacity="0.88"/><circle cx="103.7" cy="126.2" r="1.0" fill="#bdbdbd" opacity="0.86"/><circle cx="128.0" cy="106.6" r="1.8" fill="#e0e0e0" opacity="0.66"/><circle cx="84.9" cy="75.0" r="1.4" fill="#7a7a7a" opacity="0.70"/><circle cx="87.6" cy="75.6" r="1.4" fill="#bdbdbd" opacity="0.74"/><circle cx="100.2" cy="99.1" r="1.8" fill="#bdbdbd" opacity="0.94"/><circle cx="130.2" cy="145.9" r="1.0" fill="#bdbdbd" opacity="0.99"/><circle cx="70.2" cy="74.6" r="1.8" fill="#9a9a9a" opacity="0.83"/><circle cx="119.8" cy="104.1" r="1.0" fill="#bdbdbd" opacity="0.85"/><circle cx="62.8" cy="46.0" r="1.0" fill="#9a9a9a" opacity="0.62"/><circle cx="81.7" cy="71.2" r="1.2" fill="#7a7a7a" opacity="0.66"/><circle cx="97.7" cy="78.2" r="1.7" fill="#9a9a9a" opacity="0.87"/><circle cx="80.8" cy="74.6" r="1.6" fill="#9a9a9a" opacity="0.84"/><circle cx="110.8" cy="65.7" r="1.1" fill="#e0e0e0" opacity="0.96"/><circle cx="63.9" cy="49.3" r="1.2" fill="#7a7a7a" opacity="0.62"/><circle cx="109.2" cy="116.8" r="1.8" fill="#9a9a9a" opacity="0.73"/><circle cx="79.1" cy="76.2" r="1.4" fill="#bdbdbd" opacity="0.85"/><circle cx="141.7" cy="115.9" r="1.2" fill="#9a9a9a" opacity="0.62"/><circle cx="124.1" cy="147.7" r="1.8" fill="#e0e0e0" opacity="0.75"/><circle cx="82.6" cy="66.5" r="1.3" fill="#7a7a7a" opacity="0.81"/><circle cx="83.4" cy="55.3" r="1.2" fill="#7a7a7a" opacity="0.92"/><circle cx="99.7" cy="119.6" r="1.6" fill="#7a7a7a" opacity="0.73"/><circle cx="86.7" cy="65.1" r="1.3" fill="#bdbdbd" opacity="0.68"/><circle cx="86.4" cy="121.4" r="1.8" fill="#7a7a7a" opacity="0.68"/><circle cx="52.9" cy="85.5" r="1.5" fill="#9a9a9a" opacity="0.71"/><circle cx="93.9" cy="55.9" r="1.3" fill="#bdbdbd" opacity="0.69"/><circle cx="72.4" cy="61.2" r="1.8" fill="#9a9a9a" opacity="0.92"/><circle cx="118.4" cy="135.4" r="1.4" fill="#9a9a9a" opacity="0.85"/><circle cx="109.7" cy="143.1" r="1.5" fill="#9a9a9a" opacity="0.80"/><circle cx="67.1" cy="79.9" r="1.7" fill="#e0e0e0" opacity="0.80"/><circle cx="94.3" cy="94.4" r="1.3" fill="#e0e0e0" opacity="0.67"/><circle cx="76.1" cy="106.3" r="1.6" fill="#7a7a7a" opacity="0.63"/><circle cx="85.2" cy="113.4" r="0.9" fill="#9a9a9a" opacity="0.84"/><circle cx="72.4" cy="53.1" r="1.3" fill="#7a7a7a" opacity="0.80"/><circle cx="134.0" cy="111.6" r="1.1" fill="#7a7a7a" opacity="0.67"/><circle cx="134.6" cy="151.5" r="0.9" fill="#9a9a9a" opacity="0.64"/></g>
<circle cx="58" cy="60" r="2.4" fill="#eee" filter="url(#g06)"/><circle cx="51" cy="93" r="2.4" fill="#eee" filter="url(#g06)"/><circle cx="22" cy="20" r="1.6" fill="#888" filter="url(#g06)"/>
</g></g>
<g clip-path="url(#c9)">
<rect x="736.60" y="465.50" width="187.20" height="183.70" fill="#020202"/>
<g transform="translate(736.60 465.50)">
<g filter="url(#g5)" fill="#1a0c1c" opacity="1.0"><path d="M46.3 30.6C48.1 29.9 53.9 29.9 58.0 30.6C62.1 31.3 66.1 34.2 70.7 34.9C75.3 35.6 80.6 33.1 85.6 34.9C90.5 36.6 96.2 41.2 100.4 45.5C104.6 49.7 107.5 56.1 111.0 60.3C114.5 64.6 117.5 66.7 121.6 70.9C125.7 75.2 132.0 80.1 135.4 85.8C138.7 91.4 138.9 99.2 141.7 104.8C144.6 110.5 149.9 113.9 152.3 119.7C154.8 125.5 157.6 134.7 156.6 139.8C155.5 144.9 148.5 146.5 146.0 150.4C143.5 154.3 145.8 160.3 141.7 163.1C137.7 166.0 127.8 168.4 121.6 167.4C115.4 166.3 108.2 161.4 104.6 156.8C101.1 152.2 103.9 144.1 100.4 139.8C96.9 135.6 88.4 135.8 83.4 131.3C78.5 126.9 74.3 119.1 70.7 113.3C67.2 107.5 66.8 101.3 62.2 96.4C57.7 91.4 46.0 86.6 43.2 83.6C40.3 80.6 42.1 79.8 45.3 78.3C48.5 76.9 59.1 78.5 62.2 75.2C65.4 71.8 65.1 63.5 64.4 58.2C63.7 52.9 60.8 47.2 58.0 43.4C55.2 39.5 49.3 37.0 47.4 34.9C45.5 32.8 44.6 31.3 46.3 30.6Z"/></g>
<g filter="url(#g2)" fill="#843094" opacity="1.0"><path d="M53.4 39.6C54.9 39.0 59.9 39.0 63.3 39.6C66.8 40.2 70.2 42.6 74.1 43.2C78.0 43.8 82.5 41.7 86.7 43.2C90.9 44.7 95.7 48.6 99.3 52.2C102.9 55.8 105.3 61.2 108.3 64.8C111.3 68.4 113.9 70.2 117.3 73.8C120.8 77.4 126.2 81.6 129.0 86.4C131.9 91.2 132.0 97.8 134.4 102.6C136.8 107.4 141.3 110.2 143.4 115.2C145.5 120.2 147.9 128.0 147.0 132.3C146.1 136.7 140.1 138.0 138.0 141.3C135.9 144.6 137.9 149.7 134.4 152.1C131.0 154.5 122.6 156.6 117.3 155.7C112.1 154.8 105.9 150.6 102.9 146.7C99.9 142.8 102.3 135.9 99.3 132.3C96.3 128.7 89.1 128.8 84.9 125.1C80.7 121.3 77.1 114.8 74.1 109.8C71.1 104.8 70.8 99.6 66.9 95.4C63.0 91.2 53.1 87.1 50.7 84.6C48.3 82.0 49.8 81.3 52.5 80.1C55.2 78.9 64.2 80.2 66.9 77.4C69.6 74.6 69.3 67.5 68.7 63.0C68.1 58.5 65.7 53.7 63.3 50.4C60.9 47.1 56.0 45.0 54.3 43.2C52.7 41.4 51.9 40.2 53.4 39.6Z"/><circle cx="56.9" cy="41.0" r="4.3"/><circle cx="66.5" cy="42.3" r="4.4"/><circle cx="77.2" cy="43.2" r="4.3"/><circle cx="81.0" cy="43.9" r="3.3"/><circle cx="87.3" cy="43.4" r="2.5"/><circle cx="92.9" cy="49.5" r="3.7"/><circle cx="100.3" cy="54.0" r="4.2"/><circle cx="106.8" cy="60.5" r="4.4"/><circle cx="111.0" cy="65.9" r="3.8"/><circle cx="115.7" cy="71.0" r="3.7"/><circle cx="116.7" cy="75.4" r="2.7"/><circle cx="126.0" cy="81.4" r="2.6"/><circle cx="129.8" cy="85.3" r="2.8"/><circle cx="131.4" cy="95.5" r="2.6"/><circle cx="134.8" cy="105.7" r="3.5"/><circle cx="138.4" cy="109.1" r="4.3"/><circle cx="144.3" cy="118.0" r="3.6"/><circle cx="144.2" cy="129.1" r="4.0"/><circle cx="145.5" cy="135.0" r="4.4"/><circle cx="143.6" cy="136.1" r="4.4"/><circle cx="138.7" cy="141.5" r="3.7"/><circle cx="132.2" cy="153.3" r="4.0"/><circle cx="121.9" cy="155.1" r="3.0"/><circle cx="118.7" cy="154.5" r="4.0"/><circle cx="108.3" cy="149.8" r="2.9"/><circle cx="104.0" cy="146.2" r="3.1"/><circle cx="102.2" cy="135.3" r="3.5"/><circle cx="97.1" cy="132.4" r="3.9"/><circle cx="90.8" cy="129.2" r="2.7"/><circle cx="82.0" cy="123.2" r="4.0"/><circle cx="79.6" cy="118.9" r="3.0"/><circle cx="76.0" cy="113.7" r="4.4"/><circle cx="73.7" cy="108.4" r="3.7"/><circle cx="71.8" cy="104.2" r="2.9"/><circle cx="63.7" cy="92.6" r="3.8"/><circle cx="58.8" cy="92.3" r="3.3"/><circle cx="54.6" cy="88.0" r="3.3"/><circle cx="48.9" cy="84.5" r="2.8"/><circle cx="56.8" cy="80.9" r="2.7"/><circle cx="65.4" cy="78.4" r="4.2"/><circle cx="68.5" cy="75.1" r="4.3"/><circle cx="68.1" cy="66.2" r="3.2"/><circle cx="70.1" cy="60.1" r="3.1"/><circle cx="67.0" cy="56.5" r="4.0"/><circle cx="61.3" cy="49.6" r="2.6"/><circle cx="55.8" cy="42.4" r="3.9"/></g>
<g filter="url(#g1)"><ellipse cx="105.6" cy="113.0" rx="6.7" ry="3.5" fill="#9a42a8" opacity="0.52" transform="rotate(158 105.6 113.0)"/><ellipse cx="102.0" cy="100.8" rx="7.2" ry="3.8" fill="#9a42a8" opacity="0.69" transform="rotate(95 102.0 100.8)"/><ellipse cx="111.9" cy="74.6" rx="5.1" ry="2.7" fill="#84309a" opacity="0.66" transform="rotate(133 111.9 74.6)"/><ellipse cx="133.5" cy="118.2" rx="6.7" ry="3.5" fill="#9a42a8" opacity="0.67" transform="rotate(100 133.5 118.2)"/><ellipse cx="78.1" cy="64.4" rx="6.9" ry="3.6" fill="#9a42a8" opacity="0.39" transform="rotate(57 78.1 64.4)"/><ellipse cx="74.1" cy="71.3" rx="4.2" ry="2.2" fill="#9a42a8" opacity="0.54" transform="rotate(70 74.1 71.3)"/><ellipse cx="116.9" cy="141.7" rx="5.3" ry="2.8" fill="#9338a0" opacity="0.37" transform="rotate(16 116.9 141.7)"/><ellipse cx="90.2" cy="80.0" rx="6.8" ry="3.6" fill="#84309a" opacity="0.51" transform="rotate(85 90.2 80.0)"/><ellipse cx="85.2" cy="102.2" rx="6.6" ry="3.5" fill="#9a42a8" opacity="0.52" transform="rotate(1 85.2 102.2)"/><ellipse cx="85.5" cy="117.1" rx="4.9" ry="2.6" fill="#84309a" opacity="0.60" transform="rotate(157 85.5 117.1)"/><ellipse cx="132.0" cy="139.8" rx="6.9" ry="3.7" fill="#84309a" opacity="0.36" transform="rotate(15 132.0 139.8)"/><ellipse cx="108.7" cy="124.3" rx="5.6" ry="2.9" fill="#84309a" opacity="0.68" transform="rotate(73 108.7 124.3)"/><ellipse cx="96.2" cy="111.8" rx="6.5" ry="3.4" fill="#84309a" opacity="0.36" transform="rotate(71 96.2 111.8)"/><ellipse cx="119.3" cy="111.8" rx="5.0" ry="2.7" fill="#5c1e68" opacity="0.62" transform="rotate(173 119.3 111.8)"/><ellipse cx="128.7" cy="147.0" rx="6.8" ry="3.6" fill="#9338a0" opacity="0.65" transform="rotate(112 128.7 147.0)"/><ellipse cx="106.9" cy="106.1" rx="4.8" ry="2.5" fill="#5c1e68" opacity="0.42" transform="rotate(109 106.9 106.1)"/><ellipse cx="101.6" cy="82.7" rx="6.8" ry="3.6" fill="#5c1e68" opacity="0.49" transform="rotate(164 101.6 82.7)"/><ellipse cx="54.5" cy="42.0" rx="6.6" ry="3.4" fill="#5c1e68" opacity="0.59" transform="rotate(60 54.5 42.0)"/><ellipse cx="98.8" cy="75.5" rx="4.3" ry="2.2" fill="#9338a0" opacity="0.63" transform="rotate(89 98.8 75.5)"/><ellipse cx="78.7" cy="77.8" rx="5.8" ry="3.0" fill="#9a42a8" opacity="0.38" transform="rotate(69 78.7 77.8)"/><ellipse cx="95.4" cy="77.2" rx="6.4" ry="3.4" fill="#9338a0" opacity="0.36" transform="rotate(14 95.4 77.2)"/><ellipse cx="83.2" cy="81.5" rx="4.9" ry="2.6" fill="#9a42a8" opacity="0.56" transform="rotate(146 83.2 81.5)"/><ellipse cx="98.5" cy="109.2" rx="5.9" ry="3.1" fill="#9a42a8" opacity="0.43" transform="rotate(7 98.5 109.2)"/><ellipse cx="84.0" cy="53.2" rx="7.1" ry="3.8" fill="#84309a" opacity="0.47" transform="rotate(145 84.0 53.2)"/><ellipse cx="127.2" cy="99.5" rx="6.6" ry="3.5" fill="#84309a" opacity="0.57" transform="rotate(135 127.2 99.5)"/><ellipse cx="132.2" cy="97.4" rx="6.5" ry="3.4" fill="#84309a" opacity="0.65" transform="rotate(127 132.2 97.4)"/><ellipse cx="77.9" cy="84.3" rx="5.1" ry="2.7" fill="#84309a" opacity="0.43" transform="rotate(120 77.9 84.3)"/><ellipse cx="142.3" cy="132.6" rx="5.5" ry="2.9" fill="#84309a" opacity="0.69" transform="rotate(66 142.3 132.6)"/><ellipse cx="93.2" cy="72.1" rx="6.7" ry="3.5" fill="#9338a0" opacity="0.41" transform="rotate(69 93.2 72.1)"/><ellipse cx="96.6" cy="59.9" rx="5.5" ry="2.9" fill="#5c1e68" opacity="0.38" transform="rotate(24 96.6 59.9)"/><ellipse cx="101.9" cy="84.0" rx="6.0" ry="3.1" fill="#84309a" opacity="0.52" transform="rotate(91 101.9 84.0)"/><ellipse cx="80.6" cy="102.3" rx="5.8" ry="3.1" fill="#9a42a8" opacity="0.56" transform="rotate(165 80.6 102.3)"/><ellipse cx="116.0" cy="87.7" rx="4.2" ry="2.2" fill="#5c1e68" opacity="0.65" transform="rotate(54 116.0 87.7)"/><ellipse cx="130.4" cy="147.4" rx="6.8" ry="3.6" fill="#5c1e68" opacity="0.46" transform="rotate(7 130.4 147.4)"/><ellipse cx="92.5" cy="97.8" rx="5.3" ry="2.8" fill="#9338a0" opacity="0.42" transform="rotate(77 92.5 97.8)"/><ellipse cx="122.8" cy="152.2" rx="6.0" ry="3.1" fill="#9a42a8" opacity="0.47" transform="rotate(52 122.8 152.2)"/><ellipse cx="90.9" cy="76.4" rx="6.9" ry="3.6" fill="#84309a" opacity="0.64" transform="rotate(119 90.9 76.4)"/><ellipse cx="101.9" cy="94.1" rx="6.7" ry="3.5" fill="#9338a0" opacity="0.44" transform="rotate(177 101.9 94.1)"/><ellipse cx="82.9" cy="60.4" rx="7.1" ry="3.7" fill="#9a42a8" opacity="0.40" transform="rotate(31 82.9 60.4)"/><ellipse cx="79.8" cy="74.0" rx="5.2" ry="2.7" fill="#9338a0" opacity="0.46" transform="rotate(106 79.8 74.0)"/><ellipse cx="106.9" cy="76.7" rx="6.8" ry="3.6" fill="#84309a" opacity="0.58" transform="rotate(74 106.9 76.7)"/><ellipse cx="78.6" cy="58.8" rx="5.8" ry="3.1" fill="#5c1e68" opacity="0.59" transform="rotate(88 78.6 58.8)"/><ellipse cx="103.6" cy="71.8" rx="6.0" ry="3.2" fill="#84309a" opacity="0.61" transform="rotate(62 103.6 71.8)"/><ellipse cx="104.6" cy="125.9" rx="7.0" ry="3.7" fill="#5c1e68" opacity="0.54" transform="rotate(72 104.6 125.9)"/><ellipse cx="111.4" cy="114.9" rx="6.0" ry="3.2" fill="#9338a0" opacity="0.61" transform="rotate(168 111.4 114.9)"/><ellipse cx="110.5" cy="141.3" rx="6.4" ry="3.4" fill="#84309a" opacity="0.36" transform="rotate(98 110.5 141.3)"/><ellipse cx="120.8" cy="153.0" rx="5.2" ry="2.7" fill="#9a42a8" opacity="0.61" transform="rotate(93 120.8 153.0)"/><ellipse cx="105.5" cy="63.3" rx="5.2" ry="2.7" fill="#5c1e68" opacity="0.69" transform="rotate(23 105.5 63.3)"/><ellipse cx="89.1" cy="92.8" rx="4.4" ry="2.3" fill="#9a42a8" opacity="0.44" transform="rotate(60 89.1 92.8)"/><ellipse cx="86.1" cy="55.5" rx="5.8" ry="3.1" fill="#9338a0" opacity="0.64" transform="rotate(100 86.1 55.5)"/><ellipse cx="92.0" cy="85.1" rx="5.0" ry="2.6" fill="#9a42a8" opacity="0.48" transform="rotate(61 92.0 85.1)"/><ellipse cx="99.4" cy="99.9" rx="5.3" ry="2.8" fill="#9338a0" opacity="0.36" transform="rotate(164 99.4 99.9)"/><ellipse cx="101.9" cy="59.8" rx="5.6" ry="3.0" fill="#84309a" opacity="0.49" transform="rotate(140 101.9 59.8)"/><ellipse cx="125.6" cy="123.5" rx="7.2" ry="3.8" fill="#84309a" opacity="0.40" transform="rotate(66 125.6 123.5)"/><ellipse cx="83.4" cy="77.1" rx="5.1" ry="2.7" fill="#9a42a8" opacity="0.46" transform="rotate(66 83.4 77.1)"/><ellipse cx="70.5" cy="61.1" rx="6.2" ry="3.2" fill="#9a42a8" opacity="0.56" transform="rotate(71 70.5 61.1)"/><ellipse cx="100.3" cy="65.2" rx="5.8" ry="3.0" fill="#9338a0" opacity="0.61" transform="rotate(97 100.3 65.2)"/><ellipse cx="133.0" cy="99.5" rx="5.7" ry="3.0" fill="#9a42a8" opacity="0.58" transform="rotate(135 133.0 99.5)"/><ellipse cx="135.0" cy="107.3" rx="4.9" ry="2.6" fill="#5c1e68" opacity="0.69" transform="rotate(3 135.0 107.3)"/><ellipse cx="107.7" cy="79.7" rx="6.0" ry="3.2" fill="#84309a" opacity="0.66" transform="rotate(147 107.7 79.7)"/><ellipse cx="86.7" cy="118.1" rx="7.1" ry="3.8" fill="#5c1e68" opacity="0.64" transform="rotate(12 86.7 118.1)"/><ellipse cx="93.1" cy="76.7" rx="7.1" ry="3.7" fill="#9338a0" opacity="0.61" transform="rotate(165 93.1 76.7)"/><ellipse cx="82.7" cy="69.2" rx="4.6" ry="2.4" fill="#9a42a8" opacity="0.69" transform="rotate(23 82.7 69.2)"/><ellipse cx="146.0" cy="130.2" rx="4.6" ry="2.4" fill="#9a42a8" opacity="0.66" transform="rotate(86 146.0 130.2)"/><ellipse cx="107.0" cy="126.0" rx="4.4" ry="2.3" fill="#84309a" opacity="0.61" transform="rotate(17 107.0 126.0)"/><ellipse cx="108.4" cy="118.8" rx="4.4" ry="2.3" fill="#5c1e68" opacity="0.57" transform="rotate(24 108.4 118.8)"/><ellipse cx="95.5" cy="129.9" rx="5.5" ry="2.9" fill="#84309a" opacity="0.69" transform="rotate(141 95.5 129.9)"/><ellipse cx="104.7" cy="140.9" rx="7.1" ry="3.7" fill="#9338a0" opacity="0.61" transform="rotate(23 104.7 140.9)"/><ellipse cx="91.7" cy="72.4" rx="5.7" ry="3.0" fill="#84309a" opacity="0.42" transform="rotate(29 91.7 72.4)"/><ellipse cx="103.2" cy="78.3" rx="7.2" ry="3.8" fill="#84309a" opacity="0.48" transform="rotate(2 103.2 78.3)"/><ellipse cx="59.0" cy="79.0" rx="5.0" ry="2.6" fill="#84309a" opacity="0.48" transform="rotate(164 59.0 79.0)"/><ellipse cx="77.5" cy="79.7" rx="7.1" ry="3.7" fill="#9a42a8" opacity="0.68" transform="rotate(20 77.5 79.7)"/><ellipse cx="83.2" cy="51.8" rx="4.5" ry="2.3" fill="#9a42a8" opacity="0.39" transform="rotate(140 83.2 51.8)"/><ellipse cx="51.9" cy="83.1" rx="6.2" ry="3.3" fill="#9338a0" opacity="0.70" transform="rotate(164 51.9 83.1)"/><ellipse cx="125.2" cy="83.8" rx="4.3" ry="2.3" fill="#5c1e68" opacity="0.57" transform="rotate(136 125.2 83.8)"/><ellipse cx="123.5" cy="125.0" rx="4.3" ry="2.3" fill="#5c1e68" opacity="0.68" transform="rotate(63 123.5 125.0)"/><ellipse cx="126.4" cy="148.5" rx="5.5" ry="2.9" fill="#9a42a8" opacity="0.58" transform="rotate(32 126.4 148.5)"/><ellipse cx="85.6" cy="97.5" rx="7.0" ry="3.7" fill="#5c1e68" opacity="0.40" transform="rotate(106 85.6 97.5)"/><ellipse cx="78.0" cy="71.8" rx="5.3" ry="2.8" fill="#84309a" opacity="0.38" transform="rotate(166 78.0 71.8)"/><ellipse cx="135.9" cy="104.7" rx="6.9" ry="3.6" fill="#5c1e68" opacity="0.59" transform="rotate(120 135.9 104.7)"/></g>
<path d="M53.4 39.6C54.9 39.0 59.9 39.0 63.3 39.6C66.8 40.2 70.2 42.6 74.1 43.2C78.0 43.8 82.5 41.7 86.7 43.2C90.9 44.7 95.7 48.6 99.3 52.2C102.9 55.8 105.3 61.2 108.3 64.8C111.3 68.4 113.9 70.2 117.3 73.8C120.8 77.4 126.2 81.6 129.0 86.4C131.9 91.2 132.0 97.8 134.4 102.6C136.8 107.4 141.3 110.2 143.4 115.2C145.5 120.2 147.9 128.0 147.0 132.3C146.1 136.7 140.1 138.0 138.0 141.3C135.9 144.6 137.9 149.7 134.4 152.1C131.0 154.5 122.6 156.6 117.3 155.7C112.1 154.8 105.9 150.6 102.9 146.7C99.9 142.8 102.3 135.9 99.3 132.3C96.3 128.7 89.1 128.8 84.9 125.1C80.7 121.3 77.1 114.8 74.1 109.8C71.1 104.8 70.8 99.6 66.9 95.4C63.0 91.2 53.1 87.1 50.7 84.6C48.3 82.0 49.8 81.3 52.5 80.1C55.2 78.9 64.2 80.2 66.9 77.4C69.6 74.6 69.3 67.5 68.7 63.0C68.1 58.5 65.7 53.7 63.3 50.4C60.9 47.1 56.0 45.0 54.3 43.2C52.7 41.4 51.9 40.2 53.4 39.6Z" fill="#fff" filter="url(#mW2)" opacity="0.06"/><path d="M53.4 39.6C54.9 39.0 59.9 39.0 63.3 39.6C66.8 40.2 70.2 42.6 74.1 43.2C78.0 43.8 82.5 41.7 86.7 43.2C90.9 44.7 95.7 48.6 99.3 52.2C102.9 55.8 105.3 61.2 108.3 64.8C111.3 68.4 113.9 70.2 117.3 73.8C120.8 77.4 126.2 81.6 129.0 86.4C131.9 91.2 132.0 97.8 134.4 102.6C136.8 107.4 141.3 110.2 143.4 115.2C145.5 120.2 147.9 128.0 147.0 132.3C146.1 136.7 140.1 138.0 138.0 141.3C135.9 144.6 137.9 149.7 134.4 152.1C131.0 154.5 122.6 156.6 117.3 155.7C112.1 154.8 105.9 150.6 102.9 146.7C99.9 142.8 102.3 135.9 99.3 132.3C96.3 128.7 89.1 128.8 84.9 125.1C80.7 121.3 77.1 114.8 74.1 109.8C71.1 104.8 70.8 99.6 66.9 95.4C63.0 91.2 53.1 87.1 50.7 84.6C48.3 82.0 49.8 81.3 52.5 80.1C55.2 78.9 64.2 80.2 66.9 77.4C69.6 74.6 69.3 67.5 68.7 63.0C68.1 58.5 65.7 53.7 63.3 50.4C60.9 47.1 56.0 45.0 54.3 43.2C52.7 41.4 51.9 40.2 53.4 39.6Z" fill="#fff" filter="url(#mK2)" opacity="0.4"/>
<g filter="url(#g06)"><circle cx="102.1" cy="108.6" r="1.4" fill="#5fc45f" opacity="0.96"/><circle cx="91.5" cy="74.3" r="0.9" fill="#5fc45f" opacity="0.73"/><circle cx="123.6" cy="123.2" r="0.8" fill="#7fd67f" opacity="0.98"/><circle cx="108.2" cy="114.8" r="1.0" fill="#7fd67f" opacity="0.76"/><circle cx="94.4" cy="58.8" r="0.9" fill="#7fd67f" opacity="0.86"/><circle cx="90.5" cy="108.0" r="1.4" fill="#5fc45f" opacity="0.94"/><circle cx="95.3" cy="52.8" r="1.0" fill="#5fc45f" opacity="0.75"/><circle cx="100.9" cy="108.4" r="1.0" fill="#5fc45f" opacity="0.82"/><circle cx="134.4" cy="130.2" r="1.4" fill="#7fd67f" opacity="0.99"/><circle cx="110.3" cy="143.5" r="0.8" fill="#5fc45f" opacity="0.80"/><circle cx="123.8" cy="78.7" r="1.1" fill="#7fd67f" opacity="0.70"/><circle cx="121.0" cy="114.8" r="1.2" fill="#5fc45f" opacity="0.75"/><circle cx="95.0" cy="54.4" r="1.3" fill="#5fc45f" opacity="0.84"/><circle cx="123.4" cy="83.0" r="1.4" fill="#5fc45f" opacity="0.84"/><circle cx="108.7" cy="134.1" r="1.0" fill="#7fd67f" opacity="0.91"/><circle cx="135.6" cy="126.8" r="1.4" fill="#7fd67f" opacity="0.71"/><circle cx="131.9" cy="113.2" r="1.2" fill="#5fc45f" opacity="0.74"/><circle cx="133.0" cy="92.4" r="1.0" fill="#7fd67f" opacity="0.83"/><circle cx="75.4" cy="104.7" r="1.3" fill="#5fc45f" opacity="0.75"/><circle cx="100.0" cy="74.4" r="0.9" fill="#5fc45f" opacity="0.96"/><circle cx="127.3" cy="96.2" r="1.4" fill="#7fd67f" opacity="0.77"/><circle cx="59.3" cy="78.7" r="1.4" fill="#7fd67f" opacity="0.93"/><circle cx="113.0" cy="76.2" r="1.5" fill="#7fd67f" opacity="0.85"/><circle cx="109.5" cy="143.0" r="1.5" fill="#7fd67f" opacity="0.95"/><circle cx="92.6" cy="111.4" r="0.9" fill="#7fd67f" opacity="0.82"/><circle cx="113.1" cy="115.4" r="1.4" fill="#7fd67f" opacity="0.92"/><circle cx="102.3" cy="119.6" r="1.1" fill="#5fc45f" opacity="0.79"/><circle cx="67.4" cy="64.3" r="0.9" fill="#5fc45f" opacity="0.72"/><circle cx="84.5" cy="76.0" r="1.0" fill="#7fd67f" opacity="0.94"/><circle cx="105.5" cy="73.9" r="1.1" fill="#7fd67f" opacity="0.81"/><circle cx="72.3" cy="43.5" r="1.4" fill="#5fc45f" opacity="0.81"/><circle cx="96.8" cy="88.3" r="1.3" fill="#5fc45f" opacity="0.87"/><circle cx="97.9" cy="123.8" r="1.0" fill="#7fd67f" opacity="0.87"/><circle cx="111.4" cy="149.9" r="1.1" fill="#7fd67f" opacity="0.85"/><circle cx="93.6" cy="70.4" r="0.9" fill="#5fc45f" opacity="0.82"/><circle cx="114.8" cy="151.4" r="0.9" fill="#5fc45f" opacity="0.81"/><circle cx="120.5" cy="114.3" r="1.5" fill="#7fd67f" opacity="0.78"/><circle cx="102.6" cy="112.9" r="1.2" fill="#5fc45f" opacity="0.82"/><circle cx="75.2" cy="73.2" r="1.4" fill="#7fd67f" opacity="0.72"/><circle cx="78.7" cy="107.8" r="1.3" fill="#5fc45f" opacity="0.74"/><circle cx="102.0" cy="143.0" r="1.4" fill="#5fc45f" opacity="0.81"/><circle cx="88.4" cy="47.6" r="1.3" fill="#5fc45f" opacity="0.92"/><circle cx="59.8" cy="39.3" r="1.5" fill="#7fd67f" opacity="0.98"/><circle cx="60.2" cy="46.7" r="1.3" fill="#7fd67f" opacity="0.91"/><circle cx="140.7" cy="121.8" r="1.4" fill="#5fc45f" opacity="0.84"/><circle cx="70.9" cy="88.8" r="0.9" fill="#5fc45f" opacity="0.71"/><circle cx="61.0" cy="87.1" r="1.3" fill="#5fc45f" opacity="0.96"/><circle cx="117.3" cy="132.0" r="1.0" fill="#7fd67f" opacity="0.91"/><circle cx="60.8" cy="36.9" r="1.1" fill="#7fd67f" opacity="0.80"/><circle cx="73.7" cy="41.6" r="1.1" fill="#7fd67f" opacity="0.86"/><circle cx="74.6" cy="85.2" r="1.5" fill="#7fd67f" opacity="0.92"/><circle cx="100.7" cy="62.3" r="0.8" fill="#7fd67f" opacity="0.98"/><circle cx="146.1" cy="137.3" r="1.2" fill="#7fd67f" opacity="0.90"/><circle cx="125.6" cy="156.5" r="1.1" fill="#5fc45f" opacity="0.95"/><circle cx="83.6" cy="112.1" r="1.4" fill="#7fd67f" opacity="0.75"/><circle cx="110.8" cy="108.5" r="1.5" fill="#7fd67f" opacity="0.71"/><circle cx="95.0" cy="113.7" r="1.4" fill="#7fd67f" opacity="0.80"/><circle cx="129.8" cy="134.7" r="1.1" fill="#5fc45f" opacity="0.73"/><circle cx="93.9" cy="84.6" r="1.5" fill="#7fd67f" opacity="0.94"/><circle cx="148.4" cy="128.5" r="1.3" fill="#5fc45f" opacity="0.94"/><circle cx="121.1" cy="157.2" r="1.2" fill="#5fc45f" opacity="0.83"/><circle cx="140.5" cy="126.7" r="1.2" fill="#5fc45f" opacity="0.72"/><circle cx="114.0" cy="134.4" r="0.9" fill="#5fc45f" opacity="0.78"/><circle cx="91.7" cy="88.7" r="1.0" fill="#7fd67f" opacity="0.88"/><circle cx="127.8" cy="154.6" r="0.9" fill="#7fd67f" opacity="0.80"/><circle cx="82.8" cy="45.6" r="1.0" fill="#7fd67f" opacity="0.89"/><circle cx="129.1" cy="113.9" r="1.2" fill="#7fd67f" opacity="0.75"/><circle cx="64.7" cy="43.4" r="1.2" fill="#7fd67f" opacity="0.76"/><circle cx="101.5" cy="52.6" r="1.1" fill="#5fc45f" opacity="0.85"/><circle cx="131.4" cy="122.1" r="1.5" fill="#7fd67f" opacity="0.98"/></g>
<circle cx="58" cy="60" r="2.6" fill="#4fd04f" filter="url(#g06)"/><circle cx="51" cy="93" r="2.6" fill="#4fd04f" filter="url(#g06)"/><circle cx="22" cy="20" r="1.8" fill="#3a9a3a" filter="url(#g06)"/>
</g></g>
<g clip-path="url(#c10)">
<rect x="350.20" y="658.80" width="186.70" height="185.60" fill="#272527"/>
<g transform="translate(350.20 658.80)">
<path d="M0 0 L36 0 L30 22 L12 52 L0 68 Z" fill="#383638" filter="url(#g2)"/>
<g filter="url(#g1)"><circle cx="10.1" cy="32.9" r="1.7" fill="#4c4c4c" opacity="0.41"/><circle cx="17.3" cy="8.8" r="3.1" fill="#4c4c4c" opacity="0.74"/><circle cx="3.1" cy="19.0" r="3.3" fill="#5a5a5a" opacity="0.48"/><circle cx="3.3" cy="27.8" r="2.9" fill="#5a5a5a" opacity="0.47"/><circle cx="9.4" cy="51.5" r="3.4" fill="#5a5a5a" opacity="0.56"/><circle cx="1.5" cy="22.6" r="3.1" fill="#222" opacity="0.75"/><circle cx="21.1" cy="5.3" r="3.3" fill="#5a5a5a" opacity="0.54"/><circle cx="22.2" cy="2.5" r="2.5" fill="#222" opacity="0.57"/><circle cx="8.0" cy="26.3" r="2.3" fill="#222" opacity="0.58"/><circle cx="3.7" cy="26.3" r="3.3" fill="#222" opacity="0.76"/><circle cx="11.7" cy="12.3" r="1.5" fill="#4c4c4c" opacity="0.42"/><circle cx="33.1" cy="8.1" r="2.7" fill="#222" opacity="0.69"/><circle cx="22.0" cy="30.8" r="1.9" fill="#4c4c4c" opacity="0.79"/><circle cx="5.9" cy="2.9" r="3.4" fill="#4c4c4c" opacity="0.44"/><circle cx="31.4" cy="5.6" r="1.8" fill="#4c4c4c" opacity="0.72"/><circle cx="6.4" cy="44.4" r="2.8" fill="#222" opacity="0.58"/><circle cx="14.5" cy="25.8" r="2.9" fill="#5a5a5a" opacity="0.43"/><circle cx="24.4" cy="16.5" r="2.2" fill="#222" opacity="0.49"/><circle cx="20.9" cy="5.1" r="3.3" fill="#5a5a5a" opacity="0.76"/><circle cx="2.9" cy="6.9" r="3.1" fill="#222" opacity="0.66"/><circle cx="13.8" cy="4.9" r="3.0" fill="#222" opacity="0.59"/><circle cx="2.9" cy="24.8" r="2.9" fill="#5a5a5a" opacity="0.73"/></g>
<g filter="url(#g2)" fill="#787878" opacity="1.0"><path d="M99.6 12.8C102.1 11.6 107.3 11.6 108.8 14.6C110.3 17.7 107.6 25.7 108.8 31.2C110.0 36.7 113.3 42.2 116.2 47.8C119.1 53.3 123.4 58.8 126.3 64.3C129.2 69.8 130.6 75.7 133.7 80.9C136.7 86.1 142.9 91.9 144.7 95.6C146.5 99.3 145.3 99.3 144.7 103.0C144.1 106.6 142.2 112.6 141.0 117.7C139.8 122.7 140.4 129.5 137.3 133.3C134.3 137.1 127.7 138.2 122.6 140.7C117.6 143.1 112.6 145.6 107.0 148.0C101.3 150.5 93.8 153.2 88.6 155.4C83.4 157.5 80.3 160.6 75.7 160.9C71.1 161.2 64.7 160.0 61.0 157.2C57.3 154.5 56.1 149.0 53.6 144.4C51.2 139.8 48.7 135.3 46.3 129.6C43.8 124.0 38.9 116.3 38.9 110.3C38.9 104.3 42.9 99.3 46.3 93.8C49.6 88.2 54.8 82.1 59.1 77.2C63.4 72.3 69.3 69.2 72.0 64.3C74.8 59.4 73.9 53.6 75.7 47.8C77.5 41.9 80.0 33.6 83.1 29.4C86.1 25.1 91.3 24.8 94.1 22.0C96.9 19.2 97.2 14.0 99.6 12.8Z"/><circle cx="102.0" cy="13.4" r="3.5"/><circle cx="109.1" cy="14.3" r="3.9"/><circle cx="109.4" cy="26.6" r="4.7"/><circle cx="107.6" cy="31.3" r="5.0"/><circle cx="113.0" cy="38.0" r="5.2"/><circle cx="113.9" cy="44.2" r="4.3"/><circle cx="119.0" cy="51.1" r="5.9"/><circle cx="118.2" cy="53.6" r="5.7"/><circle cx="121.8" cy="58.2" r="4.7"/><circle cx="126.1" cy="65.4" r="5.6"/><circle cx="130.3" cy="70.4" r="3.6"/><circle cx="131.8" cy="76.3" r="5.5"/><circle cx="133.9" cy="81.3" r="5.4"/><circle cx="138.5" cy="86.5" r="3.6"/><circle cx="141.6" cy="92.1" r="4.0"/><circle cx="145.2" cy="98.1" r="4.0"/><circle cx="144.5" cy="104.7" r="6.1"/><circle cx="144.4" cy="110.2" r="3.8"/><circle cx="138.9" cy="121.4" r="5.9"/><circle cx="139.3" cy="129.6" r="5.7"/><circle cx="133.8" cy="136.8" r="4.3"/><circle cx="128.2" cy="136.9" r="5.2"/><circle cx="118.5" cy="141.4" r="6.2"/><circle cx="114.0" cy="145.0" r="4.5"/><circle cx="106.7" cy="146.9" r="5.9"/><circle cx="96.7" cy="152.0" r="5.2"/><circle cx="92.6" cy="154.4" r="5.8"/><circle cx="87.0" cy="155.0" r="4.8"/><circle cx="78.9" cy="158.1" r="5.7"/><circle cx="72.0" cy="161.1" r="4.7"/><circle cx="67.2" cy="159.8" r="5.0"/><circle cx="62.2" cy="157.4" r="5.4"/><circle cx="57.8" cy="148.7" r="6.2"/><circle cx="50.6" cy="139.0" r="5.7"/><circle cx="48.1" cy="135.9" r="5.8"/><circle cx="45.2" cy="126.1" r="4.2"/><circle cx="44.5" cy="123.4" r="4.2"/><circle cx="40.1" cy="113.6" r="3.9"/><circle cx="42.1" cy="109.2" r="4.3"/><circle cx="44.1" cy="101.2" r="5.1"/><circle cx="45.2" cy="99.2" r="4.8"/><circle cx="47.7" cy="93.5" r="4.0"/><circle cx="52.3" cy="89.5" r="5.0"/><circle cx="57.7" cy="80.0" r="5.2"/><circle cx="59.8" cy="76.9" r="3.9"/><circle cx="63.6" cy="70.7" r="6.2"/><circle cx="68.9" cy="64.6" r="3.9"/><circle cx="73.9" cy="59.5" r="5.9"/><circle cx="73.3" cy="52.7" r="4.1"/><circle cx="77.8" cy="46.0" r="5.4"/><circle cx="80.1" cy="40.5" r="4.9"/><circle cx="80.8" cy="33.4" r="4.3"/><circle cx="85.1" cy="27.2" r="5.5"/><circle cx="89.6" cy="26.1" r="4.7"/><circle cx="97.6" cy="18.5" r="5.2"/></g>
<g filter="url(#g2)"><ellipse cx="80.3" cy="49.8" rx="6.9" ry="4.1" fill="#969696" opacity="0.47" transform="rotate(124 80.3 49.8)"/><ellipse cx="97.3" cy="71.0" rx="10.3" ry="6.1" fill="#606060" opacity="0.30" transform="rotate(44 97.3 71.0)"/><ellipse cx="68.0" cy="113.6" rx="9.4" ry="5.5" fill="#8e8e8e" opacity="0.54" transform="rotate(5 68.0 113.6)"/><ellipse cx="63.9" cy="118.4" rx="10.3" ry="6.1" fill="#848484" opacity="0.47" transform="rotate(3 63.9 118.4)"/><ellipse cx="85.6" cy="128.2" rx="6.3" ry="3.7" fill="#969696" opacity="0.34" transform="rotate(120 85.6 128.2)"/><ellipse cx="82.8" cy="109.7" rx="8.9" ry="5.2" fill="#969696" opacity="0.37" transform="rotate(15 82.8 109.7)"/><ellipse cx="82.3" cy="91.6" rx="7.6" ry="4.5" fill="#8e8e8e" opacity="0.56" transform="rotate(117 82.3 91.6)"/><ellipse cx="107.9" cy="35.6" rx="11.2" ry="6.6" fill="#8e8e8e" opacity="0.48" transform="rotate(75 107.9 35.6)"/><ellipse cx="66.5" cy="78.4" rx="10.3" ry="6.1" fill="#969696" opacity="0.54" transform="rotate(14 66.5 78.4)"/><ellipse cx="108.7" cy="93.0" rx="11.5" ry="6.8" fill="#848484" opacity="0.38" transform="rotate(161 108.7 93.0)"/><ellipse cx="74.8" cy="145.9" rx="8.2" ry="4.8" fill="#545454" opacity="0.53" transform="rotate(131 74.8 145.9)"/><ellipse cx="66.0" cy="96.4" rx="6.9" ry="4.0" fill="#545454" opacity="0.34" transform="rotate(69 66.0 96.4)"/><ellipse cx="113.9" cy="131.8" rx="8.6" ry="5.1" fill="#848484" opacity="0.47" transform="rotate(89 113.9 131.8)"/><ellipse cx="105.7" cy="88.9" rx="9.8" ry="5.8" fill="#848484" opacity="0.42" transform="rotate(175 105.7 88.9)"/><ellipse cx="108.5" cy="113.9" rx="7.2" ry="4.2" fill="#969696" opacity="0.58" transform="rotate(163 108.5 113.9)"/><ellipse cx="127.0" cy="102.6" rx="10.9" ry="6.4" fill="#545454" opacity="0.49" transform="rotate(74 127.0 102.6)"/><ellipse cx="82.4" cy="85.9" rx="11.0" ry="6.5" fill="#8e8e8e" opacity="0.45" transform="rotate(106 82.4 85.9)"/><ellipse cx="91.5" cy="148.0" rx="10.9" ry="6.4" fill="#8e8e8e" opacity="0.48" transform="rotate(179 91.5 148.0)"/><ellipse cx="123.4" cy="92.0" rx="10.5" ry="6.2" fill="#848484" opacity="0.42" transform="rotate(89 123.4 92.0)"/><ellipse cx="133.4" cy="98.2" rx="8.5" ry="5.0" fill="#8e8e8e" opacity="0.37" transform="rotate(157 133.4 98.2)"/><ellipse cx="93.4" cy="38.4" rx="9.8" ry="5.8" fill="#606060" opacity="0.41" transform="rotate(42 93.4 38.4)"/><ellipse cx="126.5" cy="104.0" rx="9.3" ry="5.4" fill="#606060" opacity="0.52" transform="rotate(69 126.5 104.0)"/><ellipse cx="61.0" cy="90.8" rx="9.4" ry="5.6" fill="#848484" opacity="0.45" transform="rotate(102 61.0 90.8)"/><ellipse cx="60.4" cy="85.0" rx="10.4" ry="6.1" fill="#969696" opacity="0.31" transform="rotate(55 60.4 85.0)"/><ellipse cx="72.7" cy="129.5" rx="9.2" ry="5.4" fill="#545454" opacity="0.50" transform="rotate(135 72.7 129.5)"/><ellipse cx="79.4" cy="128.0" rx="6.5" ry="3.8" fill="#545454" opacity="0.42" transform="rotate(28 79.4 128.0)"/><ellipse cx="87.8" cy="54.5" rx="11.4" ry="6.7" fill="#8e8e8e" opacity="0.55" transform="rotate(56 87.8 54.5)"/><ellipse cx="129.4" cy="113.7" rx="11.3" ry="6.6" fill="#848484" opacity="0.59" transform="rotate(49 129.4 113.7)"/><ellipse cx="126.6" cy="125.8" rx="8.0" ry="4.7" fill="#848484" opacity="0.53" transform="rotate(157 126.6 125.8)"/><ellipse cx="118.9" cy="124.8" rx="8.4" ry="4.9" fill="#545454" opacity="0.50" transform="rotate(111 118.9 124.8)"/><ellipse cx="111.9" cy="97.2" rx="6.9" ry="4.1" fill="#848484" opacity="0.54" transform="rotate(4 111.9 97.2)"/><ellipse cx="70.6" cy="146.1" rx="7.7" ry="4.5" fill="#545454" opacity="0.33" transform="rotate(152 70.6 146.1)"/><ellipse cx="82.6" cy="93.3" rx="10.4" ry="6.1" fill="#8e8e8e" opacity="0.41" transform="rotate(171 82.6 93.3)"/><ellipse cx="79.5" cy="127.0" rx="9.5" ry="5.6" fill="#969696" opacity="0.43" transform="rotate(39 79.5 127.0)"/><ellipse cx="103.0" cy="20.8" rx="8.9" ry="5.2" fill="#8e8e8e" opacity="0.45" transform="rotate(101 103.0 20.8)"/><ellipse cx="89.3" cy="128.6" rx="6.2" ry="3.7" fill="#8e8e8e" opacity="0.49" transform="rotate(82 89.3 128.6)"/><ellipse cx="131.2" cy="129.3" rx="10.0" ry="5.9" fill="#8e8e8e" opacity="0.33" transform="rotate(122 131.2 129.3)"/><ellipse cx="69.7" cy="152.1" rx="8.3" ry="4.9" fill="#8e8e8e" opacity="0.35" transform="rotate(142 69.7 152.1)"/><ellipse cx="123.2" cy="126.3" rx="11.6" ry="6.8" fill="#969696" opacity="0.42" transform="rotate(84 123.2 126.3)"/><ellipse cx="79.2" cy="150.2" rx="11.4" ry="6.7" fill="#606060" opacity="0.51" transform="rotate(28 79.2 150.2)"/><ellipse cx="111.1" cy="46.5" rx="11.6" ry="6.8" fill="#545454" opacity="0.54" transform="rotate(87 111.1 46.5)"/><ellipse cx="115.3" cy="51.8" rx="7.3" ry="4.3" fill="#8e8e8e" opacity="0.55" transform="rotate(14 115.3 51.8)"/><ellipse cx="120.5" cy="128.8" rx="11.6" ry="6.8" fill="#848484" opacity="0.34" transform="rotate(45 120.5 128.8)"/><ellipse cx="59.5" cy="98.7" rx="10.6" ry="6.2" fill="#8e8e8e" opacity="0.32" transform="rotate(100 59.5 98.7)"/><ellipse cx="134.9" cy="126.1" rx="9.8" ry="5.8" fill="#8e8e8e" opacity="0.36" transform="rotate(50 134.9 126.1)"/><ellipse cx="113.5" cy="51.4" rx="7.2" ry="4.2" fill="#969696" opacity="0.37" transform="rotate(15 113.5 51.4)"/><ellipse cx="93.0" cy="75.5" rx="8.0" ry="4.7" fill="#969696" opacity="0.57" transform="rotate(140 93.0 75.5)"/><ellipse cx="104.3" cy="60.0" rx="11.5" ry="6.8" fill="#8e8e8e" opacity="0.43" transform="rotate(52 104.3 60.0)"/><ellipse cx="89.6" cy="136.9" rx="11.6" ry="6.8" fill="#545454" opacity="0.37" transform="rotate(62 89.6 136.9)"/><ellipse cx="75.5" cy="148.1" rx="9.0" ry="5.3" fill="#606060" opacity="0.46" transform="rotate(134 75.5 148.1)"/><ellipse cx="108.8" cy="99.9" rx="11.5" ry="6.7" fill="#606060" opacity="0.51" transform="rotate(83 108.8 99.9)"/><ellipse cx="115.8" cy="102.7" rx="6.9" ry="4.0" fill="#848484" opacity="0.47" transform="rotate(16 115.8 102.7)"/><ellipse cx="119.8" cy="100.1" rx="7.1" ry="4.2" fill="#545454" opacity="0.59" transform="rotate(71 119.8 100.1)"/><ellipse cx="71.3" cy="72.8" rx="8.5" ry="5.0" fill="#545454" opacity="0.36" transform="rotate(62 71.3 72.8)"/><ellipse cx="126.2" cy="101.3" rx="7.0" ry="4.1" fill="#545454" opacity="0.47" transform="rotate(171 126.2 101.3)"/><ellipse cx="112.0" cy="138.0" rx="6.2" ry="3.7" fill="#606060" opacity="0.44" transform="rotate(75 112.0 138.0)"/><ellipse cx="135.4" cy="110.8" rx="8.6" ry="5.1" fill="#969696" opacity="0.43" transform="rotate(20 135.4 110.8)"/><ellipse cx="122.4" cy="87.8" rx="6.1" ry="3.6" fill="#848484" opacity="0.34" transform="rotate(9 122.4 87.8)"/><ellipse cx="108.8" cy="128.7" rx="9.9" ry="5.8" fill="#606060" opacity="0.46" transform="rotate(106 108.8 128.7)"/><ellipse cx="95.2" cy="102.0" rx="11.4" ry="6.7" fill="#606060" opacity="0.60" transform="rotate(88 95.2 102.0)"/><ellipse cx="81.7" cy="91.9" rx="6.6" ry="3.9" fill="#848484" opacity="0.44" transform="rotate(34 81.7 91.9)"/><ellipse cx="63.2" cy="133.9" rx="6.6" ry="3.9" fill="#969696" opacity="0.53" transform="rotate(28 63.2 133.9)"/><ellipse cx="65.9" cy="79.5" rx="6.0" ry="3.5" fill="#8e8e8e" opacity="0.43" transform="rotate(117 65.9 79.5)"/><ellipse cx="126.6" cy="88.4" rx="8.4" ry="5.0" fill="#848484" opacity="0.38" transform="rotate(3 126.6 88.4)"/><ellipse cx="133.2" cy="114.7" rx="7.5" ry="4.4" fill="#606060" opacity="0.49" transform="rotate(81 133.2 114.7)"/><ellipse cx="86.8" cy="107.1" rx="11.6" ry="6.8" fill="#606060" opacity="0.35" transform="rotate(35 86.8 107.1)"/><ellipse cx="105.7" cy="38.5" rx="6.9" ry="4.0" fill="#848484" opacity="0.43" transform="rotate(18 105.7 38.5)"/><ellipse cx="68.2" cy="112.1" rx="7.3" ry="4.3" fill="#8e8e8e" opacity="0.44" transform="rotate(31 68.2 112.1)"/><ellipse cx="125.5" cy="107.1" rx="9.5" ry="5.6" fill="#969696" opacity="0.54" transform="rotate(54 125.5 107.1)"/><ellipse cx="119.2" cy="121.7" rx="11.6" ry="6.8" fill="#969696" opacity="0.32" transform="rotate(76 119.2 121.7)"/></g>
<g filter="url(#g1)"><circle cx="69.2" cy="95.6" r="2.9" fill="#484848" opacity="0.35"/><circle cx="116.0" cy="130.5" r="1.9" fill="#484848" opacity="0.34"/><circle cx="64.8" cy="121.3" r="2.0" fill="#484848" opacity="0.32"/><circle cx="126.0" cy="128.4" r="3.0" fill="#484848" opacity="0.38"/><circle cx="105.5" cy="78.5" r="1.7" fill="#484848" opacity="0.26"/><circle cx="98.6" cy="94.9" r="2.7" fill="#484848" opacity="0.35"/><circle cx="60.9" cy="82.7" r="2.3" fill="#909090" opacity="0.32"/><circle cx="69.1" cy="103.0" r="2.8" fill="#484848" opacity="0.32"/><circle cx="96.6" cy="89.0" r="2.2" fill="#909090" opacity="0.32"/><circle cx="118.2" cy="99.7" r="3.2" fill="#909090" opacity="0.34"/><circle cx="72.4" cy="150.7" r="2.2" fill="#484848" opacity="0.30"/><circle cx="128.8" cy="122.3" r="1.9" fill="#909090" opacity="0.27"/><circle cx="87.0" cy="118.3" r="1.9" fill="#909090" opacity="0.35"/><circle cx="103.1" cy="53.6" r="2.6" fill="#484848" opacity="0.46"/><circle cx="73.8" cy="143.0" r="2.1" fill="#484848" opacity="0.46"/><circle cx="96.0" cy="110.6" r="2.3" fill="#909090" opacity="0.37"/><circle cx="115.8" cy="119.7" r="2.8" fill="#484848" opacity="0.50"/><circle cx="98.3" cy="37.2" r="3.2" fill="#484848" opacity="0.41"/><circle cx="103.7" cy="80.2" r="1.8" fill="#909090" opacity="0.46"/><circle cx="109.1" cy="66.0" r="3.2" fill="#909090" opacity="0.30"/><circle cx="50.5" cy="127.8" r="1.7" fill="#484848" opacity="0.47"/><circle cx="94.1" cy="38.9" r="2.5" fill="#909090" opacity="0.30"/><circle cx="123.3" cy="78.3" r="2.0" fill="#909090" opacity="0.32"/><circle cx="111.0" cy="112.8" r="1.9" fill="#484848" opacity="0.44"/><circle cx="77.7" cy="121.4" r="1.6" fill="#484848" opacity="0.45"/><circle cx="50.4" cy="112.6" r="1.9" fill="#484848" opacity="0.45"/><circle cx="91.8" cy="88.5" r="3.2" fill="#484848" opacity="0.28"/><circle cx="60.0" cy="116.3" r="3.3" fill="#484848" opacity="0.31"/><circle cx="85.8" cy="142.4" r="2.6" fill="#484848" opacity="0.29"/><circle cx="130.9" cy="111.4" r="2.5" fill="#484848" opacity="0.38"/><circle cx="75.5" cy="66.4" r="3.1" fill="#909090" opacity="0.47"/><circle cx="133.6" cy="115.6" r="3.0" fill="#909090" opacity="0.35"/><circle cx="95.2" cy="26.1" r="3.2" fill="#909090" opacity="0.29"/><circle cx="96.6" cy="77.3" r="2.2" fill="#909090" opacity="0.48"/><circle cx="93.4" cy="36.2" r="2.6" fill="#484848" opacity="0.29"/><circle cx="105.7" cy="112.4" r="2.2" fill="#909090" opacity="0.33"/><circle cx="88.9" cy="100.0" r="2.4" fill="#484848" opacity="0.45"/><circle cx="53.8" cy="94.0" r="2.7" fill="#484848" opacity="0.39"/><circle cx="87.7" cy="132.0" r="2.1" fill="#909090" opacity="0.39"/><circle cx="105.7" cy="73.5" r="2.1" fill="#484848" opacity="0.43"/></g>
<path d="M99.5 14.5C101.9 13.3 107.0 13.3 108.5 16.3C110.0 19.3 107.3 27.1 108.5 32.5C109.7 37.9 112.9 43.3 115.7 48.7C118.6 54.1 122.8 59.5 125.6 64.9C128.5 70.3 129.8 76.0 132.8 81.1C135.8 86.2 141.8 91.9 143.6 95.5C145.4 99.1 144.2 99.1 143.6 102.7C143.0 106.3 141.2 112.1 140.0 117.1C138.8 122.0 139.4 128.6 136.4 132.4C133.4 136.1 127.0 137.2 122.0 139.6C117.1 142.0 112.3 144.4 106.7 146.8C101.2 149.2 93.8 151.9 88.7 154.0C83.6 156.1 80.6 159.1 76.1 159.4C71.6 159.7 65.3 158.5 61.7 155.8C58.1 153.1 56.9 147.7 54.5 143.2C52.1 138.7 49.7 134.3 47.3 128.8C44.9 123.2 40.1 115.7 40.1 109.9C40.1 104.0 44.0 99.1 47.3 93.7C50.6 88.3 55.7 82.3 59.9 77.5C64.1 72.7 69.8 69.7 72.5 64.9C75.2 60.1 74.3 54.4 76.1 48.7C77.9 43.0 80.3 34.9 83.3 30.7C86.3 26.5 91.4 26.2 94.1 23.5C96.8 20.8 97.1 15.7 99.5 14.5Z" fill="#fff" filter="url(#mW1)" opacity="0.16"/><path d="M99.5 14.5C101.9 13.3 107.0 13.3 108.5 16.3C110.0 19.3 107.3 27.1 108.5 32.5C109.7 37.9 112.9 43.3 115.7 48.7C118.6 54.1 122.8 59.5 125.6 64.9C128.5 70.3 129.8 76.0 132.8 81.1C135.8 86.2 141.8 91.9 143.6 95.5C145.4 99.1 144.2 99.1 143.6 102.7C143.0 106.3 141.2 112.1 140.0 117.1C138.8 122.0 139.4 128.6 136.4 132.4C133.4 136.1 127.0 137.2 122.0 139.6C117.1 142.0 112.3 144.4 106.7 146.8C101.2 149.2 93.8 151.9 88.7 154.0C83.6 156.1 80.6 159.1 76.1 159.4C71.6 159.7 65.3 158.5 61.7 155.8C58.1 153.1 56.9 147.7 54.5 143.2C52.1 138.7 49.7 134.3 47.3 128.8C44.9 123.2 40.1 115.7 40.1 109.9C40.1 104.0 44.0 99.1 47.3 93.7C50.6 88.3 55.7 82.3 59.9 77.5C64.1 72.7 69.8 69.7 72.5 64.9C75.2 60.1 74.3 54.4 76.1 48.7C77.9 43.0 80.3 34.9 83.3 30.7C86.3 26.5 91.4 26.2 94.1 23.5C96.8 20.8 97.1 15.7 99.5 14.5Z" fill="#fff" filter="url(#mK1)" opacity="0.3"/>
<ellipse cx="85.5" cy="106" rx="3.6" ry="5" fill="#b8b8b8" filter="url(#g1)"/>
</g></g>
<g clip-path="url(#c11)">
<rect x="543.30" y="658.80" width="186.80" height="185.60" fill="#020202"/>
<g transform="translate(543.30 658.80)">
<g filter="url(#g06)"><circle cx="107.3" cy="11.6" r="1.2" fill="#9a9a9a" opacity="0.57"/><circle cx="46.8" cy="124.6" r="1.4" fill="#6a6a6a" opacity="0.52"/><circle cx="103.1" cy="96.3" r="1.6" fill="#6a6a6a" opacity="0.61"/><circle cx="101.6" cy="135.4" r="0.9" fill="#9a9a9a" opacity="0.85"/><circle cx="130.7" cy="103.0" r="1.7" fill="#6a6a6a" opacity="0.77"/><circle cx="97.4" cy="138.6" r="1.5" fill="#d8d8d8" opacity="0.79"/><circle cx="106.9" cy="65.3" r="1.3" fill="#9a9a9a" opacity="0.84"/><circle cx="114.3" cy="115.5" r="1.0" fill="#9a9a9a" opacity="0.77"/><circle cx="62.8" cy="80.6" r="1.2" fill="#9a9a9a" opacity="0.84"/><circle cx="130.2" cy="130.1" r="1.1" fill="#bdbdbd" opacity="0.90"/><circle cx="138.1" cy="97.2" r="1.6" fill="#9a9a9a" opacity="0.83"/><circle cx="79.8" cy="152.0" r="1.4" fill="#d8d8d8" opacity="0.57"/><circle cx="119.2" cy="92.7" r="1.6" fill="#6a6a6a" opacity="0.95"/><circle cx="80.2" cy="42.3" r="1.9" fill="#6a6a6a" opacity="0.55"/><circle cx="105.9" cy="132.7" r="1.3" fill="#bdbdbd" opacity="0.69"/><circle cx="102.4" cy="81.5" r="1.2" fill="#bdbdbd" opacity="0.84"/><circle cx="119.8" cy="129.0" r="1.2" fill="#d8d8d8" opacity="0.72"/><circle cx="86.4" cy="158.2" r="1.8" fill="#d8d8d8" opacity="0.99"/><circle cx="121.1" cy="87.8" r="1.0" fill="#d8d8d8" opacity="0.92"/><circle cx="92.4" cy="39.1" r="1.3" fill="#9a9a9a" opacity="0.77"/><circle cx="123.0" cy="91.4" r="0.9" fill="#d8d8d8" opacity="0.74"/><circle cx="99.2" cy="20.1" r="1.6" fill="#bdbdbd" opacity="0.99"/><circle cx="95.3" cy="27.5" r="1.6" fill="#9a9a9a" opacity="0.63"/><circle cx="133.5" cy="74.5" r="1.1" fill="#9a9a9a" opacity="0.86"/><circle cx="80.2" cy="113.7" r="1.3" fill="#6a6a6a" opacity="0.56"/><circle cx="101.5" cy="44.0" r="1.1" fill="#bdbdbd" opacity="0.85"/><circle cx="93.2" cy="51.6" r="1.4" fill="#9a9a9a" opacity="0.86"/><circle cx="134.7" cy="98.6" r="1.1" fill="#6a6a6a" opacity="0.90"/><circle cx="83.8" cy="74.5" r="1.4" fill="#bdbdbd" opacity="0.84"/><circle cx="80.6" cy="61.2" r="1.8" fill="#9a9a9a" opacity="0.60"/><circle cx="95.7" cy="29.8" r="1.1" fill="#6a6a6a" opacity="0.62"/><circle cx="132.3" cy="94.5" r="1.0" fill="#bdbdbd" opacity="0.98"/><circle cx="54.0" cy="84.3" r="1.1" fill="#6a6a6a" opacity="0.95"/><circle cx="79.2" cy="153.9" r="1.7" fill="#d8d8d8" opacity="0.71"/><circle cx="97.9" cy="121.0" r="1.1" fill="#d8d8d8" opacity="0.61"/><circle cx="41.8" cy="123.8" r="1.0" fill="#d8d8d8" opacity="0.53"/><circle cx="101.1" cy="87.0" r="1.8" fill="#9a9a9a" opacity="0.53"/><circle cx="92.5" cy="142.0" r="1.0" fill="#bdbdbd" opacity="0.84"/><circle cx="102.2" cy="105.4" r="1.3" fill="#d8d8d8" opacity="0.97"/><circle cx="58.2" cy="120.7" r="1.1" fill="#6a6a6a" opacity="0.57"/><circle cx="108.0" cy="79.8" r="1.8" fill="#bdbdbd" opacity="0.50"/><circle cx="105.2" cy="96.5" r="1.0" fill="#9a9a9a" opacity="0.75"/><circle cx="67.3" cy="76.8" r="1.4" fill="#d8d8d8" opacity="0.81"/><circle cx="69.0" cy="112.4" r="1.8" fill="#9a9a9a" opacity="0.63"/><circle cx="135.5" cy="124.8" r="1.1" fill="#d8d8d8" opacity="0.80"/><circle cx="106.7" cy="49.3" r="1.4" fill="#bdbdbd" opacity="0.55"/><circle cx="83.0" cy="51.4" r="0.9" fill="#9a9a9a" opacity="0.82"/><circle cx="64.7" cy="124.6" r="1.5" fill="#6a6a6a" opacity="0.78"/><circle cx="97.5" cy="75.5" r="0.9" fill="#d8d8d8" opacity="0.95"/><circle cx="124.9" cy="143.5" r="1.8" fill="#9a9a9a" opacity="0.84"/><circle cx="110.4" cy="63.5" r="1.5" fill="#6a6a6a" opacity="0.99"/><circle cx="81.7" cy="36.0" r="1.8" fill="#6a6a6a" opacity="0.90"/><circle cx="132.6" cy="135.6" r="1.2" fill="#bdbdbd" opacity="0.69"/><circle cx="57.7" cy="152.6" r="1.2" fill="#9a9a9a" opacity="0.61"/><circle cx="109.6" cy="70.6" r="1.2" fill="#bdbdbd" opacity="0.98"/><circle cx="66.7" cy="108.9" r="1.3" fill="#d8d8d8" opacity="0.97"/><circle cx="84.2" cy="122.6" r="1.2" fill="#bdbdbd" opacity="0.69"/><circle cx="100.2" cy="47.9" r="1.6" fill="#bdbdbd" opacity="0.76"/><circle cx="126.1" cy="116.1" r="1.8" fill="#9a9a9a" opacity="0.68"/><circle cx="43.1" cy="112.5" r="1.2" fill="#d8d8d8" opacity="0.83"/><circle cx="92.4" cy="112.9" r="1.2" fill="#d8d8d8" opacity="0.78"/><circle cx="56.8" cy="112.6" r="1.3" fill="#9a9a9a" opacity="0.81"/><circle cx="69.1" cy="94.2" r="0.9" fill="#d8d8d8" opacity="0.61"/><circle cx="123.8" cy="103.4" r="1.2" fill="#6a6a6a" opacity="0.72"/><circle cx="59.3" cy="82.4" r="1.8" fill="#9a9a9a" opacity="0.83"/><circle cx="67.2" cy="112.4" r="1.5" fill="#bdbdbd" opacity="0.91"/><circle cx="119.9" cy="113.9" r="1.1" fill="#9a9a9a" opacity="0.57"/><circle cx="104.1" cy="129.0" r="1.4" fill="#9a9a9a" opacity="0.86"/><circle cx="78.5" cy="70.8" r="1.0" fill="#bdbdbd" opacity="0.95"/><circle cx="125.8" cy="117.5" r="1.4" fill="#9a9a9a" opacity="0.96"/><circle cx="87.6" cy="91.5" r="1.5" fill="#d8d8d8" opacity="0.98"/><circle cx="135.7" cy="104.4" r="1.6" fill="#6a6a6a" opacity="0.92"/><circle cx="97.0" cy="149.3" r="1.6" fill="#6a6a6a" opacity="0.73"/><circle cx="119.9" cy="140.2" r="1.2" fill="#6a6a6a" opacity="0.81"/><circle cx="71.3" cy="92.9" r="1.0" fill="#9a9a9a" opacity="0.69"/><circle cx="82.0" cy="59.9" r="1.4" fill="#bdbdbd" opacity="0.60"/><circle cx="82.6" cy="150.5" r="1.5" fill="#bdbdbd" opacity="0.93"/><circle cx="121.5" cy="67.7" r="0.9" fill="#d8d8d8" opacity="0.65"/><circle cx="79.2" cy="148.4" r="1.7" fill="#9a9a9a" opacity="0.74"/><circle cx="66.0" cy="84.3" r="1.3" fill="#6a6a6a" opacity="0.86"/><circle cx="137.4" cy="101.1" r="1.6" fill="#bdbdbd" opacity="0.82"/><circle cx="121.0" cy="67.5" r="1.7" fill="#6a6a6a" opacity="0.63"/><circle cx="74.7" cy="110.3" r="1.7" fill="#bdbdbd" opacity="0.88"/><circle cx="49.4" cy="113.3" r="1.5" fill="#9a9a9a" opacity="0.73"/><circle cx="116.2" cy="130.4" r="1.1" fill="#d8d8d8" opacity="0.55"/><circle cx="79.9" cy="120.5" r="1.0" fill="#9a9a9a" opacity="0.55"/><circle cx="122.3" cy="141.9" r="1.5" fill="#bdbdbd" opacity="0.90"/><circle cx="99.0" cy="14.2" r="1.4" fill="#d8d8d8" opacity="0.53"/><circle cx="108.2" cy="9.7" r="1.3" fill="#6a6a6a" opacity="0.55"/><circle cx="143.5" cy="108.0" r="1.7" fill="#9a9a9a" opacity="0.72"/><circle cx="65.7" cy="135.2" r="1.4" fill="#6a6a6a" opacity="0.73"/><circle cx="128.3" cy="101.2" r="1.2" fill="#9a9a9a" opacity="0.92"/><circle cx="62.7" cy="81.0" r="1.5" fill="#6a6a6a" opacity="0.67"/><circle cx="90.9" cy="59.0" r="1.4" fill="#d8d8d8" opacity="0.90"/><circle cx="73.6" cy="146.6" r="1.6" fill="#d8d8d8" opacity="0.78"/></g>
<circle cx="107" cy="41" r="2.6" fill="#eee" filter="url(#g06)"/><circle cx="91" cy="101" r="2.6" fill="#eee" filter="url(#g06)"/><circle cx="100" cy="108" r="2.4" fill="#ddd" filter="url(#g06)"/>
</g></g>
<g clip-path="url(#c12)">
<rect x="736.60" y="658.80" width="187.20" height="185.60" fill="#020202"/>
<g transform="translate(736.60 658.80)">
<path d="M0 0 L36 0 L30 22 L12 52 L0 68 Z" fill="#3c1444" filter="url(#g2)"/>
<g filter="url(#g1)"><circle cx="8.6" cy="34.7" r="2.7" fill="#6a2476" opacity="0.41"/><circle cx="2.6" cy="3.4" r="2.6" fill="#1a081e" opacity="0.61"/><circle cx="17.2" cy="11.5" r="2.4" fill="#6a2476" opacity="0.58"/><circle cx="15.6" cy="23.2" r="2.4" fill="#000" opacity="0.51"/><circle cx="4.4" cy="24.3" r="1.6" fill="#1a081e" opacity="0.58"/><circle cx="14.7" cy="26.2" r="2.2" fill="#6a2476" opacity="0.73"/><circle cx="11.5" cy="50.3" r="3.1" fill="#1a081e" opacity="0.62"/><circle cx="6.6" cy="36.5" r="1.6" fill="#6a2476" opacity="0.70"/><circle cx="12.3" cy="38.4" r="2.8" fill="#6a2476" opacity="0.75"/><circle cx="14.6" cy="44.1" r="3.4" fill="#000" opacity="0.66"/><circle cx="2.0" cy="51.5" r="2.2" fill="#6a2476" opacity="0.43"/><circle cx="15.9" cy="12.9" r="3.0" fill="#000" opacity="0.71"/><circle cx="5.9" cy="26.2" r="2.1" fill="#6a2476" opacity="0.55"/><circle cx="4.5" cy="14.3" r="1.7" fill="#1a081e" opacity="0.51"/><circle cx="18.2" cy="21.8" r="2.3" fill="#1a081e" opacity="0.56"/><circle cx="11.3" cy="37.3" r="2.0" fill="#000" opacity="0.53"/><circle cx="23.4" cy="19.0" r="1.6" fill="#000" opacity="0.77"/><circle cx="17.5" cy="5.4" r="3.0" fill="#1a081e" opacity="0.66"/><circle cx="1.2" cy="54.3" r="1.8" fill="#000" opacity="0.64"/><circle cx="7.9" cy="25.5" r="2.1" fill="#000" opacity="0.40"/><circle cx="25.3" cy="7.1" r="2.0" fill="#000" opacity="0.45"/><circle cx="13.3" cy="43.8" r="2.3" fill="#6a2476" opacity="0.49"/></g>
<g filter="url(#g5)" fill="#140a16" opacity="1.0"><path d="M100.4 -0.8C103.3 -2.2 109.4 -2.2 111.2 1.4C113.0 5.0 109.7 14.3 111.2 20.8C112.6 27.3 116.4 33.8 119.8 40.2C123.2 46.7 128.3 53.2 131.7 59.7C135.1 66.2 136.7 73.0 140.3 79.1C143.9 85.2 151.1 92.1 153.3 96.4C155.5 100.7 154.0 100.7 153.3 105.0C152.6 109.4 150.4 116.4 149.0 122.3C147.5 128.3 148.3 136.2 144.7 140.7C141.1 145.2 133.3 146.4 127.4 149.3C121.4 152.2 115.7 155.1 109.0 158.0C102.4 160.8 93.5 164.1 87.4 166.6C81.3 169.1 77.7 172.7 72.3 173.1C66.9 173.4 59.3 172.0 55.0 168.8C50.7 165.5 49.3 159.0 46.4 153.6C43.5 148.2 40.6 143.0 37.7 136.4C34.9 129.7 29.1 120.7 29.1 113.7C29.1 106.7 33.8 100.7 37.7 94.2C41.7 87.8 47.8 80.6 52.9 74.8C57.9 69.0 64.7 65.4 68.0 59.7C71.2 53.9 70.1 47.1 72.3 40.2C74.5 33.4 77.3 23.7 80.9 18.6C84.5 13.6 90.7 13.2 93.9 10.0C97.1 6.8 97.5 0.6 100.4 -0.8Z"/></g>
<g filter="url(#g2)" fill="#883098" opacity="1.0"><path d="M99.6 12.8C102.1 11.6 107.3 11.6 108.8 14.6C110.3 17.7 107.6 25.7 108.8 31.2C110.0 36.7 113.3 42.2 116.2 47.8C119.1 53.3 123.4 58.8 126.3 64.3C129.2 69.8 130.6 75.7 133.7 80.9C136.7 86.1 142.9 91.9 144.7 95.6C146.5 99.3 145.3 99.3 144.7 103.0C144.1 106.6 142.2 112.6 141.0 117.7C139.8 122.7 140.4 129.5 137.3 133.3C134.3 137.1 127.7 138.2 122.6 140.7C117.6 143.1 112.6 145.6 107.0 148.0C101.3 150.5 93.8 153.2 88.6 155.4C83.4 157.5 80.3 160.6 75.7 160.9C71.1 161.2 64.7 160.0 61.0 157.2C57.3 154.5 56.1 149.0 53.6 144.4C51.2 139.8 48.7 135.3 46.3 129.6C43.8 124.0 38.9 116.3 38.9 110.3C38.9 104.3 42.9 99.3 46.3 93.8C49.6 88.2 54.8 82.1 59.1 77.2C63.4 72.3 69.3 69.2 72.0 64.3C74.8 59.4 73.9 53.6 75.7 47.8C77.5 41.9 80.0 33.6 83.1 29.4C86.1 25.1 91.3 24.8 94.1 22.0C96.9 19.2 97.2 14.0 99.6 12.8Z"/><circle cx="100.1" cy="14.3" r="4.9"/><circle cx="109.5" cy="15.0" r="5.3"/><circle cx="109.8" cy="22.3" r="4.4"/><circle cx="108.5" cy="33.8" r="4.1"/><circle cx="112.1" cy="39.8" r="6.3"/><circle cx="115.2" cy="43.1" r="3.8"/><circle cx="116.0" cy="48.2" r="6.5"/><circle cx="119.6" cy="56.2" r="4.4"/><circle cx="124.9" cy="57.9" r="5.7"/><circle cx="125.6" cy="66.4" r="5.9"/><circle cx="128.3" cy="68.9" r="6.2"/><circle cx="133.5" cy="77.1" r="3.8"/><circle cx="134.6" cy="82.4" r="3.7"/><circle cx="138.9" cy="86.9" r="3.6"/><circle cx="140.2" cy="90.0" r="4.9"/><circle cx="144.9" cy="99.8" r="3.6"/><circle cx="143.0" cy="103.7" r="5.5"/><circle cx="142.9" cy="109.5" r="3.9"/><circle cx="139.3" cy="118.0" r="4.4"/><circle cx="140.2" cy="128.4" r="5.9"/><circle cx="137.8" cy="133.2" r="6.2"/><circle cx="128.0" cy="138.7" r="3.6"/><circle cx="119.9" cy="140.4" r="5.8"/><circle cx="111.5" cy="146.4" r="4.4"/><circle cx="106.1" cy="147.6" r="5.1"/><circle cx="99.6" cy="151.8" r="4.9"/><circle cx="94.3" cy="154.3" r="6.2"/><circle cx="87.5" cy="154.6" r="4.5"/><circle cx="81.6" cy="160.0" r="5.3"/><circle cx="74.9" cy="159.4" r="5.1"/><circle cx="69.4" cy="160.9" r="4.1"/><circle cx="57.8" cy="153.1" r="5.3"/><circle cx="56.8" cy="150.4" r="5.9"/><circle cx="51.5" cy="138.5" r="4.5"/><circle cx="49.6" cy="135.6" r="4.5"/><circle cx="45.1" cy="126.1" r="6.1"/><circle cx="42.0" cy="121.5" r="5.8"/><circle cx="39.0" cy="115.9" r="5.9"/><circle cx="39.6" cy="107.1" r="3.7"/><circle cx="40.9" cy="104.5" r="4.6"/><circle cx="43.2" cy="97.8" r="5.0"/><circle cx="50.1" cy="89.8" r="6.1"/><circle cx="51.2" cy="89.0" r="4.6"/><circle cx="55.5" cy="81.0" r="4.6"/><circle cx="60.7" cy="76.6" r="3.8"/><circle cx="63.1" cy="71.8" r="4.8"/><circle cx="71.1" cy="68.5" r="6.2"/><circle cx="71.9" cy="63.7" r="3.7"/><circle cx="75.1" cy="50.8" r="6.0"/><circle cx="77.4" cy="46.1" r="4.7"/><circle cx="77.2" cy="42.9" r="4.7"/><circle cx="83.7" cy="33.8" r="4.6"/><circle cx="85.8" cy="27.1" r="5.1"/><circle cx="89.8" cy="22.3" r="5.4"/><circle cx="98.8" cy="17.7" r="3.8"/></g>
<g filter="url(#g2)"><ellipse cx="46.4" cy="114.3" rx="6.8" ry="4.0" fill="#6a2478" opacity="0.43" transform="rotate(125 46.4 114.3)"/><ellipse cx="52.1" cy="100.8" rx="9.6" ry="5.6" fill="#6a2478" opacity="0.50" transform="rotate(112 52.1 100.8)"/><ellipse cx="58.5" cy="133.4" rx="6.7" ry="4.0" fill="#6a2478" opacity="0.51" transform="rotate(91 58.5 133.4)"/><ellipse cx="99.5" cy="70.1" rx="6.2" ry="3.7" fill="#94389f" opacity="0.37" transform="rotate(11 99.5 70.1)"/><ellipse cx="50.2" cy="104.2" rx="11.8" ry="7.0" fill="#94389f" opacity="0.33" transform="rotate(112 50.2 104.2)"/><ellipse cx="75.3" cy="91.1" rx="10.1" ry="6.0" fill="#5a1e66" opacity="0.34" transform="rotate(14 75.3 91.1)"/><ellipse cx="74.2" cy="139.2" rx="7.5" ry="4.4" fill="#5a1e66" opacity="0.54" transform="rotate(12 74.2 139.2)"/><ellipse cx="71.9" cy="142.4" rx="10.3" ry="6.1" fill="#9c40a8" opacity="0.55" transform="rotate(7 71.9 142.4)"/><ellipse cx="138.2" cy="101.2" rx="6.4" ry="3.8" fill="#5a1e66" opacity="0.53" transform="rotate(157 138.2 101.2)"/><ellipse cx="114.9" cy="97.4" rx="7.8" ry="4.6" fill="#6a2478" opacity="0.46" transform="rotate(6 114.9 97.4)"/><ellipse cx="76.0" cy="117.2" rx="8.9" ry="5.2" fill="#6a2478" opacity="0.60" transform="rotate(154 76.0 117.2)"/><ellipse cx="80.7" cy="116.5" rx="6.5" ry="3.8" fill="#5a1e66" opacity="0.60" transform="rotate(121 80.7 116.5)"/><ellipse cx="61.8" cy="147.4" rx="8.4" ry="4.9" fill="#6a2478" opacity="0.62" transform="rotate(58 61.8 147.4)"/><ellipse cx="60.2" cy="132.4" rx="10.2" ry="6.0" fill="#94389f" opacity="0.53" transform="rotate(172 60.2 132.4)"/><ellipse cx="103.2" cy="88.6" rx="11.4" ry="6.7" fill="#94389f" opacity="0.50" transform="rotate(47 103.2 88.6)"/><ellipse cx="55.4" cy="123.7" rx="6.9" ry="4.0" fill="#94389f" opacity="0.34" transform="rotate(39 55.4 123.7)"/><ellipse cx="98.6" cy="75.4" rx="8.2" ry="4.8" fill="#94389f" opacity="0.31" transform="rotate(67 98.6 75.4)"/><ellipse cx="55.8" cy="97.6" rx="10.1" ry="5.9" fill="#5a1e66" opacity="0.38" transform="rotate(16 55.8 97.6)"/><ellipse cx="89.9" cy="147.5" rx="10.9" ry="6.4" fill="#94389f" opacity="0.47" transform="rotate(61 89.9 147.5)"/><ellipse cx="63.1" cy="152.2" rx="6.8" ry="4.0" fill="#6a2478" opacity="0.40" transform="rotate(86 63.1 152.2)"/><ellipse cx="86.5" cy="144.2" rx="10.4" ry="6.1" fill="#6a2478" opacity="0.60" transform="rotate(109 86.5 144.2)"/><ellipse cx="114.2" cy="89.6" rx="9.4" ry="5.5" fill="#5a1e66" opacity="0.51" transform="rotate(125 114.2 89.6)"/><ellipse cx="116.3" cy="107.4" rx="10.7" ry="6.3" fill="#94389f" opacity="0.62" transform="rotate(160 116.3 107.4)"/><ellipse cx="103.0" cy="119.0" rx="9.0" ry="5.3" fill="#9c40a8" opacity="0.36" transform="rotate(179 103.0 119.0)"/><ellipse cx="87.9" cy="114.0" rx="8.9" ry="5.2" fill="#94389f" opacity="0.58" transform="rotate(64 87.9 114.0)"/><ellipse cx="78.7" cy="126.4" rx="10.1" ry="5.9" fill="#6a2478" opacity="0.41" transform="rotate(150 78.7 126.4)"/><ellipse cx="63.4" cy="127.5" rx="7.0" ry="4.1" fill="#9c40a8" opacity="0.65" transform="rotate(43 63.4 127.5)"/><ellipse cx="101.3" cy="90.9" rx="6.2" ry="3.7" fill="#5a1e66" opacity="0.41" transform="rotate(23 101.3 90.9)"/><ellipse cx="110.6" cy="106.8" rx="9.0" ry="5.3" fill="#5a1e66" opacity="0.39" transform="rotate(89 110.6 106.8)"/><ellipse cx="67.8" cy="140.0" rx="11.0" ry="6.4" fill="#9c40a8" opacity="0.35" transform="rotate(149 67.8 140.0)"/><ellipse cx="73.1" cy="122.8" rx="7.5" ry="4.4" fill="#5a1e66" opacity="0.50" transform="rotate(93 73.1 122.8)"/><ellipse cx="105.0" cy="95.7" rx="9.2" ry="5.4" fill="#94389f" opacity="0.30" transform="rotate(129 105.0 95.7)"/><ellipse cx="53.2" cy="118.0" rx="8.6" ry="5.1" fill="#94389f" opacity="0.54" transform="rotate(97 53.2 118.0)"/><ellipse cx="90.0" cy="149.5" rx="8.1" ry="4.8" fill="#94389f" opacity="0.39" transform="rotate(165 90.0 149.5)"/><ellipse cx="51.3" cy="94.9" rx="7.9" ry="4.6" fill="#94389f" opacity="0.52" transform="rotate(36 51.3 94.9)"/><ellipse cx="127.1" cy="75.3" rx="6.3" ry="3.7" fill="#94389f" opacity="0.38" transform="rotate(18 127.1 75.3)"/><ellipse cx="92.2" cy="135.9" rx="10.7" ry="6.3" fill="#5a1e66" opacity="0.39" transform="rotate(71 92.2 135.9)"/><ellipse cx="113.0" cy="85.9" rx="9.4" ry="5.5" fill="#6a2478" opacity="0.53" transform="rotate(82 113.0 85.9)"/><ellipse cx="101.0" cy="46.1" rx="8.5" ry="5.0" fill="#6a2478" opacity="0.59" transform="rotate(94 101.0 46.1)"/><ellipse cx="123.6" cy="78.9" rx="11.3" ry="6.7" fill="#5a1e66" opacity="0.57" transform="rotate(20 123.6 78.9)"/><ellipse cx="86.5" cy="81.8" rx="6.7" ry="3.9" fill="#9c40a8" opacity="0.64" transform="rotate(117 86.5 81.8)"/><ellipse cx="123.0" cy="72.5" rx="8.9" ry="5.2" fill="#94389f" opacity="0.38" transform="rotate(65 123.0 72.5)"/><ellipse cx="133.0" cy="100.9" rx="9.9" ry="5.8" fill="#6a2478" opacity="0.31" transform="rotate(11 133.0 100.9)"/><ellipse cx="97.5" cy="77.5" rx="9.0" ry="5.3" fill="#94389f" opacity="0.43" transform="rotate(159 97.5 77.5)"/><ellipse cx="103.2" cy="26.0" rx="8.5" ry="5.0" fill="#9c40a8" opacity="0.60" transform="rotate(96 103.2 26.0)"/><ellipse cx="81.9" cy="126.3" rx="10.4" ry="6.1" fill="#94389f" opacity="0.42" transform="rotate(142 81.9 126.3)"/><ellipse cx="75.3" cy="96.8" rx="7.6" ry="4.5" fill="#94389f" opacity="0.47" transform="rotate(90 75.3 96.8)"/><ellipse cx="84.6" cy="84.2" rx="7.3" ry="4.3" fill="#9c40a8" opacity="0.39" transform="rotate(112 84.6 84.2)"/><ellipse cx="71.1" cy="128.2" rx="9.6" ry="5.7" fill="#6a2478" opacity="0.56" transform="rotate(162 71.1 128.2)"/><ellipse cx="115.0" cy="125.5" rx="9.9" ry="5.8" fill="#6a2478" opacity="0.57" transform="rotate(154 115.0 125.5)"/><ellipse cx="46.1" cy="105.3" rx="6.0" ry="3.6" fill="#9c40a8" opacity="0.37" transform="rotate(62 46.1 105.3)"/><ellipse cx="104.3" cy="62.2" rx="9.0" ry="5.3" fill="#6a2478" opacity="0.62" transform="rotate(104 104.3 62.2)"/><ellipse cx="69.3" cy="105.5" rx="9.3" ry="5.4" fill="#9c40a8" opacity="0.51" transform="rotate(127 69.3 105.5)"/><ellipse cx="98.4" cy="87.3" rx="7.0" ry="4.1" fill="#9c40a8" opacity="0.55" transform="rotate(23 98.4 87.3)"/><ellipse cx="116.3" cy="53.3" rx="9.8" ry="5.8" fill="#94389f" opacity="0.54" transform="rotate(16 116.3 53.3)"/><ellipse cx="68.6" cy="97.3" rx="11.9" ry="7.0" fill="#94389f" opacity="0.63" transform="rotate(16 68.6 97.3)"/><ellipse cx="72.2" cy="117.0" rx="9.5" ry="5.6" fill="#9c40a8" opacity="0.56" transform="rotate(12 72.2 117.0)"/><ellipse cx="103.5" cy="111.3" rx="10.8" ry="6.4" fill="#6a2478" opacity="0.51" transform="rotate(136 103.5 111.3)"/><ellipse cx="57.8" cy="85.1" rx="7.6" ry="4.5" fill="#9c40a8" opacity="0.32" transform="rotate(27 57.8 85.1)"/><ellipse cx="140.9" cy="100.2" rx="10.1" ry="5.9" fill="#9c40a8" opacity="0.41" transform="rotate(168 140.9 100.2)"/><ellipse cx="100.0" cy="38.7" rx="7.4" ry="4.4" fill="#5a1e66" opacity="0.61" transform="rotate(60 100.0 38.7)"/><ellipse cx="114.4" cy="132.5" rx="8.6" ry="5.1" fill="#94389f" opacity="0.43" transform="rotate(165 114.4 132.5)"/><ellipse cx="94.4" cy="51.4" rx="8.5" ry="5.0" fill="#6a2478" opacity="0.61" transform="rotate(41 94.4 51.4)"/><ellipse cx="81.2" cy="135.9" rx="10.4" ry="6.1" fill="#9c40a8" opacity="0.62" transform="rotate(10 81.2 135.9)"/><ellipse cx="89.5" cy="133.5" rx="7.4" ry="4.3" fill="#5a1e66" opacity="0.63" transform="rotate(166 89.5 133.5)"/><ellipse cx="114.9" cy="96.8" rx="10.8" ry="6.3" fill="#94389f" opacity="0.64" transform="rotate(44 114.9 96.8)"/><ellipse cx="121.7" cy="129.8" rx="8.6" ry="5.1" fill="#5a1e66" opacity="0.41" transform="rotate(162 121.7 129.8)"/><ellipse cx="116.3" cy="104.2" rx="10.9" ry="6.4" fill="#9c40a8" opacity="0.53" transform="rotate(171 116.3 104.2)"/><ellipse cx="66.4" cy="143.7" rx="9.6" ry="5.6" fill="#6a2478" opacity="0.50" transform="rotate(15 66.4 143.7)"/><ellipse cx="125.8" cy="102.5" rx="6.2" ry="3.7" fill="#94389f" opacity="0.43" transform="rotate(35 125.8 102.5)"/></g>
<path d="M99.5 14.5C101.9 13.3 107.0 13.3 108.5 16.3C110.0 19.3 107.3 27.1 108.5 32.5C109.7 37.9 112.9 43.3 115.7 48.7C118.6 54.1 122.8 59.5 125.6 64.9C128.5 70.3 129.8 76.0 132.8 81.1C135.8 86.2 141.8 91.9 143.6 95.5C145.4 99.1 144.2 99.1 143.6 102.7C143.0 106.3 141.2 112.1 140.0 117.1C138.8 122.0 139.4 128.6 136.4 132.4C133.4 136.1 127.0 137.2 122.0 139.6C117.1 142.0 112.3 144.4 106.7 146.8C101.2 149.2 93.8 151.9 88.7 154.0C83.6 156.1 80.6 159.1 76.1 159.4C71.6 159.7 65.3 158.5 61.7 155.8C58.1 153.1 56.9 147.7 54.5 143.2C52.1 138.7 49.7 134.3 47.3 128.8C44.9 123.2 40.1 115.7 40.1 109.9C40.1 104.0 44.0 99.1 47.3 93.7C50.6 88.3 55.7 82.3 59.9 77.5C64.1 72.7 69.8 69.7 72.5 64.9C75.2 60.1 74.3 54.4 76.1 48.7C77.9 43.0 80.3 34.9 83.3 30.7C86.3 26.5 91.4 26.2 94.1 23.5C96.8 20.8 97.1 15.7 99.5 14.5Z" fill="#fff" filter="url(#mW1)" opacity="0.08"/><path d="M99.5 14.5C101.9 13.3 107.0 13.3 108.5 16.3C110.0 19.3 107.3 27.1 108.5 32.5C109.7 37.9 112.9 43.3 115.7 48.7C118.6 54.1 122.8 59.5 125.6 64.9C128.5 70.3 129.8 76.0 132.8 81.1C135.8 86.2 141.8 91.9 143.6 95.5C145.4 99.1 144.2 99.1 143.6 102.7C143.0 106.3 141.2 112.1 140.0 117.1C138.8 122.0 139.4 128.6 136.4 132.4C133.4 136.1 127.0 137.2 122.0 139.6C117.1 142.0 112.3 144.4 106.7 146.8C101.2 149.2 93.8 151.9 88.7 154.0C83.6 156.1 80.6 159.1 76.1 159.4C71.6 159.7 65.3 158.5 61.7 155.8C58.1 153.1 56.9 147.7 54.5 143.2C52.1 138.7 49.7 134.3 47.3 128.8C44.9 123.2 40.1 115.7 40.1 109.9C40.1 104.0 44.0 99.1 47.3 93.7C50.6 88.3 55.7 82.3 59.9 77.5C64.1 72.7 69.8 69.7 72.5 64.9C75.2 60.1 74.3 54.4 76.1 48.7C77.9 43.0 80.3 34.9 83.3 30.7C86.3 26.5 91.4 26.2 94.1 23.5C96.8 20.8 97.1 15.7 99.5 14.5Z" fill="#fff" filter="url(#mK1)" opacity="0.38"/>
<g filter="url(#g06)"><circle cx="81.7" cy="93.1" r="1.5" fill="#5fc45f" opacity="0.81"/><circle cx="99.2" cy="25.6" r="1.4" fill="#7fd67f" opacity="0.91"/><circle cx="78.4" cy="72.2" r="1.4" fill="#7fd67f" opacity="0.81"/><circle cx="74.1" cy="53.5" r="0.9" fill="#5fc45f" opacity="0.88"/><circle cx="118.7" cy="129.0" r="0.8" fill="#7fd67f" opacity="0.91"/><circle cx="117.8" cy="116.5" r="1.5" fill="#7fd67f" opacity="0.81"/><circle cx="88.5" cy="79.6" r="1.4" fill="#5fc45f" opacity="0.77"/><circle cx="86.8" cy="131.7" r="1.3" fill="#7fd67f" opacity="0.88"/><circle cx="133.5" cy="99.0" r="1.3" fill="#7fd67f" opacity="1.00"/><circle cx="128.6" cy="103.0" r="0.8" fill="#7fd67f" opacity="0.93"/><circle cx="110.9" cy="82.7" r="0.9" fill="#5fc45f" opacity="0.89"/><circle cx="69.1" cy="108.9" r="1.0" fill="#5fc45f" opacity="0.83"/><circle cx="56.6" cy="90.3" r="1.3" fill="#5fc45f" opacity="0.78"/><circle cx="131.6" cy="102.0" r="1.2" fill="#7fd67f" opacity="0.72"/><circle cx="90.7" cy="71.6" r="1.0" fill="#7fd67f" opacity="0.72"/><circle cx="64.6" cy="154.6" r="1.3" fill="#5fc45f" opacity="0.98"/><circle cx="80.3" cy="63.0" r="1.2" fill="#7fd67f" opacity="0.97"/><circle cx="95.3" cy="136.5" r="1.0" fill="#5fc45f" opacity="0.87"/><circle cx="82.1" cy="31.6" r="1.6" fill="#7fd67f" opacity="0.74"/><circle cx="81.4" cy="107.4" r="1.4" fill="#7fd67f" opacity="0.81"/><circle cx="112.1" cy="78.9" r="1.0" fill="#5fc45f" opacity="0.92"/><circle cx="95.6" cy="42.7" r="0.9" fill="#5fc45f" opacity="0.86"/></g>
<circle cx="107" cy="41" r="2.6" fill="#4fd04f" filter="url(#g06)"/><circle cx="91" cy="101" r="2.2" fill="#4fd04f" filter="url(#g06)"/><circle cx="99" cy="107" r="2" fill="#4fd04f" filter="url(#g06)"/>
</g></g>
<text transform="translate(3.63 876.20) scale(0.92 1)" font-size="43" font-weight="bold" fill="#000">F</text>
<text x="48.05" y="892.50" font-size="23" fill="#6cb873" stroke="#6cb873">tubulin</text>
<text x="132.56" y="892.60" font-size="23" fill="#ae1a6c" stroke="#ae1a6c">DNA</text>
<g clip-path="url(#c13)">
<rect x="15.20" y="895.00" width="192.30" height="220.60" fill="#020202"/>
<g transform="translate(15.20 895.00)">
<g fill="none" stroke-linecap="round" filter="url(#g3)" opacity="0.55"><path d="M99 46.500 C74 56 64 86 64.500 113 C66 146 80 172 99.500 184" stroke="#43b83f" stroke-width="7.2"/><path d="M99 46.500 C126 50 138 80 139 110 C146 150 126 172 99.500 184" stroke="#43b83f" stroke-width="7.4"/><path d="M99 46.500 C103 70 97 100 93 125 C91 150 95 170 99.500 184" stroke="#4cc046" stroke-width="7"/><path d="M99 46.500 C115 70 125 100 119 130 C115 155 107 172 99.500 184" stroke="#4cc046" stroke-width="6.4"/><path d="M99 46.500 C87 70 77 100 83 130 C87 155 95 172 99.500 184" stroke="#4cc046" stroke-width="6.4"/><path d="M86 55 Q98 41 114 49 L126 58" stroke="#5ad24f" stroke-width="8"/><path d="M80 169 Q98 188 122 168" stroke="#5ad24f" stroke-width="8.5"/><path d="M90 160 L99.500 183 L110 162" stroke="#4cc046" stroke-width="6"/><path d="M92 66 L99 47.500 L107 66" stroke="#4cc046" stroke-width="6"/></g>
<g fill="none" stroke-linecap="round" filter="url(#g1)"><path d="M99 46.500 C74 56 64 86 64.500 113 C66 146 80 172 99.500 184" stroke="#43b83f" stroke-width="4.2"/><path d="M99 46.500 C126 50 138 80 139 110 C146 150 126 172 99.500 184" stroke="#43b83f" stroke-width="4.4"/><path d="M99 46.500 C103 70 97 100 93 125 C91 150 95 170 99.500 184" stroke="#4cc046" stroke-width="4"/><path d="M99 46.500 C115 70 125 100 119 130 C115 155 107 172 99.500 184" stroke="#4cc046" stroke-width="3.4"/><path d="M99 46.500 C87 70 77 100 83 130 C87 155 95 172 99.500 184" stroke="#4cc046" stroke-width="3.4"/><path d="M86 55 Q98 41 114 49 L126 58" stroke="#5ad24f" stroke-width="5"/><path d="M80 169 Q98 188 122 168" stroke="#5ad24f" stroke-width="5.5"/><path d="M90 160 L99.500 183 L110 162" stroke="#4cc046" stroke-width="3"/><path d="M92 66 L99 47.500 L107 66" stroke="#4cc046" stroke-width="3"/></g>
<g filter="url(#g2)" fill="#9e3aa8" opacity="0.97"><path d="M47.2 77.2C51.0 74.8 55.9 74.9 60.3 74.5C64.6 74.2 68.2 75.1 73.3 75.0C78.4 74.9 85.3 74.2 90.9 74.1C96.5 74.0 101.9 74.3 107.1 74.5C112.3 74.8 116.3 74.2 121.9 75.4C127.4 76.7 135.4 80.0 140.4 82.0C145.4 84.0 149.0 85.4 152.1 87.6C155.2 89.8 157.0 91.0 159.1 95.1C161.2 99.1 164.7 106.0 164.7 111.9C164.7 117.8 161.5 126.0 159.1 130.5C156.7 135.0 153.4 136.7 150.3 138.9C147.2 141.1 144.3 143.2 140.4 143.8C136.5 144.4 131.2 142.9 126.9 142.5C122.6 142.1 118.8 141.5 114.3 141.6C109.8 141.7 104.9 142.9 99.9 142.9C95.0 142.9 89.7 141.8 84.6 141.6C79.5 141.4 74.0 141.9 69.3 141.6C64.6 141.3 60.4 141.0 56.5 139.8C52.6 138.6 48.7 136.6 45.9 134.4C43.1 132.2 41.6 131.1 39.8 126.7C38.0 122.4 35.4 114.3 35.1 108.1C34.8 101.9 35.8 94.5 37.8 89.4C39.8 84.2 43.5 79.7 47.2 77.2Z"/><circle cx="53.7" cy="77.4" r="5.3"/><circle cx="60.5" cy="76.2" r="5.2"/><circle cx="80.3" cy="73.0" r="7.3"/><circle cx="95.5" cy="75.5" r="6.2"/><circle cx="113.4" cy="73.4" r="6.1"/><circle cx="125.6" cy="77.2" r="7.0"/><circle cx="145.8" cy="84.9" r="5.9"/><circle cx="153.3" cy="90.6" r="6.0"/><circle cx="158.9" cy="99.0" r="5.3"/><circle cx="161.8" cy="115.3" r="6.1"/><circle cx="153.6" cy="135.2" r="7.6"/><circle cx="147.4" cy="139.5" r="7.3"/><circle cx="136.6" cy="144.5" r="6.5"/><circle cx="122.2" cy="141.8" r="7.2"/><circle cx="107.1" cy="140.2" r="6.3"/><circle cx="100.2" cy="144.3" r="6.1"/><circle cx="79.5" cy="140.1" r="6.5"/><circle cx="60.6" cy="138.6" r="6.0"/><circle cx="56.9" cy="139.5" r="7.7"/><circle cx="45.4" cy="131.2" r="7.6"/><circle cx="39.3" cy="124.4" r="6.8"/><circle cx="36.7" cy="105.8" r="8.0"/><circle cx="40.9" cy="84.3" r="6.5"/></g>
<g filter="url(#g2)"><circle cx="67.4" cy="109.2" r="4.6" fill="#8a2a94" opacity="0.45"/><circle cx="68.9" cy="134.0" r="6.2" fill="#7d2487" opacity="0.42"/><circle cx="106.0" cy="117.8" r="6.3" fill="#b44fbd" opacity="0.32"/><circle cx="71.7" cy="122.5" r="4.0" fill="#a945b3" opacity="0.21"/><circle cx="69.2" cy="107.5" r="7.3" fill="#8a2a94" opacity="0.30"/><circle cx="74.5" cy="105.5" r="7.2" fill="#8a2a94" opacity="0.43"/><circle cx="136.5" cy="125.1" r="7.2" fill="#a945b3" opacity="0.25"/><circle cx="38.6" cy="104.5" r="5.7" fill="#8a2a94" opacity="0.49"/><circle cx="83.4" cy="108.0" r="7.9" fill="#8a2a94" opacity="0.38"/><circle cx="162.0" cy="108.7" r="6.1" fill="#7d2487" opacity="0.40"/><circle cx="154.6" cy="118.8" r="6.2" fill="#b44fbd" opacity="0.48"/><circle cx="141.8" cy="132.1" r="4.1" fill="#7d2487" opacity="0.36"/><circle cx="147.9" cy="133.8" r="5.6" fill="#b44fbd" opacity="0.27"/><circle cx="128.9" cy="114.9" r="4.9" fill="#a945b3" opacity="0.30"/><circle cx="75.5" cy="120.4" r="5.8" fill="#8a2a94" opacity="0.37"/><circle cx="148.9" cy="95.0" r="5.9" fill="#8a2a94" opacity="0.36"/><circle cx="148.6" cy="135.3" r="4.7" fill="#b44fbd" opacity="0.34"/><circle cx="120.2" cy="121.1" r="6.9" fill="#b44fbd" opacity="0.37"/><circle cx="111.7" cy="104.7" r="5.8" fill="#7d2487" opacity="0.21"/><circle cx="134.8" cy="93.9" r="7.1" fill="#7d2487" opacity="0.32"/><circle cx="145.1" cy="101.2" r="5.3" fill="#b44fbd" opacity="0.37"/><circle cx="88.3" cy="125.5" r="5.3" fill="#a945b3" opacity="0.20"/><circle cx="53.1" cy="134.1" r="4.9" fill="#7d2487" opacity="0.28"/><circle cx="86.1" cy="113.2" r="7.3" fill="#b44fbd" opacity="0.21"/><circle cx="77.6" cy="138.1" r="5.2" fill="#7d2487" opacity="0.22"/><circle cx="97.9" cy="111.3" r="7.1" fill="#8a2a94" opacity="0.30"/><circle cx="98.0" cy="109.3" r="7.4" fill="#8a2a94" opacity="0.40"/><circle cx="91.7" cy="124.7" r="7.1" fill="#a945b3" opacity="0.46"/><circle cx="155.5" cy="124.3" r="4.0" fill="#8a2a94" opacity="0.50"/><circle cx="134.0" cy="107.5" r="4.5" fill="#7d2487" opacity="0.33"/><circle cx="98.4" cy="78.6" r="5.8" fill="#7d2487" opacity="0.22"/><circle cx="100.8" cy="113.4" r="7.4" fill="#a945b3" opacity="0.38"/><circle cx="101.5" cy="141.6" r="7.3" fill="#b44fbd" opacity="0.27"/><circle cx="138.8" cy="132.2" r="4.9" fill="#a945b3" opacity="0.34"/><circle cx="105.5" cy="86.4" r="5.5" fill="#8a2a94" opacity="0.23"/><circle cx="150.1" cy="113.0" r="7.4" fill="#7d2487" opacity="0.36"/><circle cx="141.9" cy="95.4" r="4.3" fill="#b44fbd" opacity="0.23"/><circle cx="128.9" cy="97.1" r="4.4" fill="#7d2487" opacity="0.29"/><circle cx="116.9" cy="131.3" r="5.3" fill="#a945b3" opacity="0.33"/><circle cx="42.2" cy="95.6" r="5.3" fill="#a945b3" opacity="0.33"/><circle cx="78.4" cy="87.9" r="7.7" fill="#7d2487" opacity="0.43"/><circle cx="89.2" cy="78.0" r="5.2" fill="#a945b3" opacity="0.40"/><circle cx="39.8" cy="102.3" r="6.0" fill="#8a2a94" opacity="0.25"/><circle cx="97.7" cy="130.0" r="4.3" fill="#7d2487" opacity="0.29"/><circle cx="114.1" cy="109.1" r="7.0" fill="#a945b3" opacity="0.21"/><circle cx="87.2" cy="95.8" r="5.8" fill="#b44fbd" opacity="0.43"/><circle cx="134.9" cy="119.0" r="5.8" fill="#a945b3" opacity="0.22"/><circle cx="90.4" cy="132.5" r="7.3" fill="#8a2a94" opacity="0.25"/><circle cx="124.4" cy="95.6" r="5.4" fill="#8a2a94" opacity="0.26"/><circle cx="48.2" cy="117.7" r="7.1" fill="#b44fbd" opacity="0.21"/><circle cx="64.7" cy="90.0" r="4.7" fill="#a945b3" opacity="0.46"/><circle cx="48.5" cy="107.4" r="4.0" fill="#8a2a94" opacity="0.38"/><circle cx="68.2" cy="132.4" r="5.7" fill="#8a2a94" opacity="0.41"/><circle cx="42.7" cy="92.1" r="6.5" fill="#b44fbd" opacity="0.20"/><circle cx="144.3" cy="87.9" r="5.1" fill="#b44fbd" opacity="0.32"/><circle cx="127.2" cy="101.9" r="4.1" fill="#7d2487" opacity="0.25"/><circle cx="63.1" cy="102.7" r="6.6" fill="#8a2a94" opacity="0.42"/><circle cx="88.3" cy="134.6" r="6.8" fill="#7d2487" opacity="0.21"/><circle cx="98.8" cy="95.4" r="6.9" fill="#b44fbd" opacity="0.34"/><circle cx="71.2" cy="90.0" r="7.6" fill="#7d2487" opacity="0.29"/><circle cx="144.1" cy="98.1" r="6.9" fill="#8a2a94" opacity="0.31"/><circle cx="104.9" cy="113.6" r="5.0" fill="#a945b3" opacity="0.48"/><circle cx="114.8" cy="96.0" r="5.7" fill="#a945b3" opacity="0.31"/><circle cx="131.0" cy="110.3" r="6.1" fill="#a945b3" opacity="0.37"/><circle cx="137.3" cy="107.2" r="5.8" fill="#b44fbd" opacity="0.26"/><circle cx="76.6" cy="91.7" r="4.9" fill="#8a2a94" opacity="0.44"/><circle cx="93.1" cy="93.4" r="4.3" fill="#a945b3" opacity="0.43"/><circle cx="154.7" cy="112.2" r="4.9" fill="#7d2487" opacity="0.35"/><circle cx="154.6" cy="132.2" r="7.7" fill="#b44fbd" opacity="0.44"/><circle cx="104.2" cy="113.6" r="5.2" fill="#7d2487" opacity="0.34"/></g>
<path d="M47.2 77.2C51.0 74.8 55.9 74.9 60.3 74.5C64.6 74.2 68.2 75.1 73.3 75.0C78.4 74.9 85.3 74.2 90.9 74.1C96.5 74.0 101.9 74.3 107.1 74.5C112.3 74.8 116.3 74.2 121.9 75.4C127.4 76.7 135.4 80.0 140.4 82.0C145.4 84.0 149.0 85.4 152.1 87.6C155.2 89.8 157.0 91.0 159.1 95.1C161.2 99.1 164.7 106.0 164.7 111.9C164.7 117.8 161.5 126.0 159.1 130.5C156.7 135.0 153.4 136.7 150.3 138.9C147.2 141.1 144.3 143.2 140.4 143.8C136.5 144.4 131.2 142.9 126.9 142.5C122.6 142.1 118.8 141.5 114.3 141.6C109.8 141.7 104.9 142.9 99.9 142.9C95.0 142.9 89.7 141.8 84.6 141.6C79.5 141.4 74.0 141.9 69.3 141.6C64.6 141.3 60.4 141.0 56.5 139.8C52.6 138.6 48.7 136.6 45.9 134.4C43.1 132.2 41.6 131.1 39.8 126.7C38.0 122.4 35.4 114.3 35.1 108.1C34.8 101.9 35.8 94.5 37.8 89.4C39.8 84.2 43.5 79.7 47.2 77.2Z" fill="#fff" filter="url(#mW1)" opacity="0.1"/><path d="M47.2 77.2C51.0 74.8 55.9 74.9 60.3 74.5C64.6 74.2 68.2 75.1 73.3 75.0C78.4 74.9 85.3 74.2 90.9 74.1C96.5 74.0 101.9 74.3 107.1 74.5C112.3 74.8 116.3 74.2 121.9 75.4C127.4 76.7 135.4 80.0 140.4 82.0C145.4 84.0 149.0 85.4 152.1 87.6C155.2 89.8 157.0 91.0 159.1 95.1C161.2 99.1 164.7 106.0 164.7 111.9C164.7 117.8 161.5 126.0 159.1 130.5C156.7 135.0 153.4 136.7 150.3 138.9C147.2 141.1 144.3 143.2 140.4 143.8C136.5 144.4 131.2 142.9 126.9 142.5C122.6 142.1 118.8 141.5 114.3 141.6C109.8 141.7 104.9 142.9 99.9 142.9C95.0 142.9 89.7 141.8 84.6 141.6C79.5 141.4 74.0 141.9 69.3 141.6C64.6 141.3 60.4 141.0 56.5 139.8C52.6 138.6 48.7 136.6 45.9 134.4C43.1 132.2 41.6 131.1 39.8 126.7C38.0 122.4 35.4 114.3 35.1 108.1C34.8 101.9 35.8 94.5 37.8 89.4C39.8 84.2 43.5 79.7 47.2 77.2Z" fill="#fff" filter="url(#mK1)" opacity="0.25"/>
<ellipse cx="62.2" cy="163.8" rx="12" ry="7.800" fill="#9c37a5" transform="rotate(28 62.2 163.8)" filter="url(#g2)"/>
<ellipse cx="156" cy="41" rx="4" ry="3" fill="#3a163e" filter="url(#g2)"/>
<g fill="none" stroke-linecap="round" filter="url(#g1)" opacity="0.7">
<path d="M65 80 C63 100 64 125 70 144" stroke="#cdb4d6" stroke-width="2"/>
<path d="M137 82 C140 105 138 125 133 144" stroke="#b99ac6" stroke-width="2"/>
<path d="M97 76 C94 100 89 120 89 144" stroke="#e9e0ee" stroke-width="2.4"/>
<path d="M107 76 C118 100 119 125 113 144" stroke="#d6c2de" stroke-width="1.8"/>
<path d="M88 76 C79 100 76 125 82 144" stroke="#d6c2de" stroke-width="1.8"/>
<path d="M76 92 C84 104 80 120 74 132" stroke="#d6c2de" stroke-width="1.3"/>
<path d="M125 90 C118 108 124 122 129 134" stroke="#d6c2de" stroke-width="1.3"/>
</g>
</g></g>
<rect x="77.20" y="1109.10" width="123.20" height="3.20" fill="#fff"/>
<text x="125.08" y="1103.20" font-size="23" fill="#fff" stroke="#fff">5µM</text>
<path d="M33.5 1061.7H55" stroke="#fff" stroke-width="2.7" fill="none"/><path d="M62 1061.7L48.500 1055.7L48.500 1067.7Z" fill="#fff"/>
<text transform="translate(456.23 883.90) scale(0.957 1)" font-size="43" font-weight="bold" fill="#000">H</text>
<text x="513.55" y="893.00" font-size="23" fill="#6cb873" stroke="#6cb873">tubulin</text>
<text x="596.96" y="893.00" font-size="23" fill="#ae1a6c" stroke="#ae1a6c">DNA</text>
<g clip-path="url(#c14)">
<rect x="477.10" y="895.00" width="192.60" height="220.60" fill="#020202"/>
<g transform="translate(477.10 895.00)">
<ellipse cx="97" cy="105" rx="30" ry="42" fill="#1f5a1d" opacity="0.55" filter="url(#g5)"/>
<g fill="none" stroke-linecap="round" filter="url(#g1)" opacity="0.78">
<path d="M64.0 34 C64.0 70 66.0 110 69.0 134 S84.0 168 84.0 176" stroke="#2f7f2c" stroke-width="2.0"/>
<path d="M68.3 34 C70.0 70 74.0 110 75.0 134 S88.3 168 88.3 176" stroke="#3f9a3a" stroke-width="2.2"/>
<path d="M72.6 34 C76.0 70 82.0 110 81.0 134 S92.6 168 92.6 176" stroke="#48ad42" stroke-width="2.0"/>
<path d="M77.0 34 C82.0 70 84.0 110 87.0 134 S97.0 168 97.0 176" stroke="#3f9a3a" stroke-width="2.4"/>
<path d="M81.3 34 C88.0 70 92.0 110 93.0 134 S101.3 168 101.3 176" stroke="#48ad42" stroke-width="2.0"/>
<path d="M85.6 34 C94.0 70 100.0 110 99.0 134 S105.6 168 105.6 176" stroke="#3f9a3a" stroke-width="2.2"/>
<path d="M89.9 34 C100.0 70 102.0 110 105.0 134 S109.9 168 109.9 176" stroke="#48ad42" stroke-width="1.8"/>
<path d="M94.2 34 C106.0 70 110.0 110 111.0 134 S114.2 168 114.2 176" stroke="#3f9a3a" stroke-width="2.2"/>
<path d="M98.6 34 C112.0 70 118.0 110 117.0 134 S118.6 168 118.6 176" stroke="#48ad42" stroke-width="2.0"/>
<path d="M102.9 34 C118.0 70 120.0 110 123.0 134 S122.9 168 122.9 176" stroke="#2f7f2c" stroke-width="1.8"/>
<path d="M106.5 34 C123.0 70 127.0 110 128.0 134 S126.5 168 126.5 176" stroke="#2a6f28" stroke-width="1.6"/>
</g>
<g filter="url(#g2)" fill="#8d3596" opacity="0.8"><path d="M78.0 40.0C79.7 32.7 86.0 33.0 90.0 32.0C94.0 31.0 99.7 29.3 102.0 34.0C104.3 38.7 104.3 52.7 104.0 60.0C103.7 67.3 102.7 74.7 100.0 78.0C97.3 81.3 91.3 80.3 88.0 80.0C84.7 79.7 81.7 82.7 80.0 76.0C78.3 69.3 76.3 47.3 78.0 40.0Z"/></g>
<g filter="url(#g2)" fill="#a03aaa" opacity="1.0"><path d="M47.3 68.7C47.0 64.9 47.2 57.4 48.2 52.9C49.2 48.3 51.1 43.8 53.5 41.5C55.8 39.1 59.6 38.4 62.3 38.8C64.9 39.2 67.0 43.8 69.3 44.1C71.7 44.4 74.3 39.4 76.4 40.6C78.4 41.7 80.8 46.4 81.7 51.1C82.5 55.8 82.2 64.3 81.7 68.7C81.1 73.1 80.5 76.4 78.1 77.5C75.8 78.7 71.1 75.8 67.6 75.8C64.1 75.8 59.9 77.5 57.0 77.5C54.1 77.5 51.6 77.2 50.0 75.8C48.4 74.3 47.6 72.5 47.3 68.7Z"/><circle cx="46.0" cy="64.8" r="4.6"/><circle cx="50.5" cy="52.3" r="4.6"/><circle cx="56.1" cy="42.8" r="5.2"/><circle cx="65.0" cy="42.7" r="6.4"/><circle cx="70.1" cy="42.4" r="4.5"/><circle cx="80.8" cy="46.9" r="5.3"/><circle cx="81.9" cy="55.1" r="6.1"/><circle cx="80.1" cy="72.0" r="5.8"/><circle cx="77.2" cy="75.2" r="5.8"/><circle cx="63.3" cy="77.3" r="4.8"/><circle cx="55.3" cy="75.3" r="5.5"/><circle cx="48.0" cy="74.5" r="4.1"/></g>
<g filter="url(#g2)" fill="#a03aaa" opacity="1.0"><path d="M101.6 36.0C103.1 31.9 104.0 32.5 105.1 30.8C106.3 29.0 106.0 26.1 108.7 25.5C111.3 24.9 117.6 25.2 121.0 27.2C124.3 29.3 127.1 33.7 128.9 37.8C130.6 41.9 131.4 47.5 131.5 51.9C131.7 56.3 131.2 61.4 129.8 64.2C128.3 67.0 125.7 68.2 122.7 68.6C119.8 69.0 115.1 65.8 112.2 66.8C109.2 67.9 107.5 73.7 105.1 74.8C102.8 75.8 99.6 76.2 98.1 73.0C96.6 69.8 95.7 61.6 96.3 55.4C96.9 49.2 100.1 40.1 101.6 36.0Z"/><circle cx="101.1" cy="32.5" r="4.0"/><circle cx="107.0" cy="28.6" r="5.4"/><circle cx="112.0" cy="25.1" r="5.3"/><circle cx="125.5" cy="32.7" r="6.9"/><circle cx="128.8" cy="42.5" r="4.0"/><circle cx="130.9" cy="54.7" r="5.5"/><circle cx="125.6" cy="66.8" r="6.2"/><circle cx="117.1" cy="68.5" r="6.3"/><circle cx="110.8" cy="66.9" r="6.5"/><circle cx="102.0" cy="73.3" r="4.5"/><circle cx="95.2" cy="62.3" r="4.9"/><circle cx="96.0" cy="53.7" r="5.7"/><circle cx="100.4" cy="44.2" r="4.6"/></g>
<g filter="url(#g2)" fill="#a03aaa" opacity="1.0"><path d="M59.0 149.8C58.7 146.2 59.9 140.6 60.8 137.2C61.7 133.7 62.3 129.7 64.4 129.1C66.5 128.5 69.8 133.4 73.4 133.6C77.0 133.7 81.5 130.9 86.0 130.0C90.5 129.1 95.6 128.6 100.4 128.2C105.2 127.7 110.9 127.9 114.8 127.3C118.7 126.7 120.8 124.1 123.8 124.6C126.8 125.0 129.8 128.5 132.8 130.0C135.8 131.5 139.1 131.5 141.8 133.6C144.5 135.7 147.5 139.0 149.0 142.6C150.5 146.2 151.4 151.4 150.8 155.2C150.2 158.9 148.1 162.8 145.4 165.1C142.7 167.3 138.2 168.8 134.6 168.7C131.0 168.5 127.7 164.0 123.8 164.2C119.9 164.3 115.7 168.1 111.2 169.6C106.7 171.1 101.6 172.9 96.8 173.2C92.0 173.5 86.9 172.6 82.4 171.4C77.9 170.2 73.1 168.1 69.8 166.0C66.5 163.9 64.4 161.5 62.6 158.8C60.8 156.1 59.3 153.4 59.0 149.8Z"/><circle cx="57.4" cy="147.4" r="6.6"/><circle cx="63.0" cy="133.3" r="4.9"/><circle cx="65.1" cy="128.2" r="5.5"/><circle cx="80.3" cy="130.5" r="4.4"/><circle cx="90.5" cy="130.4" r="6.2"/><circle cx="101.8" cy="127.4" r="4.2"/><circle cx="118.5" cy="126.5" r="5.1"/><circle cx="125.6" cy="126.3" r="6.7"/><circle cx="135.5" cy="132.0" r="6.2"/><circle cx="145.3" cy="137.7" r="4.2"/><circle cx="149.4" cy="143.6" r="4.7"/><circle cx="147.0" cy="161.2" r="4.2"/><circle cx="144.5" cy="165.1" r="4.9"/><circle cx="131.2" cy="168.4" r="4.3"/><circle cx="124.2" cy="162.8" r="6.0"/><circle cx="102.7" cy="172.3" r="4.3"/><circle cx="95.0" cy="173.9" r="5.7"/><circle cx="82.0" cy="169.0" r="4.9"/><circle cx="64.2" cy="161.2" r="6.1"/><circle cx="62.8" cy="158.4" r="4.7"/></g>
<g filter="url(#g2)"><circle cx="64.3" cy="60.3" r="5.0" fill="#86288f" opacity="0.34"/><circle cx="59.8" cy="41.9" r="4.2" fill="#b34fbd" opacity="0.35"/><circle cx="48.8" cy="69.7" r="3.3" fill="#86288f" opacity="0.34"/><circle cx="57.6" cy="76.2" r="3.9" fill="#86288f" opacity="0.44"/><circle cx="73.1" cy="63.0" r="3.4" fill="#bd5fc7" opacity="0.43"/><circle cx="61.8" cy="48.3" r="3.5" fill="#bd5fc7" opacity="0.36"/><circle cx="61.9" cy="43.5" r="3.9" fill="#b34fbd" opacity="0.37"/><circle cx="51.7" cy="52.7" r="3.8" fill="#86288f" opacity="0.33"/><circle cx="77.5" cy="46.8" r="3.2" fill="#86288f" opacity="0.28"/><circle cx="70.7" cy="63.8" r="4.6" fill="#86288f" opacity="0.26"/><circle cx="76.3" cy="67.1" r="4.8" fill="#b34fbd" opacity="0.50"/><circle cx="64.6" cy="74.8" r="3.2" fill="#b34fbd" opacity="0.46"/><circle cx="74.7" cy="46.2" r="4.5" fill="#bd5fc7" opacity="0.37"/><circle cx="69.5" cy="49.3" r="4.9" fill="#86288f" opacity="0.37"/><circle cx="64.0" cy="49.1" r="3.6" fill="#b34fbd" opacity="0.30"/><circle cx="63.1" cy="51.4" r="5.3" fill="#b34fbd" opacity="0.43"/></g>
<g filter="url(#g2)"><circle cx="113.1" cy="56.3" r="4.0" fill="#bd5fc7" opacity="0.26"/><circle cx="124.2" cy="64.6" r="3.5" fill="#bd5fc7" opacity="0.54"/><circle cx="99.6" cy="46.2" r="3.5" fill="#b34fbd" opacity="0.28"/><circle cx="98.5" cy="54.4" r="3.5" fill="#b34fbd" opacity="0.28"/><circle cx="127.2" cy="40.4" r="3.3" fill="#86288f" opacity="0.36"/><circle cx="107.4" cy="43.7" r="4.2" fill="#b34fbd" opacity="0.27"/><circle cx="104.8" cy="34.0" r="3.5" fill="#bd5fc7" opacity="0.33"/><circle cx="119.8" cy="65.8" r="3.1" fill="#86288f" opacity="0.51"/><circle cx="104.5" cy="67.8" r="4.7" fill="#bd5fc7" opacity="0.32"/><circle cx="129.4" cy="55.7" r="4.1" fill="#86288f" opacity="0.34"/><circle cx="109.6" cy="39.4" r="5.1" fill="#86288f" opacity="0.26"/><circle cx="114.3" cy="66.2" r="5.2" fill="#bd5fc7" opacity="0.33"/><circle cx="111.3" cy="63.8" r="3.1" fill="#86288f" opacity="0.35"/><circle cx="114.4" cy="28.1" r="4.9" fill="#bd5fc7" opacity="0.34"/><circle cx="126.8" cy="62.4" r="4.9" fill="#bd5fc7" opacity="0.35"/><circle cx="118.1" cy="32.4" r="4.0" fill="#86288f" opacity="0.36"/></g>
<g filter="url(#g2)"><circle cx="101.8" cy="167.1" r="4.1" fill="#bd5fc7" opacity="0.31"/><circle cx="116.8" cy="165.6" r="3.1" fill="#86288f" opacity="0.41"/><circle cx="128.7" cy="141.6" r="4.8" fill="#b34fbd" opacity="0.46"/><circle cx="123.8" cy="140.9" r="4.3" fill="#b34fbd" opacity="0.44"/><circle cx="142.6" cy="140.0" r="4.0" fill="#86288f" opacity="0.52"/><circle cx="114.2" cy="136.7" r="4.8" fill="#b34fbd" opacity="0.30"/><circle cx="125.0" cy="152.3" r="4.7" fill="#b34fbd" opacity="0.29"/><circle cx="73.5" cy="155.6" r="4.3" fill="#86288f" opacity="0.55"/><circle cx="134.9" cy="142.8" r="4.7" fill="#b34fbd" opacity="0.35"/><circle cx="96.1" cy="158.7" r="4.0" fill="#86288f" opacity="0.25"/><circle cx="108.3" cy="167.0" r="3.2" fill="#b34fbd" opacity="0.47"/><circle cx="101.0" cy="158.9" r="5.8" fill="#bd5fc7" opacity="0.41"/><circle cx="91.3" cy="155.9" r="3.4" fill="#86288f" opacity="0.28"/><circle cx="85.5" cy="131.4" r="4.2" fill="#86288f" opacity="0.54"/><circle cx="111.0" cy="164.3" r="4.2" fill="#b34fbd" opacity="0.39"/><circle cx="147.8" cy="155.0" r="4.2" fill="#bd5fc7" opacity="0.32"/><circle cx="123.4" cy="133.6" r="5.4" fill="#b34fbd" opacity="0.44"/><circle cx="91.3" cy="144.6" r="4.1" fill="#b34fbd" opacity="0.26"/><circle cx="120.5" cy="129.4" r="3.8" fill="#bd5fc7" opacity="0.32"/><circle cx="127.2" cy="133.8" r="6.0" fill="#bd5fc7" opacity="0.43"/><circle cx="70.2" cy="148.1" r="5.9" fill="#bd5fc7" opacity="0.52"/><circle cx="125.7" cy="144.2" r="3.9" fill="#86288f" opacity="0.30"/><circle cx="136.3" cy="157.2" r="4.6" fill="#86288f" opacity="0.29"/><circle cx="97.4" cy="166.8" r="5.9" fill="#b34fbd" opacity="0.46"/><circle cx="73.3" cy="158.6" r="4.0" fill="#b34fbd" opacity="0.37"/><circle cx="94.4" cy="163.4" r="3.5" fill="#86288f" opacity="0.41"/><circle cx="109.8" cy="153.3" r="5.7" fill="#bd5fc7" opacity="0.46"/><circle cx="127.6" cy="160.6" r="5.2" fill="#bd5fc7" opacity="0.33"/><circle cx="142.4" cy="137.8" r="4.6" fill="#b34fbd" opacity="0.38"/><circle cx="81.4" cy="155.5" r="3.6" fill="#86288f" opacity="0.35"/><circle cx="141.0" cy="140.4" r="5.9" fill="#86288f" opacity="0.51"/><circle cx="125.0" cy="137.9" r="5.1" fill="#bd5fc7" opacity="0.42"/><circle cx="71.4" cy="149.9" r="3.7" fill="#b34fbd" opacity="0.46"/><circle cx="93.0" cy="152.0" r="4.3" fill="#86288f" opacity="0.26"/><circle cx="143.3" cy="150.2" r="6.0" fill="#86288f" opacity="0.42"/><circle cx="140.2" cy="163.0" r="5.9" fill="#b34fbd" opacity="0.35"/><circle cx="91.0" cy="150.7" r="4.5" fill="#b34fbd" opacity="0.31"/><circle cx="103.1" cy="146.4" r="4.8" fill="#86288f" opacity="0.43"/><circle cx="76.7" cy="137.2" r="4.5" fill="#bd5fc7" opacity="0.53"/><circle cx="114.3" cy="135.1" r="3.5" fill="#b34fbd" opacity="0.43"/></g>
<path d="M46.9 68.9C46.6 65.0 46.8 57.4 47.8 52.7C48.9 48.1 50.8 43.4 53.2 41.0C55.6 38.6 59.5 37.9 62.2 38.3C64.9 38.8 67.0 43.4 69.4 43.7C71.8 44.0 74.5 38.9 76.6 40.1C78.7 41.3 81.1 46.1 82.0 50.9C82.9 55.7 82.6 64.4 82.0 68.9C81.4 73.4 80.8 76.7 78.4 77.9C76.0 79.1 71.2 76.1 67.6 76.1C64.0 76.1 59.8 77.9 56.8 77.9C53.8 77.9 51.3 77.6 49.6 76.1C48.0 74.6 47.2 72.8 46.9 68.9Z" fill="#fff" filter="url(#mW1)" opacity="0.1"/><path d="M46.9 68.9C46.6 65.0 46.8 57.4 47.8 52.7C48.9 48.1 50.8 43.4 53.2 41.0C55.6 38.6 59.5 37.9 62.2 38.3C64.9 38.8 67.0 43.4 69.4 43.7C71.8 44.0 74.5 38.9 76.6 40.1C78.7 41.3 81.1 46.1 82.0 50.9C82.9 55.7 82.6 64.4 82.0 68.9C81.4 73.4 80.8 76.7 78.4 77.9C76.0 79.1 71.2 76.1 67.6 76.1C64.0 76.1 59.8 77.9 56.8 77.9C53.8 77.9 51.3 77.6 49.6 76.1C48.0 74.6 47.2 72.8 46.9 68.9Z" fill="#fff" filter="url(#mK1)" opacity="0.35"/>
<path d="M101.3 35.7C102.8 31.5 103.7 32.1 104.9 30.3C106.1 28.5 105.8 25.5 108.5 24.9C111.2 24.3 117.7 24.6 121.1 26.7C124.6 28.8 127.4 33.3 129.2 37.5C131.0 41.7 131.8 47.4 131.9 51.9C132.1 56.4 131.6 61.6 130.1 64.5C128.6 67.3 125.9 68.5 122.9 69.0C119.9 69.5 115.1 66.2 112.1 67.2C109.1 68.2 107.3 74.2 104.9 75.3C102.5 76.3 99.2 76.8 97.7 73.5C96.2 70.2 95.3 61.8 95.9 55.5C96.5 49.2 99.8 39.9 101.3 35.7Z" fill="#fff" filter="url(#mW1)" opacity="0.1"/><path d="M101.3 35.7C102.8 31.5 103.7 32.1 104.9 30.3C106.1 28.5 105.8 25.5 108.5 24.9C111.2 24.3 117.7 24.6 121.1 26.7C124.6 28.8 127.4 33.3 129.2 37.5C131.0 41.7 131.8 47.4 131.9 51.9C132.1 56.4 131.6 61.6 130.1 64.5C128.6 67.3 125.9 68.5 122.9 69.0C119.9 69.5 115.1 66.2 112.1 67.2C109.1 68.2 107.3 74.2 104.9 75.3C102.5 76.3 99.2 76.8 97.7 73.5C96.2 70.2 95.3 61.8 95.9 55.5C96.5 49.2 99.8 39.9 101.3 35.7Z" fill="#fff" filter="url(#mK1)" opacity="0.35"/>
<path d="M59.0 149.8C58.7 146.2 59.9 140.6 60.8 137.2C61.7 133.7 62.3 129.7 64.4 129.1C66.5 128.5 69.8 133.4 73.4 133.6C77.0 133.7 81.5 130.9 86.0 130.0C90.5 129.1 95.6 128.6 100.4 128.2C105.2 127.7 110.9 127.9 114.8 127.3C118.7 126.7 120.8 124.1 123.8 124.6C126.8 125.0 129.8 128.5 132.8 130.0C135.8 131.5 139.1 131.5 141.8 133.6C144.5 135.7 147.5 139.0 149.0 142.6C150.5 146.2 151.4 151.4 150.8 155.2C150.2 158.9 148.1 162.8 145.4 165.1C142.7 167.3 138.2 168.8 134.6 168.7C131.0 168.5 127.7 164.0 123.8 164.2C119.9 164.3 115.7 168.1 111.2 169.6C106.7 171.1 101.6 172.9 96.8 173.2C92.0 173.5 86.9 172.6 82.4 171.4C77.9 170.2 73.1 168.1 69.8 166.0C66.5 163.9 64.4 161.5 62.6 158.8C60.8 156.1 59.3 153.4 59.0 149.8Z" fill="#fff" filter="url(#mW1)" opacity="0.1"/><path d="M59.0 149.8C58.7 146.2 59.9 140.6 60.8 137.2C61.7 133.7 62.3 129.7 64.4 129.1C66.5 128.5 69.8 133.4 73.4 133.6C77.0 133.7 81.5 130.9 86.0 130.0C90.5 129.1 95.6 128.6 100.4 128.2C105.2 127.7 110.9 127.9 114.8 127.3C118.7 126.7 120.8 124.1 123.8 124.6C126.8 125.0 129.8 128.5 132.8 130.0C135.8 131.5 139.1 131.5 141.8 133.6C144.5 135.7 147.5 139.0 149.0 142.6C150.5 146.2 151.4 151.4 150.8 155.2C150.2 158.9 148.1 162.8 145.4 165.1C142.7 167.3 138.2 168.8 134.6 168.7C131.0 168.5 127.7 164.0 123.8 164.2C119.9 164.3 115.7 168.1 111.2 169.6C106.7 171.1 101.6 172.9 96.8 173.2C92.0 173.5 86.9 172.6 82.4 171.4C77.9 170.2 73.1 168.1 69.8 166.0C66.5 163.9 64.4 161.5 62.6 158.8C60.8 156.1 59.3 153.4 59.0 149.8Z" fill="#fff" filter="url(#mK1)" opacity="0.35"/>
<g fill="none" stroke="#a53fae" stroke-width="4" stroke-linecap="round" filter="url(#g06)">
<path d="M47.500 98.500 Q52 95 57.500 98 Q60.500 101 58.500 105"/>
<path d="M58 108 Q57.500 112 61 118.500"/>
<path d="M46.800 101 Q45.500 104 47.500 106"/>
<path d="M47.500 109.500 L49 111"/>
</g>
<g fill="none" stroke-linecap="round" filter="url(#g1)" opacity="0.92">
<path d="M62 38 Q70 24 82 23 Q96 23 106 31" stroke="#52c44c" stroke-width="6"/>
<path d="M77 14 L79 26" stroke="#52c44c" stroke-width="6.5"/>
<path d="M81 173 Q104 190 129 168" stroke="#52c44c" stroke-width="7"/>
<path d="M106 182 L106.500 188" stroke="#52c44c" stroke-width="4"/>
</g>
<g fill="none" stroke-linecap="round" filter="url(#g1)" opacity="0.6">
<path d="M68 38 C76 50 82 62 86 78" stroke="#eadff0" stroke-width="2.6"/>
<path d="M82 32 C88 48 92 60 94 78" stroke="#e0d0e6" stroke-width="2"/>
<path d="M96 30 C102 46 108 58 114 68" stroke="#eadff0" stroke-width="2.4"/>
<path d="M90 40 C94 52 100 64 104 76" stroke="#d4bedc" stroke-width="1.6"/>
<path d="M84 130 C83 150 85 162 88 172" stroke="#eadff0" stroke-width="2.6"/>
<path d="M120 128 C118 150 114 162 110 172" stroke="#e0d0e6" stroke-width="2"/>
<path d="M98 130 C98 150 96 160 94 172" stroke="#d4bedc" stroke-width="1.6"/>
<path d="M70 132 C72 148 78 160 84 168" stroke="#d4bedc" stroke-width="1.6"/>
</g>
<path d="M100 62 Q106 70 114 76" fill="none" stroke="#52c44c" stroke-width="3" stroke-linecap="round" filter="url(#g1)"/>
</g></g>
<rect x="605.30" y="1109.10" width="60.50" height="3.20" fill="#fff"/>
<text x="611.08" y="1102.90" font-size="23" fill="#fff" stroke="#fff">5µM</text>
<path d="M486.5 997.6H509" stroke="#fff" stroke-width="2.7" fill="none"/><path d="M515.8 997.6L502.500 991.6L502.500 1003.6Z" fill="#fff"/>
<text transform="translate(5.58 1163.00) scale(0.96 1)" font-size="43" font-weight="bold" fill="#000">J</text>
<path d="M94.8 1374.8C97.6 1374.2 106.1 1372.6 111.8 1371.3C117.5 1370.0 123.5 1368.3 128.8 1366.8C134.2 1365.2 138.3 1364.0 143.9 1362.0C149.5 1360.0 156.7 1357.2 162.6 1354.8C168.5 1352.4 173.5 1350.3 179.2 1347.6C184.8 1344.9 190.7 1341.9 196.5 1338.8C202.3 1335.7 208.4 1332.2 214.1 1329.2C219.8 1326.2 224.8 1323.7 230.4 1321.0C236.0 1318.3 241.7 1315.7 247.4 1313.0C253.1 1310.3 261.6 1306.3 264.4 1305.0" fill="none" stroke="#5fa9e9" stroke-width="3.4" stroke-linecap="round"/>
<line x1="214.10" y1="1320.80" x2="214.10" y2="1335.50" stroke="#1e1b1c" stroke-width="1.5"/>
<line x1="210.10" y1="1320.80" x2="218.10" y2="1320.80" stroke="#1e1b1c" stroke-width="1.5"/>
<line x1="210.10" y1="1335.50" x2="218.10" y2="1335.50" stroke="#1e1b1c" stroke-width="1.5"/>
<line x1="264.40" y1="1278.90" x2="264.40" y2="1333.10" stroke="#1e1b1c" stroke-width="1.5"/>
<line x1="260.40" y1="1278.90" x2="268.40" y2="1278.90" stroke="#1e1b1c" stroke-width="1.5"/>
<line x1="260.40" y1="1333.10" x2="268.40" y2="1333.10" stroke="#1e1b1c" stroke-width="1.5"/>
<line x1="143.90" y1="1357.00" x2="143.90" y2="1371.00" stroke="#1e1b1c" stroke-width="1.5"/>
<line x1="140.90" y1="1357.00" x2="146.90" y2="1357.00" stroke="#1e1b1c" stroke-width="1.5"/>
<line x1="140.90" y1="1371.00" x2="146.90" y2="1371.00" stroke="#1e1b1c" stroke-width="1.5"/>
<path d="M143.9 1358.2L150.5 1365.4L143.9 1372.6L137.3 1365.4Z" fill="#5fa9e9"/>
<path d="M179.2 1341.9L185.8 1349.1L179.2 1356.3L172.6 1349.1Z" fill="#5fa9e9"/>
<path d="M214.1 1320.9L220.7 1328.1L214.1 1335.3L207.5 1328.1Z" fill="#5fa9e9"/>
<path d="M264.4 1298.3L271.0 1305.5L264.4 1312.7L257.8 1305.5Z" fill="#5fa9e9"/>
<path d="M94.8 1377.4C97.6 1376.6 106.1 1374.5 111.8 1372.6C117.5 1370.7 123.5 1368.4 128.8 1366.0C134.2 1363.6 138.3 1361.6 143.9 1358.2C149.5 1354.8 156.7 1350.0 162.6 1345.4C168.5 1340.8 173.5 1336.3 179.2 1330.4C184.8 1324.5 190.7 1317.3 196.5 1310.0C202.3 1302.7 208.4 1294.4 214.1 1286.4C219.8 1278.4 224.8 1270.4 230.4 1262.2C236.0 1254.0 241.7 1245.2 247.4 1237.4C253.1 1229.6 261.6 1219.2 264.4 1215.6" fill="none" stroke="#cb2027" stroke-width="3.4" stroke-linecap="round"/>
<line x1="179.20" y1="1310.80" x2="179.20" y2="1343.10" stroke="#1e1b1c" stroke-width="1.5"/>
<line x1="175.20" y1="1310.80" x2="183.20" y2="1310.80" stroke="#1e1b1c" stroke-width="1.5"/>
<line x1="175.20" y1="1343.10" x2="183.20" y2="1343.10" stroke="#1e1b1c" stroke-width="1.5"/>
<line x1="214.10" y1="1256.90" x2="214.10" y2="1304.80" stroke="#1e1b1c" stroke-width="1.5"/>
<line x1="210.10" y1="1256.90" x2="218.10" y2="1256.90" stroke="#1e1b1c" stroke-width="1.5"/>
<line x1="210.10" y1="1304.80" x2="218.10" y2="1304.80" stroke="#1e1b1c" stroke-width="1.5"/>
<line x1="264.40" y1="1193.90" x2="264.40" y2="1238.60" stroke="#1e1b1c" stroke-width="1.5"/>
<line x1="260.40" y1="1193.90" x2="268.40" y2="1193.90" stroke="#1e1b1c" stroke-width="1.5"/>
<line x1="260.40" y1="1238.60" x2="268.40" y2="1238.60" stroke="#1e1b1c" stroke-width="1.5"/>
<rect x="138.50" y="1356.00" width="10.60" height="11.80" fill="#cb2027"/>
<rect x="173.90" y="1322.20" width="10.60" height="11.80" fill="#cb2027"/>
<rect x="208.80" y="1274.60" width="10.60" height="11.80" fill="#cb2027"/>
<rect x="259.10" y="1209.70" width="10.60" height="11.80" fill="#cb2027"/>
<rect x="94.80" y="1173.40" width="203.20" height="207.00" fill="none" stroke="#1e1b1c" stroke-width="1.45"/>
<line x1="86.80" y1="1173.40" x2="94.80" y2="1173.40" stroke="#1e1b1c" stroke-width="1.45"/>
<text x="43.42" y="1182.10" font-size="23" stroke="#1e1b1c">125</text>
<line x1="86.80" y1="1214.80" x2="94.80" y2="1214.80" stroke="#1e1b1c" stroke-width="1.45"/>
<text x="43.31" y="1223.50" font-size="23" stroke="#1e1b1c">100</text>
<line x1="86.80" y1="1256.20" x2="94.80" y2="1256.20" stroke="#1e1b1c" stroke-width="1.45"/>
<text x="56.19" y="1264.90" font-size="23" stroke="#1e1b1c">75</text>
<line x1="86.80" y1="1297.60" x2="94.80" y2="1297.60" stroke="#1e1b1c" stroke-width="1.45"/>
<text x="56.08" y="1306.30" font-size="23" stroke="#1e1b1c">50</text>
<line x1="86.80" y1="1339.00" x2="94.80" y2="1339.00" stroke="#1e1b1c" stroke-width="1.45"/>
<text x="56.19" y="1347.70" font-size="23" stroke="#1e1b1c">25</text>
<line x1="86.80" y1="1380.40" x2="94.80" y2="1380.40" stroke="#1e1b1c" stroke-width="1.45"/>
<text x="68.84" y="1389.10" font-size="23" stroke="#1e1b1c">0</text>
<line x1="94.80" y1="1380.40" x2="94.80" y2="1384.60" stroke="#1e1b1c" stroke-width="1.45"/>
<text x="87.22" y="1407.20" font-size="23" stroke="#1e1b1c">0</text>
<line x1="128.67" y1="1380.40" x2="128.67" y2="1384.60" stroke="#1e1b1c" stroke-width="1.45"/>
<text x="121.03" y="1407.20" font-size="23" stroke="#1e1b1c">2</text>
<line x1="162.53" y1="1380.40" x2="162.53" y2="1384.60" stroke="#1e1b1c" stroke-width="1.45"/>
<text x="155.01" y="1407.20" font-size="23" stroke="#1e1b1c">4</text>
<line x1="196.40" y1="1380.40" x2="196.40" y2="1384.60" stroke="#1e1b1c" stroke-width="1.45"/>
<text x="188.70" y="1407.20" font-size="23" stroke="#1e1b1c">6</text>
<line x1="230.27" y1="1380.40" x2="230.27" y2="1384.60" stroke="#1e1b1c" stroke-width="1.45"/>
<text x="222.68" y="1407.20" font-size="23" stroke="#1e1b1c">8</text>
<line x1="264.13" y1="1380.40" x2="264.13" y2="1384.60" stroke="#1e1b1c" stroke-width="1.45"/>
<text x="249.71" y="1407.20" font-size="23" stroke="#1e1b1c">10</text>
<line x1="298.00" y1="1380.40" x2="298.00" y2="1384.60" stroke="#1e1b1c" stroke-width="1.45"/>
<text x="283.69" y="1407.20" font-size="23" stroke="#1e1b1c">12</text>
<text x="179.48" y="1429.70" font-size="23" stroke="#1e1b1c">days</text>
<text x="171.27" y="1170.60" font-size="23" stroke="#1e1b1c">MEFs</text>
<line x1="108.80" y1="1188.40" x2="151.20" y2="1188.40" stroke="#5fa9e9" stroke-width="5.4" stroke-linecap="round"/>
<path d="M130.3 1178.6L139.5 1188.2L130.3 1197.8L121.1 1188.2Z" fill="#5fa9e9"/>
<line x1="108.80" y1="1221.00" x2="151.20" y2="1221.00" stroke="#cb2027" stroke-width="5.4" stroke-linecap="round"/>
<rect x="122.05" y="1211.60" width="16.30" height="18.00" fill="#cb2027"/>
<text transform="translate(156.3 1198.2) scale(0.9 1)" font-size="23" stroke="#1e1b1c">ARF<tspan font-size="13.5" dy="-8.5">+/+</tspan></text>
<text transform="translate(156.3 1230.2) scale(0.9 1)" font-size="23" stroke="#1e1b1c">ARF<tspan font-size="13.5" dy="-8.5">-/-</tspan></text>
<line x1="278.10" y1="1209.90" x2="278.10" y2="1304.80" stroke="#111" stroke-width="2.6"/>
<text x="282.95" y="1267.46" font-size="31" stroke="#1e1b1c">*</text>
<text x="18.00" y="1351.24" font-size="23" stroke="#1e1b1c" transform="rotate(-90 18.00 1351.24)">cell number</text>
<text x="42.00" y="1355.34" font-size="23" stroke="#1e1b1c" transform="rotate(-90 42.00 1355.34)">(normalized)</text>
</g>
</svg>
</body></html>
